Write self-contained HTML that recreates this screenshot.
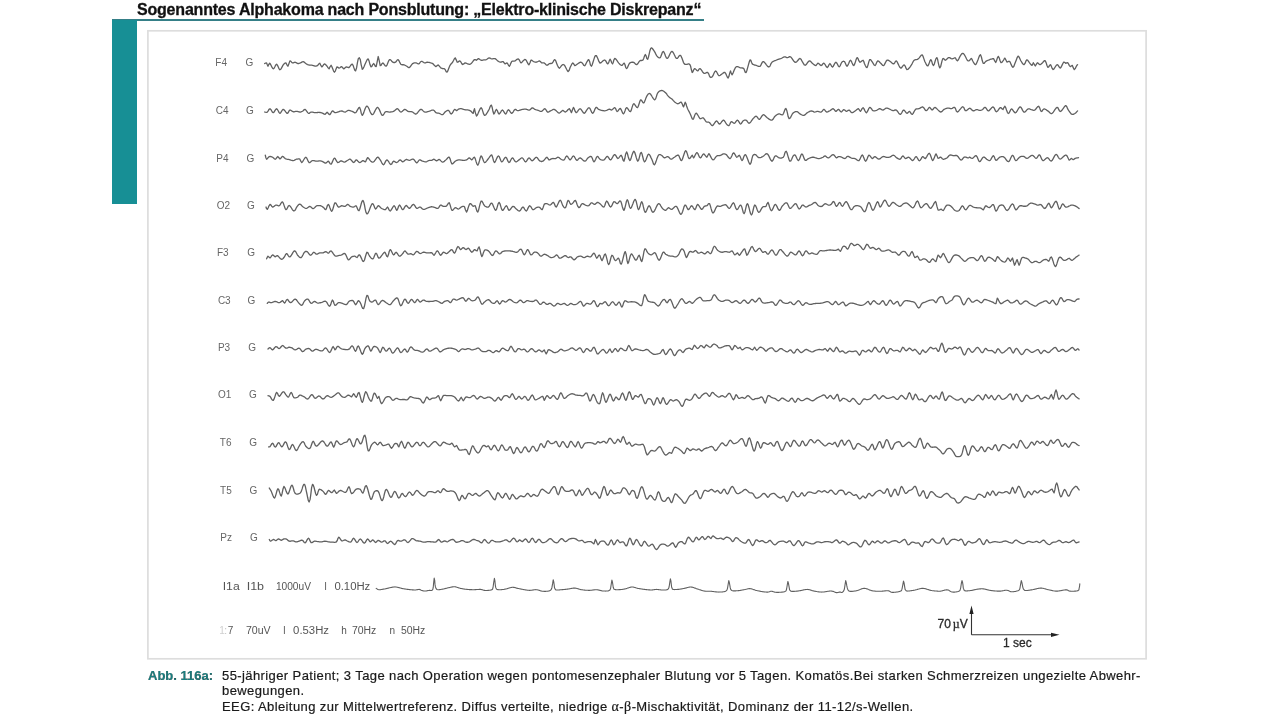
<!DOCTYPE html>
<html><head><meta charset="utf-8"><style>
html,body{margin:0;padding:0;background:#fff;width:1280px;height:720px;overflow:hidden}
body{position:relative;font-family:"Liberation Sans",Arial,sans-serif}
#title{position:absolute;left:137px;top:0.5px;font-weight:bold;font-size:16px;letter-spacing:-0.2px;color:#111;white-space:nowrap;-webkit-text-stroke:0.3px #111}
#tline{position:absolute;left:112px;top:19.2px;width:592px;height:1.6px;background:#357f87}
#tbar{position:absolute;left:112px;top:19.5px;width:25px;height:184.5px;background:#178f95}
svg{position:absolute;left:0;top:0}
.lab{font-size:10px;fill:#666}
.lab2{font-size:10px;fill:#555}
.sc{font-size:12px;fill:#2a2a2a;stroke:#2a2a2a;stroke-width:0.3px}
.tr{fill:none;stroke:#606060;stroke-width:1.3;stroke-linejoin:round;stroke-linecap:round}
#cap{position:absolute;left:148px;top:668px;font-size:13px;line-height:15.4px;color:#1a1a1a;letter-spacing:0.4px;-webkit-text-stroke:0.2px #1a1a1a}
#cap .abb{position:absolute;left:0;top:0;color:#187f80;font-weight:bold;white-space:nowrap;letter-spacing:0px}
#cap .txt{position:absolute;left:74px;top:0;width:1000px;white-space:nowrap}
.gr{font-family:"Liberation Serif",serif;font-size:14px}
</style></head><body>
<div id="title">Sogenanntes Alphakoma nach Ponsblutung: „Elektro-klinische Diskrepanz“</div>
<div id="tline"></div>
<div id="tbar"></div>
<svg width="1280" height="720" viewBox="0 0 1280 720">
<rect x="147.9" y="30.8" width="998.2" height="628" fill="none" stroke="#dddddd" stroke-width="1.7"/>
<text x="215.3" y="65.8" class="lab">F4</text>
<text x="245.5" y="65.8" class="lab">G</text>
<path class="tr" d="M264.7 63.55L265.6 63.02L266.6 62.89L267.3 64.70L268.0 66.21L268.7 64.53L269.7 63.16L270.3 63.90L271.0 65.31L271.8 66.91L272.6 68.25L273.3 68.87L274.1 68.19L275.0 66.55L275.8 64.90L276.6 64.22L277.4 65.14L278.3 67.02L279.1 68.90L279.9 69.80L280.8 69.24L281.6 67.81L282.5 66.15L283.2 64.88L284.2 63.81L285.1 63.05L285.9 62.89L286.9 64.76L287.9 66.21L288.9 63.64L289.9 60.90L290.7 61.12L291.6 62.15L292.5 62.89L293.4 62.79L294.3 62.40L295.2 62.23L296.1 62.60L297.0 63.19L297.9 63.55L298.7 63.51L299.6 63.23L300.5 62.89L301.4 62.37L302.3 61.78L303.2 61.56L304.1 62.01L304.9 62.82L305.8 63.55L306.7 64.08L307.5 64.53L308.5 64.88L309.2 65.01L310.0 65.08L310.9 65.13L311.7 65.18L312.5 65.28L313.4 65.52L314.3 65.83L315.1 66.10L315.8 66.21L316.9 65.94L317.8 65.28L318.8 63.93L319.8 63.16L320.7 65.07L321.8 66.88L322.6 66.20L323.5 64.79L324.4 63.95L325.3 64.31L326.2 65.24L327.1 66.21L328.1 67.90L329.1 68.87L330.0 66.81L331.1 65.28L331.8 66.56L332.7 68.84L333.6 71.07L334.4 72.19L335.3 71.08L336.2 68.61L337.0 66.88L338.0 67.31L339.0 68.20L339.9 67.75L340.8 66.96L341.7 66.61L342.7 67.76L343.7 68.87L344.5 68.42L345.4 67.50L346.3 66.88L347.2 67.05L348.1 67.51L349.0 67.54L349.8 66.76L350.6 65.51L351.5 64.44L352.3 64.22L353.2 65.62L354.0 68.10L354.8 70.29L355.6 70.86L356.6 67.70L357.5 62.44L358.3 58.64L359.3 57.74L360.3 59.57L361.2 64.87L362.3 69.27L363.0 68.75L363.9 66.93L364.8 64.69L365.6 62.89L366.5 60.94L367.4 59.26L368.2 58.91L369.1 61.10L370.0 64.61L370.9 66.88L371.8 66.37L372.7 64.61L373.6 63.55L374.5 64.59L375.4 66.33L376.2 66.61L377.3 61.19L378.2 56.52L379.2 60.57L380.2 65.55L381.0 65.31L381.9 63.77L382.9 62.89L383.6 63.53L384.5 64.80L385.3 65.94L386.2 66.21L387.0 65.03L387.8 62.93L388.7 60.81L389.5 59.57L390.3 59.64L391.2 60.48L392.0 61.53L392.8 62.23L393.8 62.52L394.6 62.52L395.5 62.23L396.4 61.27L397.2 60.01L398.1 59.57L399.0 60.73L399.9 62.69L400.8 64.22L401.6 64.65L402.4 64.76L403.3 64.76L404.1 64.88L405.0 65.28L405.9 65.74L406.8 66.21L407.6 66.85L408.5 67.49L409.4 67.54L410.2 66.84L411.0 65.67L411.9 64.44L412.7 63.55L413.6 63.11L414.4 62.91L415.3 62.86L416.1 62.89L417.0 63.25L417.9 63.81L418.7 63.95L419.6 63.19L420.4 62.01L421.4 61.30L422.2 61.45L423.0 61.97L423.9 62.55L424.7 62.89L425.6 62.79L426.4 62.43L427.4 62.23L428.2 62.30L429.1 62.48L429.9 62.69L430.7 62.89L431.7 63.07L432.7 63.55L433.4 64.26L434.3 65.23L435.2 66.13L436.0 66.61L437.0 65.73L438.0 64.88L438.7 65.42L439.5 66.39L440.4 67.44L441.3 68.20L442.1 68.49L443.0 68.54L443.8 68.58L444.6 68.87L445.5 70.15L446.2 71.72L447.0 72.19L447.7 71.15L448.4 69.28L449.2 67.21L449.9 65.55L450.8 64.23L451.7 63.29L452.6 62.23L453.5 60.52L454.4 58.69L455.2 57.84L456.2 59.84L457.2 62.23L458.1 62.02L459.0 61.19L459.9 60.90L460.8 61.92L461.7 63.49L462.5 64.48L463.4 64.23L464.3 63.40L465.2 62.89L466.0 63.06L466.9 63.50L467.7 63.96L468.5 64.22L469.4 64.27L470.3 64.10L471.2 63.55L472.0 62.68L472.9 61.48L473.7 60.32L474.5 59.57L475.6 59.75L476.5 60.23L477.4 59.38L478.5 58.64L479.3 59.00L480.2 59.72L481.1 60.23L482.0 60.29L482.9 60.14L483.8 59.97L484.7 59.89L485.6 59.81L486.4 59.57L487.3 58.99L488.2 58.26L489.1 57.84L490.0 58.04L490.8 58.55L491.8 58.91L492.6 58.87L493.4 58.70L494.3 58.56L495.1 58.64L496.0 59.24L496.9 60.12L497.7 60.90L498.6 61.48L499.5 61.97L500.4 62.23L501.3 62.04L502.2 61.63L503.0 61.56L504.1 62.78L505.0 63.95L506.0 63.36L507.0 62.89L507.8 63.97L508.6 65.53L509.4 66.21L510.1 65.10L510.9 63.11L511.7 61.56L512.4 61.15L513.3 61.06L514.1 61.06L515.0 60.90L515.8 60.35L516.7 59.61L517.5 59.02L518.3 58.91L519.3 60.01L520.2 61.78L521.0 62.89L522.0 62.23L523.0 60.90L523.8 60.16L524.7 59.50L525.6 59.57L526.4 60.66L527.3 62.43L528.2 64.10L528.9 64.88L530.0 62.81L530.9 60.23L531.8 60.26L532.7 60.95L533.6 61.56L534.5 61.91L535.3 62.18L536.2 62.23L537.1 61.96L538.0 61.48L538.8 61.04L539.6 60.90L540.6 61.81L541.6 62.89L542.4 62.95L543.3 62.79L544.2 62.89L545.1 63.66L546.0 64.70L546.9 65.28L547.8 64.96L548.6 64.18L549.5 63.55L550.4 63.44L551.3 63.48L552.2 63.16L553.1 61.84L554.0 60.18L554.8 59.57L555.8 60.98L556.7 63.45L557.5 65.55L558.5 67.41L559.5 68.20L560.4 67.08L561.5 65.55L562.3 64.91L563.1 64.49L564.1 64.88L564.9 65.91L565.7 67.52L566.6 69.28L567.4 70.76L568.1 71.52L569.2 70.24L570.1 67.54L571.0 65.77L571.9 63.92L572.8 62.89L573.8 64.03L574.8 65.55L575.6 65.34L576.5 64.65L577.4 63.95L578.2 63.46L579.1 62.91L580.0 62.45L580.7 62.23L581.8 62.64L582.7 63.55L583.6 65.16L584.7 65.81L585.4 64.90L586.2 63.31L587.1 61.55L588.0 60.13L588.7 59.57L589.6 61.47L590.4 64.80L591.4 66.21L592.1 64.97L592.9 62.53L593.8 59.66L594.6 57.09L595.4 55.59L596.4 55.63L597.2 57.22L598.0 58.91L598.9 61.42L600.0 63.12L600.6 62.95L601.4 62.37L602.3 61.58L603.1 60.79L604.0 60.20L604.7 60.00L605.6 60.68L606.4 62.05L607.1 63.37L607.8 63.91L608.7 62.63L609.4 60.41L610.2 59.22L610.9 60.46L611.7 62.75L612.5 63.91L613.2 62.46L613.9 59.88L614.8 58.44L615.5 58.76L616.3 59.69L617.2 60.93L618.0 62.17L618.8 63.12L619.6 63.99L620.4 64.74L621.2 65.27L621.9 65.47L622.7 64.75L623.5 63.50L624.2 63.12L625.0 64.77L625.7 67.29L626.6 68.59L627.3 67.89L628.0 66.25L628.8 64.42L629.7 63.12L630.4 62.62L631.2 62.33L632.0 62.21L632.9 62.23L633.6 62.34L634.4 62.86L635.2 63.71L636.0 64.47L636.7 64.69L637.5 64.08L638.3 62.93L639.1 61.68L639.8 60.78L640.6 60.48L641.5 60.49L642.2 60.45L643.0 60.00L643.8 58.15L644.6 55.78L645.3 54.53L646.1 55.92L646.8 58.44L647.7 59.22L648.4 57.27L649.2 53.90L650.0 50.45L650.8 48.28L651.6 47.86L652.3 48.43L653.1 49.51L653.9 50.62L654.7 51.86L655.5 53.41L656.2 54.93L657.0 56.09L657.8 56.94L658.6 57.61L659.4 57.91L660.2 57.66L660.9 56.33L661.7 54.19L662.4 52.22L663.3 51.41L664.0 52.19L664.8 53.94L665.5 56.00L666.3 57.72L667.2 58.44L667.9 57.92L668.7 56.61L669.5 54.92L670.3 53.23L671.1 51.93L671.9 51.41L672.7 51.88L673.5 53.08L674.3 54.68L675.1 56.33L675.8 57.69L676.6 58.44L677.4 58.27L678.2 57.36L678.9 56.21L679.7 55.35L680.5 55.31L681.2 56.42L682.0 58.32L682.8 60.52L683.5 62.55L684.4 63.91L685.1 64.38L686.0 64.46L686.9 64.30L687.7 64.05L688.5 63.87L689.1 63.91L690.0 64.69L690.6 66.25L691.4 69.77L692.2 72.50L692.9 71.72L693.7 69.81L694.5 68.59L695.3 68.85L696.1 69.67L696.9 70.53L697.7 70.94L698.4 70.24L699.1 69.03L700.0 68.59L700.7 69.17L701.5 70.22L702.3 71.46L703.1 72.58L703.9 73.28L704.7 73.39L705.5 73.10L706.4 72.68L707.1 72.39L707.8 72.50L708.7 73.86L709.4 75.83L710.2 77.19L710.9 77.51L711.7 77.22L712.5 76.41L713.2 75.13L714.0 73.33L714.8 71.70L715.6 70.94L716.4 71.54L717.2 73.04L718.0 74.65L718.8 75.62L719.5 75.67L720.3 75.23L721.1 74.60L721.9 74.06L722.7 73.51L723.4 72.84L724.2 72.40L725.0 72.50L725.8 73.67L726.6 75.58L727.4 77.32L728.1 77.97L729.0 76.15L729.8 72.93L730.5 70.94L731.2 72.94L732.0 74.84L732.6 73.89L733.4 72.15L734.2 70.10L735.1 68.23L735.9 67.03L736.7 66.66L737.5 66.66L738.3 66.88L739.1 67.23L739.9 67.58L740.6 67.81L741.5 67.93L742.3 68.01L743.1 68.18L743.8 68.59L744.5 70.27L745.2 72.30L746.1 72.50L746.8 70.79L747.6 67.89L748.5 64.61L749.3 61.71L750.0 60.00L750.8 60.17L751.5 62.17L752.3 63.91L753.0 64.38L753.8 64.74L754.6 65.01L755.4 65.24L756.2 65.47L757.0 65.76L757.9 66.10L758.6 66.37L759.4 66.46L760.2 66.25L760.9 65.22L761.6 63.61L762.4 62.15L763.3 61.56L764.0 61.90L764.7 62.68L765.6 63.73L766.4 64.87L767.3 65.91L768.1 66.69L768.8 67.03L769.7 66.52L770.4 65.18L771.0 63.59L771.9 62.34L772.6 61.81L773.3 61.36L774.1 60.98L774.9 60.64L775.8 60.32L776.6 60.00L777.4 59.69L778.2 59.42L779.0 59.17L779.8 58.93L780.6 58.69L781.2 58.44L782.1 57.99L782.9 57.51L783.6 57.10L784.4 56.88L785.2 56.94L785.9 57.22L786.7 57.52L787.5 57.66L788.2 57.42L789.0 56.97L789.7 56.67L790.6 56.88L791.3 57.53L792.1 58.58L792.9 59.80L793.7 60.98L794.5 61.90L795.3 62.34L796.1 62.15L797.0 61.45L797.8 60.50L798.6 59.52L799.3 58.75L800.0 58.44L801.0 59.16L801.8 60.73L802.6 62.23L803.5 63.57L804.3 64.84L805.3 65.28L806.0 64.77L806.8 63.73L807.7 62.50L808.5 61.44L809.3 60.90L810.2 61.08L811.0 61.83L811.8 62.77L812.6 63.55L813.5 64.20L814.4 64.87L815.2 65.37L815.9 65.55L816.9 64.33L817.9 63.16L818.7 63.53L819.5 64.35L820.4 65.17L821.2 65.55L822.2 64.85L823.0 63.63L823.9 63.16L824.7 63.97L825.6 65.45L826.4 66.87L827.2 67.54L828.2 66.55L829.0 64.63L829.9 63.55L830.7 64.50L831.6 66.29L832.5 67.14L833.3 66.29L834.1 64.62L835.0 62.98L835.9 62.23L836.7 62.93L837.6 64.53L838.4 66.14L839.2 66.88L840.1 65.87L841.0 63.83L841.8 62.23L842.7 61.51L843.6 61.24L844.5 61.56L845.3 63.11L846.2 65.25L847.1 66.21L847.9 65.20L848.8 63.18L849.6 61.18L850.5 60.23L851.3 61.08L852.1 63.02L853.0 64.89L853.8 65.55L854.6 64.19L855.5 61.60L856.3 58.99L857.1 57.58L858.0 58.44L858.8 60.70L859.8 62.23L860.6 62.07L861.5 61.31L862.4 60.51L863.1 60.23L863.8 61.52L864.4 63.55L865.2 65.28L866.1 67.07L867.1 67.54L867.9 65.37L868.8 61.88L869.7 59.57L870.6 59.64L871.5 60.90L872.4 62.23L873.3 63.58L874.1 65.01L875.0 65.55L875.9 64.32L876.8 62.20L877.7 60.90L878.5 61.06L879.3 61.81L880.2 62.77L881.0 63.55L881.9 64.54L882.8 65.45L883.7 65.55L884.4 64.58L885.3 62.93L886.1 61.27L887.0 60.23L887.8 60.07L888.6 60.42L889.5 61.00L890.3 61.56L891.2 62.21L892.0 63.03L892.8 63.71L893.6 63.95L894.6 63.05L895.4 61.55L896.3 60.90L897.2 61.95L898.1 63.86L898.9 65.55L899.9 67.37L900.9 68.20L901.7 67.61L902.5 66.42L903.4 65.29L904.2 64.88L905.2 66.09L906.0 68.18L906.9 69.53L907.8 69.43L908.7 68.60L909.6 67.54L910.5 66.33L911.4 64.91L912.2 63.55L913.1 61.73L914.2 60.23L914.9 59.88L915.7 59.69L916.5 59.53L917.4 59.31L918.2 58.91L919.0 58.11L919.9 56.99L920.7 55.88L921.5 55.08L922.2 54.92L923.1 56.44L924.0 59.13L924.8 61.56L925.6 63.04L926.3 64.49L927.1 65.54L927.9 65.81L928.6 64.70L929.4 62.58L930.1 60.52L930.8 59.57L931.7 61.17L932.5 64.14L933.5 65.55L934.3 64.11L935.1 61.29L936.0 58.61L936.8 57.58L937.6 59.34L938.3 62.84L939.1 66.30L939.8 67.94L940.6 66.74L941.3 63.84L942.1 60.66L942.8 58.64L943.6 58.52L944.5 59.61L945.4 60.23L946.2 59.78L947.0 58.92L947.9 58.06L948.7 57.58L949.6 57.69L950.4 58.14L951.2 58.65L952.1 58.91L952.9 58.71L953.8 58.27L954.6 57.88L955.4 57.84L956.3 59.78L957.4 60.90L958.0 60.24L958.7 59.07L959.4 57.60L960.2 56.07L961.1 54.70L961.9 53.71L962.7 53.33L963.5 53.70L964.3 54.68L965.1 56.04L965.9 57.56L966.6 59.02L967.3 60.21L968.0 60.90L969.0 60.89L969.9 60.03L970.6 59.00L971.3 58.49L972.0 59.21L972.6 60.73L973.2 61.80L974.0 63.14L974.8 64.26L975.5 64.69L976.3 63.81L977.1 61.98L977.9 60.07L978.7 57.85L979.6 55.55L980.5 54.79L981.4 57.02L982.3 60.78L983.2 63.37L984.0 63.47L984.9 62.39L985.8 61.39L986.7 60.89L987.5 60.47L988.4 60.07L989.3 59.77L990.1 59.48L991.0 59.22L991.7 59.01L992.8 58.59L993.7 58.75L994.7 60.96L995.7 62.44L996.5 60.69L997.4 57.84L998.3 56.38L999.2 57.90L1000.1 60.80L1001.0 62.71L1001.9 62.47L1002.8 61.23L1003.6 60.07L1004.3 58.67L1004.9 58.09L1005.9 59.99L1006.9 62.05L1007.7 61.93L1008.6 61.29L1009.6 61.39L1010.4 62.67L1011.2 64.65L1012.1 66.48L1012.9 67.33L1013.8 66.42L1014.6 64.27L1015.5 62.05L1016.4 59.73L1017.3 57.33L1018.1 56.11L1019.0 56.89L1019.9 58.85L1020.8 60.73L1021.6 61.97L1022.4 63.30L1023.3 64.33L1024.1 64.69L1025.0 63.43L1025.9 61.18L1026.7 59.81L1027.6 60.21L1028.5 61.47L1029.4 62.71L1030.3 63.80L1031.2 64.87L1032.0 65.35L1032.7 63.99L1033.3 62.71L1034.3 64.40L1035.3 66.01L1036.3 64.44L1037.3 62.71L1038.1 63.12L1039.0 64.13L1039.9 64.69L1040.8 64.32L1041.7 63.51L1042.6 62.71L1043.4 61.73L1044.3 60.75L1045.2 60.73L1046.1 62.64L1047.0 65.49L1047.8 67.33L1048.7 66.85L1049.6 65.35L1050.5 64.69L1051.3 66.12L1052.2 68.39L1053.1 69.57L1053.8 69.09L1054.6 67.93L1055.5 66.52L1056.3 65.30L1057.1 64.69L1058.0 65.15L1058.8 66.40L1059.6 67.62L1060.4 67.99L1061.2 66.98L1062.1 65.14L1063.0 63.24L1063.7 62.05L1064.8 62.38L1065.7 63.37L1066.6 62.87L1067.7 62.71L1068.5 63.88L1069.4 65.57L1070.3 66.67L1071.3 65.99L1072.3 65.35L1073.2 67.64L1074.3 69.57L1075.2 68.66L1076.1 66.80L1076.9 65.35L1077.4 64.75L1077.6 64.69"/>
<text x="215.8" y="114" class="lab">C4</text>
<text x="246.0" y="114" class="lab">G</text>
<path class="tr" d="M264.7 112.03L265.3 112.15L266.3 112.28L267.3 112.03L268.2 110.90L269.0 109.40L270.0 108.71L270.8 109.38L271.6 110.74L272.4 112.09L273.3 112.70L274.1 112.06L274.9 110.66L275.8 109.29L276.6 108.71L277.4 109.47L278.3 111.04L279.1 112.60L279.9 113.36L280.7 112.78L281.5 111.41L282.4 110.01L283.2 109.38L284.0 109.78L284.9 110.75L285.7 111.91L286.5 112.90L287.2 113.36L288.2 112.61L289.0 111.04L289.9 110.04L290.7 110.17L291.5 110.72L292.4 111.37L293.2 111.77L294.0 111.79L294.8 111.63L295.7 111.44L296.5 111.37L297.3 111.46L298.1 111.65L299.0 111.86L299.8 112.01L300.5 112.03L301.5 111.74L302.4 111.22L303.2 110.70L304.1 109.71L305.2 109.38L305.9 110.12L306.8 111.37L307.7 112.61L308.5 113.36L309.4 113.24L310.2 112.52L311.1 112.03L311.9 112.05L312.6 112.20L313.5 112.40L314.3 112.59L315.1 112.70L315.9 112.69L316.8 112.61L317.6 112.51L318.4 112.44L319.1 112.43L320.0 112.51L320.9 112.66L321.7 112.86L322.4 113.09L323.4 113.62L324.3 114.21L325.1 114.42L326.1 113.29L327.1 112.30L327.9 112.99L328.8 114.18L329.7 114.69L330.6 113.70L331.5 112.03L332.4 110.97L333.3 111.24L334.1 112.11L335.0 112.70L335.8 112.65L336.7 112.39L337.5 112.05L338.4 111.77L339.2 111.51L340.0 111.24L340.9 111.03L341.7 110.97L342.5 111.17L343.3 111.55L344.2 111.91L345.0 112.03L345.8 111.76L346.6 111.24L347.5 110.72L348.3 110.44L349.1 110.46L349.9 110.61L350.7 110.85L351.5 111.12L352.3 111.37L353.2 111.83L354.0 112.42L354.8 112.82L355.6 112.70L356.4 111.85L357.2 110.41L358.1 108.87L358.9 107.70L359.6 107.38L360.5 109.69L361.3 113.48L362.3 115.35L362.9 114.59L363.7 112.87L364.4 110.66L365.2 108.46L366.1 106.77L366.9 106.05L367.6 106.49L368.4 107.68L369.2 109.34L369.9 111.16L370.7 112.86L371.5 114.13L372.2 114.69L373.0 114.35L373.8 113.32L374.5 111.87L375.3 110.28L376.1 108.82L376.8 107.76L377.5 107.38L378.4 107.96L379.2 109.34L380.0 111.13L380.8 112.99L381.5 114.52L382.2 115.35L383.1 115.18L383.9 114.04L384.7 112.66L385.5 111.77L386.3 111.59L387.1 111.64L387.9 111.81L388.7 111.98L389.5 112.03L390.3 111.99L391.1 111.93L391.9 111.82L392.7 111.64L393.5 111.37L394.3 110.87L395.1 110.16L395.9 109.44L396.7 108.89L397.5 108.71L398.3 109.26L399.1 110.37L399.9 111.48L400.8 112.03L401.6 111.81L402.4 111.18L403.2 110.39L404.0 109.70L404.8 109.38L405.6 109.58L406.4 110.18L407.2 110.87L408.1 111.37L408.8 111.52L409.6 111.55L410.5 111.55L411.3 111.59L412.1 111.77L412.9 112.21L413.6 112.87L414.4 113.53L415.2 113.98L416.1 114.02L416.8 113.56L417.6 112.71L418.4 111.67L419.2 110.64L420.0 109.81L420.7 109.38L421.6 109.49L422.4 110.07L423.1 110.86L423.9 111.60L424.7 112.03L425.5 112.12L426.3 112.04L427.0 111.84L427.8 111.60L428.7 111.37L429.4 111.14L430.3 110.83L431.1 110.50L431.9 110.21L432.7 110.04L433.3 110.04L434.3 110.70L435.1 111.81L436.0 112.70L436.8 112.99L437.6 113.11L438.5 113.19L439.3 113.36L440.1 113.74L441.0 114.25L441.8 114.64L442.6 114.69L443.5 113.97L444.4 112.78L445.3 111.77L446.1 111.21L446.9 110.69L447.8 110.39L448.6 110.44L449.5 111.57L450.3 113.26L451.2 114.02L452.1 113.30L453.0 111.84L453.8 110.31L454.6 109.38L455.6 109.85L456.6 110.70L457.5 110.01L458.6 109.11L459.4 108.84L460.3 108.70L461.2 108.71L462.0 108.86L462.8 109.13L463.6 109.41L464.5 109.64L465.3 109.74L466.1 109.79L467.0 109.84L467.8 109.91L468.5 110.04L469.5 110.39L470.4 110.84L471.2 111.37L472.3 112.74L473.2 113.36L473.8 110.70L474.5 108.71L475.3 112.59L476.5 116.02L477.1 115.36L477.9 113.84L478.7 111.88L479.6 109.93L480.4 108.42L481.1 107.78L482.0 108.85L482.8 111.34L483.6 113.95L484.5 115.35L485.2 115.22L486.1 114.42L486.9 113.22L487.7 111.89L488.4 110.70L489.3 109.03L490.0 107.07L490.7 105.52L491.4 105.12L492.2 107.52L493.0 111.52L493.8 114.02L494.6 113.13L495.5 110.74L496.4 109.38L497.3 110.56L498.1 112.77L499.1 114.02L499.8 113.45L500.7 112.07L501.5 110.68L502.4 110.04L503.2 110.67L504.1 112.06L504.9 113.43L505.7 114.02L506.6 112.88L507.4 110.81L508.4 109.64L509.1 110.18L510.0 111.48L510.8 112.78L511.7 113.36L512.5 112.78L513.4 111.52L514.2 110.18L515.0 109.38L515.9 109.51L516.7 110.24L517.7 110.70L518.4 110.64L519.2 110.42L520.0 110.14L520.8 109.86L521.6 109.64L522.4 109.48L523.2 109.32L524.0 109.19L524.8 109.11L525.6 109.11L526.4 109.25L527.3 109.53L528.1 109.83L528.9 110.03L529.6 110.04L530.6 109.38L531.4 108.37L532.3 107.78L533.1 108.05L534.0 108.74L534.9 109.38L535.7 109.68L536.5 109.95L537.4 110.19L538.2 110.44L539.1 110.76L539.9 111.13L540.7 111.39L541.6 111.37L542.4 110.82L543.3 109.89L544.1 109.04L544.9 108.71L545.8 109.55L546.6 111.05L547.5 112.03L548.3 112.03L549.2 111.66L550.0 111.14L550.9 110.70L551.7 110.28L552.5 109.79L553.3 109.43L554.2 109.38L555.0 109.80L555.9 110.55L556.8 111.39L557.5 112.03L558.5 112.89L559.5 113.09L560.2 112.59L561.1 111.73L562.0 110.89L562.8 110.44L563.7 110.84L564.5 111.71L565.5 112.03L566.2 111.56L567.1 110.71L567.9 109.75L568.8 108.99L569.5 108.71L570.6 110.83L571.4 112.70L572.4 109.96L573.4 107.38L574.2 108.71L575.1 111.22L576.1 112.70L576.8 112.36L577.6 111.36L578.4 110.13L579.3 109.10L580.1 108.71L580.9 109.22L581.7 110.33L582.6 111.66L583.4 112.80L584.1 113.36L585.0 112.80L585.9 111.36L586.7 110.04L587.6 108.92L588.4 107.91L589.4 107.78L590.2 108.90L591.0 110.80L591.8 112.59L592.7 113.36L593.5 112.49L594.4 110.60L595.2 108.59L596.0 107.38L596.8 107.48L597.6 108.46L598.7 109.38L599.3 109.60L600.0 109.84L600.7 110.08L601.6 110.30L602.4 110.50L603.2 110.65L604.0 110.75L604.7 110.78L605.6 110.67L606.4 110.39L607.3 110.04L608.0 109.68L608.7 109.38L609.4 109.22L610.3 109.42L611.0 109.88L611.7 110.00L612.5 109.49L613.3 108.63L614.1 107.88L614.8 107.66L615.7 108.76L616.4 110.55L617.2 111.56L617.9 111.07L618.7 109.90L619.5 108.78L620.3 108.44L621.1 109.48L621.9 111.37L622.7 113.16L623.4 113.91L624.2 112.93L625.0 110.88L625.7 108.78L626.6 107.66L627.3 107.97L628.1 109.05L628.9 110.36L629.7 111.37L630.5 111.56L631.3 110.16L632.0 107.66L632.8 105.15L633.6 103.75L634.3 103.97L635.1 105.03L636.0 106.38L636.8 107.44L637.5 107.66L638.3 106.27L639.1 103.80L639.9 101.30L640.6 99.84L641.4 100.09L642.2 101.36L643.0 102.65L643.8 102.97L644.5 101.82L645.3 99.79L646.1 97.60L646.9 95.94L647.6 94.82L648.3 93.94L649.1 93.47L650.0 93.59L650.7 94.29L651.5 95.53L652.3 97.01L653.2 98.43L654.0 99.47L654.7 99.84L655.6 98.91L656.3 96.87L657.0 94.55L657.8 92.81L658.5 91.97L659.3 91.31L660.1 90.84L660.9 90.56L661.7 90.47L662.5 90.61L663.3 90.99L664.1 91.54L664.9 92.17L665.6 92.81L666.5 93.72L667.2 94.77L668.0 95.82L668.8 96.72L669.5 97.40L670.3 97.94L671.1 98.46L671.9 99.06L672.7 99.83L673.4 100.67L674.2 101.50L675.0 102.19L675.8 102.76L676.6 103.26L677.3 103.62L678.1 103.75L678.9 103.43L679.7 102.77L680.5 102.21L681.2 102.19L682.1 103.63L682.9 105.78L683.6 106.88L684.4 104.43L685.2 102.19L685.9 103.46L686.6 105.95L687.5 108.44L688.2 110.04L689.1 111.66L689.9 113.23L690.6 114.69L691.4 116.77L692.2 118.68L693.0 119.38L693.7 118.31L694.4 116.20L695.2 114.12L696.1 113.12L696.8 113.57L697.6 114.77L698.5 116.29L699.3 117.71L700.0 118.59L700.8 118.73L701.6 118.30L702.4 117.82L703.1 117.81L703.9 118.53L704.7 119.67L705.5 120.85L706.2 121.72L707.0 122.08L707.8 122.16L708.6 122.21L709.4 122.50L710.1 123.30L710.9 124.40L711.7 125.34L712.5 125.62L713.2 125.06L714.0 123.94L714.9 122.62L715.7 121.50L716.4 120.94L717.2 121.33L718.0 122.45L718.7 123.59L719.5 124.06L720.3 123.61L721.1 122.63L721.9 121.49L722.7 120.55L723.4 120.16L724.3 120.64L725.1 121.77L725.9 123.07L726.6 124.06L727.4 124.96L728.2 125.60L728.9 125.62L729.7 124.53L730.4 122.82L731.2 121.72L732.0 121.83L732.8 122.45L733.6 123.09L734.4 123.28L735.2 122.66L735.9 121.57L736.7 120.55L737.5 120.16L738.3 120.80L739.1 122.11L739.9 123.42L740.6 124.06L741.4 123.45L742.2 122.07L743.0 120.94L743.7 120.49L744.5 120.16L745.3 120.02L746.1 120.16L746.9 120.85L747.6 121.96L748.4 122.96L749.2 123.28L750.0 122.81L750.8 121.86L751.6 120.67L752.4 119.51L753.1 118.59L754.0 117.71L754.7 116.93L755.5 116.40L756.2 116.25L757.0 116.83L757.8 117.96L758.5 119.01L759.4 119.38L760.1 118.81L760.9 117.69L761.7 116.38L762.5 115.25L763.3 114.69L764.0 114.83L764.8 115.41L765.6 116.24L766.4 117.11L767.2 117.81L767.9 118.32L768.7 118.88L769.6 119.42L770.4 119.87L771.2 120.14L771.9 120.16L772.7 119.58L773.5 118.50L774.2 117.26L775.0 116.25L775.7 115.63L776.5 115.05L777.3 114.54L778.1 114.15L778.9 113.91L779.7 113.97L780.5 114.33L781.3 114.73L782.1 114.93L782.8 114.69L783.6 113.23L784.4 110.98L785.2 109.01L785.9 108.44L786.7 110.19L787.5 113.47L788.2 116.77L789.1 118.59L789.8 118.44L790.6 117.34L791.4 115.78L792.2 114.22L793.0 113.12L793.8 112.50L794.6 112.03L795.4 111.72L796.1 111.56L796.9 111.56L797.7 111.89L798.4 112.55L799.2 113.29L800.0 113.91L800.8 114.32L801.6 114.75L802.4 115.11L803.2 115.34L804.0 115.35L804.8 114.95L805.6 114.22L806.4 113.39L807.3 112.70L808.1 112.25L808.9 111.80L809.7 111.41L810.5 111.12L811.3 110.97L812.2 111.08L813.0 111.43L813.8 111.82L814.6 112.03L815.4 111.96L816.3 111.72L817.1 111.48L817.9 111.37L818.8 111.52L819.6 111.82L820.5 112.07L821.2 112.03L822.2 111.20L823.0 109.99L823.9 109.38L824.8 110.01L825.6 111.24L826.6 112.03L827.3 111.99L828.2 111.66L829.0 111.18L829.9 110.70L830.7 110.14L831.6 109.46L832.4 108.90L833.2 108.71L834.1 109.42L835.0 110.65L835.9 111.37L836.7 110.88L837.6 109.87L838.5 109.38L839.4 110.10L840.3 111.35L841.2 112.03L842.0 111.46L842.9 110.32L843.8 109.64L844.7 110.02L845.6 110.87L846.5 111.37L847.4 111.00L848.2 110.30L849.1 110.04L850.0 110.79L850.9 111.99L851.8 112.70L852.6 112.58L853.4 112.14L854.3 111.54L855.1 110.97L856.0 110.33L856.9 109.57L857.7 108.94L858.4 108.71L859.5 110.12L860.4 111.37L861.2 110.32L862.1 108.58L863.1 107.78L863.9 108.65L864.7 110.35L865.6 111.99L866.4 112.70L867.2 111.88L868.1 110.14L868.9 108.34L869.7 107.38L870.5 107.69L871.4 108.73L872.2 109.92L873.0 110.70L873.9 110.92L874.7 110.89L875.5 110.69L876.4 110.44L877.2 110.04L878.0 109.47L878.8 108.96L879.7 108.71L880.5 108.91L881.3 109.39L882.2 109.87L883.0 110.04L883.8 109.70L884.7 109.06L885.5 108.41L886.3 108.05L887.2 108.09L888.0 108.35L888.8 108.73L889.6 109.11L890.5 109.52L891.3 110.01L892.1 110.45L893.0 110.70L893.8 110.58L894.6 110.20L895.4 109.90L896.3 110.04L897.0 110.73L897.9 111.85L898.7 113.06L899.5 114.03L900.3 114.42L901.1 113.76L902.0 112.30L902.8 110.80L903.6 110.04L904.4 110.45L905.3 111.55L906.1 112.72L906.9 113.36L907.8 112.90L908.7 111.85L909.6 111.37L910.4 112.31L911.3 113.82L912.2 114.42L913.0 113.63L913.8 112.13L914.7 110.52L915.5 109.38L916.4 108.93L917.2 108.84L918.0 108.85L918.9 108.71L919.6 108.35L920.4 107.84L921.3 107.33L922.1 107.00L922.8 106.98L923.7 107.70L924.5 108.94L925.3 110.14L926.2 110.70L927.0 110.23L927.9 109.11L928.7 107.96L929.5 107.38L930.4 108.02L931.3 109.33L932.1 110.04L933.0 109.38L933.9 108.12L934.8 107.38L935.7 107.68L936.5 108.49L937.5 109.38L938.2 110.12L939.1 110.99L939.9 111.73L940.8 112.03L941.6 111.71L942.4 110.95L943.2 110.07L944.1 109.38L944.9 108.99L945.7 108.65L946.5 108.37L947.3 108.16L948.1 108.05L949.0 108.12L949.8 108.38L950.6 108.64L951.4 108.71L952.2 108.38L953.1 107.80L953.9 107.34L954.7 107.38L955.6 108.86L956.3 111.00L957.4 112.03L958.0 111.71L958.8 110.97L959.6 109.96L960.5 108.87L961.3 107.85L962.0 107.08L962.7 106.72L963.8 107.55L964.6 109.42L965.3 110.70L966.3 110.65L967.2 110.00L968.0 109.38L968.9 108.55L970.0 108.23L970.7 108.72L971.5 109.56L972.4 110.40L973.3 110.87L974.1 110.76L974.9 110.32L975.7 109.81L976.6 109.55L977.4 109.67L978.3 109.99L979.1 110.32L979.9 110.47L980.8 110.35L981.6 110.02L982.5 109.55L983.4 108.68L984.2 107.67L985.1 107.31L985.9 107.96L986.7 109.19L987.5 110.37L988.4 110.87L989.2 110.54L989.9 109.78L990.8 108.81L991.6 107.85L992.4 107.14L993.1 106.91L994.0 107.72L994.8 109.37L995.5 111.00L996.4 111.79L997.1 111.43L998.0 110.46L998.8 109.25L999.6 108.16L1000.3 107.57L1001.3 107.97L1002.2 109.05L1003.0 109.55L1003.9 107.57L1004.9 106.25L1005.7 107.60L1006.5 109.96L1007.4 112.28L1008.2 113.51L1009.1 112.99L1009.9 111.40L1010.7 109.72L1011.5 108.89L1012.3 109.29L1013.0 110.33L1013.8 111.56L1014.7 112.55L1015.5 112.85L1016.2 112.30L1017.0 111.19L1017.8 109.80L1018.6 108.42L1019.4 107.36L1020.1 106.91L1021.0 107.38L1021.8 108.63L1022.5 110.16L1023.3 111.50L1024.1 112.19L1024.9 112.01L1025.7 111.30L1026.5 110.34L1027.3 109.43L1028.0 108.89L1028.9 108.78L1029.7 108.97L1030.5 109.29L1031.3 109.55L1032.2 109.82L1033.0 110.17L1033.8 110.37L1034.6 110.21L1035.4 109.56L1036.2 108.51L1037.1 107.39L1037.9 106.52L1038.6 106.25L1039.6 107.62L1040.4 110.01L1041.2 111.53L1042.1 111.06L1042.9 109.72L1043.9 108.89L1044.6 108.98L1045.4 109.32L1046.2 109.81L1047.0 110.36L1047.8 110.87L1048.6 111.50L1049.4 112.30L1050.1 113.06L1050.9 113.53L1051.8 113.51L1052.5 112.99L1053.3 112.08L1054.1 110.92L1054.9 109.70L1055.7 108.58L1056.4 107.72L1057.1 107.31L1058.0 107.87L1058.7 109.40L1059.5 110.94L1060.4 111.53L1061.1 111.13L1061.9 110.30L1062.7 109.21L1063.5 108.02L1064.3 106.91L1065.1 106.04L1065.7 105.59L1066.7 106.54L1067.7 108.89L1068.3 109.91L1069.1 111.14L1070.0 112.39L1070.8 113.46L1071.6 114.17L1072.5 114.47L1073.3 114.33L1074.1 113.95L1074.9 113.51L1075.9 112.68L1076.9 111.63L1077.6 110.87"/>
<text x="216.3" y="161.5" class="lab">P4</text>
<text x="246.5" y="161.5" class="lab">G</text>
<path class="tr" d="M265.3 155.23L265.8 157.39L266.6 159.22L267.4 158.70L268.3 157.45L269.3 156.56L270.1 156.46L271.0 156.60L271.8 156.89L272.6 157.23L273.6 157.96L274.4 158.85L275.3 159.22L276.2 158.49L277.1 157.25L277.9 156.56L278.9 157.76L279.9 158.95L280.8 158.26L281.7 157.01L282.6 156.30L283.4 156.73L284.3 157.72L285.2 158.55L286.0 158.88L286.8 159.09L287.6 159.27L288.6 159.48L289.3 159.68L290.1 159.92L290.9 160.16L291.7 160.36L292.5 160.51L293.2 160.55L294.1 160.35L295.0 159.95L295.7 159.51L296.5 159.22L297.4 159.05L298.3 158.93L299.1 158.95L299.9 159.22L300.8 161.21L301.8 162.54L302.5 161.86L303.3 160.53L304.2 159.00L305.0 157.75L305.8 157.23L306.7 157.98L307.5 159.68L308.3 161.48L309.1 162.54L310.0 162.49L310.8 161.83L311.6 161.03L312.5 160.55L313.2 160.53L314.0 160.67L314.8 160.89L315.6 161.10L316.5 161.21L317.3 161.18L318.1 161.06L318.9 160.92L319.7 160.82L320.4 160.81L321.4 161.05L322.3 161.45L323.1 161.88L324.0 162.42L324.9 163.00L325.8 163.20L326.6 162.60L327.5 161.62L328.4 161.21L329.3 162.19L330.1 163.74L331.1 164.27L331.8 163.14L332.7 161.13L333.5 159.16L334.4 158.16L335.2 158.66L336.0 160.07L336.9 161.63L337.7 162.54L338.5 162.47L339.4 161.87L340.2 161.17L341.0 160.81L341.9 161.00L342.7 161.48L343.5 161.96L344.3 162.14L345.2 161.88L346.0 161.36L346.9 160.76L347.7 160.28L348.6 159.71L349.4 159.22L350.3 159.22L351.1 159.88L352.0 160.98L352.8 162.03L353.6 162.54L354.6 161.90L355.4 160.60L356.3 159.88L357.1 160.28L357.9 161.17L358.8 162.08L359.6 162.54L360.5 162.29L361.3 161.63L362.2 160.92L362.9 160.55L363.9 160.95L364.8 161.72L365.6 161.88L366.5 159.61L367.6 157.62L368.3 158.04L369.2 159.11L370.1 160.34L370.9 161.21L371.8 161.85L372.6 162.16L373.6 161.88L374.3 161.17L375.1 160.05L376.0 158.81L376.8 157.77L377.5 157.23L378.5 157.49L379.3 158.56L380.2 159.88L381.0 161.18L381.8 162.81L382.7 164.21L383.5 164.80L384.3 164.04L385.1 162.36L386.0 160.67L386.8 159.88L387.6 160.33L388.5 161.44L389.3 162.79L390.1 163.96L390.8 164.53L391.8 163.84L392.6 162.27L393.5 161.21L394.3 161.31L395.1 161.83L396.0 162.38L396.8 162.54L397.7 162.05L398.5 161.17L399.3 160.31L400.1 159.88L401.0 160.36L401.9 161.36L402.8 161.88L403.6 161.51L404.4 160.75L405.3 159.96L406.1 159.48L406.9 159.50L407.7 159.80L408.5 160.14L409.4 160.28L410.2 160.11L411.0 159.76L411.8 159.39L412.6 159.16L413.4 159.22L414.3 159.97L415.1 161.20L416.0 162.37L416.7 162.94L417.6 162.26L418.5 160.83L419.4 159.88L420.2 159.92L421.0 160.31L421.9 160.82L422.7 161.21L423.5 161.47L424.4 161.71L425.2 161.86L426.0 161.88L426.9 161.54L427.8 160.98L428.7 160.55L429.5 160.42L430.4 160.40L431.2 160.38L432.0 160.28L433.0 159.63L434.0 159.22L434.8 159.66L435.7 160.40L436.6 160.81L437.5 160.44L438.4 159.74L439.3 159.48L440.1 159.98L440.9 160.87L441.8 161.73L442.6 162.14L443.4 161.93L444.3 161.34L445.1 160.59L445.9 159.88L446.8 159.03L447.6 158.00L448.5 157.25L449.3 157.23L450.2 159.10L451.0 162.00L451.9 163.87L452.7 163.83L453.5 163.04L454.4 162.00L455.2 161.21L456.0 160.75L456.8 160.36L457.6 160.06L458.6 159.88L459.3 159.86L460.1 159.92L460.9 160.02L461.7 160.14L462.5 160.24L463.2 160.28L464.1 160.28L465.0 160.23L465.8 160.11L466.5 159.88L467.5 159.19L468.3 158.32L469.2 157.89L470.1 158.43L471.0 159.42L471.8 159.88L472.7 158.95L473.6 157.50L474.5 157.23L475.3 158.88L476.1 161.63L477.0 164.17L477.8 165.20L478.6 163.71L479.5 160.63L480.3 157.51L481.1 155.90L481.9 156.69L482.8 158.89L483.6 161.25L484.5 162.54L485.2 162.42L486.0 161.69L486.9 160.63L487.7 159.50L488.4 158.55L489.3 157.37L490.2 156.04L491.0 155.07L491.8 154.97L492.6 157.19L493.5 160.66L494.4 162.54L495.1 161.92L495.9 160.30L496.8 158.33L497.6 156.65L498.4 155.90L499.3 156.75L500.1 158.76L500.9 160.83L501.7 161.88L502.5 161.47L503.3 160.30L504.1 158.88L504.9 157.69L505.7 157.23L506.6 158.09L507.4 159.88L508.2 161.68L509.0 162.54L509.9 161.88L510.7 160.30L511.5 158.68L512.3 157.89L513.2 158.42L514.0 159.72L514.8 161.10L515.7 161.88L516.5 161.80L517.3 161.25L518.2 160.52L519.0 159.88L519.8 159.24L520.6 158.51L521.5 157.97L522.3 157.89L523.1 158.65L524.0 160.01L524.8 161.30L525.6 161.88L526.5 161.28L527.3 159.95L528.1 158.59L528.9 157.89L529.8 158.29L530.6 159.33L531.4 160.38L532.3 160.81L533.0 160.40L533.8 159.50L534.7 158.46L535.5 157.59L536.2 157.23L537.1 157.69L538.0 158.77L538.8 159.97L539.6 160.81L540.4 161.24L541.2 161.48L542.0 161.49L542.9 161.21L543.7 160.59L544.5 159.61L545.4 158.55L546.2 157.67L546.9 157.23L547.9 158.39L548.9 159.88L549.6 159.80L550.4 159.38L551.3 158.89L552.2 158.55L553.0 158.49L553.9 158.55L554.7 158.62L555.5 158.55L556.4 158.08L557.3 157.45L558.2 157.23L559.0 157.58L559.8 158.25L560.7 158.97L561.5 159.48L562.4 159.92L563.3 160.14L564.1 159.88L565.0 158.58L565.9 156.80L566.8 155.90L567.6 156.52L568.4 157.89L569.3 159.26L570.1 159.88L570.9 159.25L571.8 157.87L572.6 156.49L573.4 155.90L574.3 156.56L575.1 157.99L575.9 159.47L576.8 160.28L577.6 160.03L578.3 159.15L579.2 158.25L580.1 157.89L580.8 158.19L581.6 158.82L582.4 159.61L583.2 160.38L584.0 160.98L584.7 161.21L585.7 160.80L586.5 159.84L587.2 158.74L588.0 157.89L588.9 157.26L589.7 156.69L590.6 156.38L591.4 156.56L592.3 158.24L593.1 160.66L594.0 161.88L594.8 161.05L595.7 159.24L596.5 157.35L597.3 156.30L598.2 156.72L599.0 158.10L600.0 159.22L600.7 159.56L601.5 159.85L602.4 160.03L603.2 160.06L604.0 159.88L604.9 159.12L605.7 157.91L606.5 156.79L607.3 156.30L608.1 156.90L608.9 158.20L609.7 159.44L610.6 159.88L611.4 159.24L612.2 157.95L613.0 156.45L613.8 155.18L614.6 154.57L615.5 155.08L616.3 156.44L617.1 157.85L617.9 158.55L618.8 158.02L619.6 156.77L620.5 155.58L621.2 155.23L622.2 157.10L623.0 160.01L623.9 161.21L624.8 158.58L625.6 154.25L626.6 151.91L627.3 153.23L628.1 156.23L629.0 159.23L629.9 160.55L630.6 159.53L631.4 157.19L632.2 154.44L633.1 152.16L633.9 151.25L634.7 152.31L635.5 154.75L636.3 157.66L637.1 160.12L637.8 161.21L638.7 159.88L639.5 156.79L640.3 153.68L641.2 152.31L642.0 153.81L642.8 157.02L643.6 160.27L644.5 161.88L645.2 161.24L646.1 159.42L646.9 157.16L647.7 155.17L648.5 154.17L649.4 154.52L650.2 155.87L651.0 157.62L651.8 159.22L652.7 161.60L653.5 164.04L654.4 164.80L655.2 163.70L656.0 161.59L656.8 159.08L657.7 156.76L658.4 155.23L659.3 154.56L660.2 154.62L661.0 155.05L661.8 155.50L662.7 156.28L663.5 157.29L664.4 157.89L665.2 157.73L666.0 157.21L666.9 156.70L667.7 156.56L668.6 157.06L669.4 157.93L670.2 158.79L671.0 159.22L671.9 159.05L672.7 158.51L673.5 157.83L674.4 157.23L675.1 156.71L675.9 156.08L676.8 155.51L677.6 155.17L678.4 155.23L679.2 156.41L680.0 158.39L680.8 160.12L681.7 160.55L682.4 159.25L683.2 156.80L684.1 154.01L684.9 151.68L685.7 150.59L686.5 151.58L687.4 154.16L688.2 156.94L689.0 158.55L689.9 158.38L690.8 157.23L691.6 155.91L692.3 155.23L693.0 156.69L693.6 157.89L694.3 156.87L695.2 155.07L696.1 153.35L696.9 152.58L697.8 153.38L698.6 155.15L699.4 156.97L700.3 157.89L701.1 157.38L701.9 156.02L702.8 154.61L703.6 153.91L704.4 154.38L705.3 155.54L706.2 156.71L706.9 157.23L707.9 155.25L708.9 153.64L709.6 154.42L710.3 155.92L711.2 157.65L712.1 159.13L712.9 159.88L713.7 159.68L714.5 158.85L715.3 157.72L716.1 156.63L716.9 155.90L717.7 155.57L718.6 155.55L719.4 155.60L720.2 155.50L721.0 155.13L721.9 154.64L722.7 154.17L723.5 153.91L724.4 153.84L725.2 154.02L726.2 154.57L726.9 155.31L727.7 156.39L728.5 157.50L729.4 158.33L730.1 158.55L731.0 157.57L731.9 155.67L732.7 153.79L733.5 152.84L734.3 153.38L735.2 154.80L736.0 156.34L736.8 157.23L737.7 156.76L738.6 155.59L739.4 155.23L740.3 156.88L741.2 159.34L742.1 160.55L742.9 159.48L743.6 157.28L744.5 155.23L745.4 154.57L746.1 155.49L746.9 157.31L747.8 159.57L748.6 161.79L749.4 163.51L750.1 164.27L751.1 162.55L751.9 158.84L752.7 155.90L753.6 154.77L754.4 154.43L755.4 154.57L756.2 155.12L757.0 156.08L757.8 157.05L758.7 157.62L759.5 157.70L760.3 157.57L761.1 157.30L761.9 156.94L762.7 156.56L763.6 155.93L764.5 155.13L765.3 154.37L766.0 153.91L767.0 153.66L768.0 154.57L768.7 155.71L769.5 157.37L770.3 159.13L771.2 160.55L772.0 161.21L772.8 160.55L773.6 158.85L774.4 156.99L775.3 155.90L776.1 155.87L776.8 156.30L777.7 156.93L778.5 157.55L779.3 157.89L780.1 158.01L780.9 158.07L781.7 158.00L782.5 157.74L783.3 157.23L784.1 155.73L784.7 153.57L785.4 151.75L786.2 151.25L786.9 152.47L787.6 154.82L788.4 157.56L789.2 159.94L789.9 161.21L790.8 160.85L791.7 159.22L792.5 157.26L793.2 155.90L794.2 154.90L795.2 155.23L796.0 156.42L796.8 158.26L797.7 159.92L798.5 160.55L799.4 159.42L800.2 157.16L801.0 154.93L801.9 153.91L802.7 154.77L803.5 156.79L804.3 158.95L805.2 160.28L806.0 160.41L806.8 159.90L807.6 159.15L808.5 158.55L809.3 158.23L810.1 157.90L810.9 157.60L811.7 157.36L812.5 157.23L813.4 157.25L814.2 157.43L815.0 157.68L815.8 157.89L816.6 158.10L817.4 158.35L818.2 158.53L819.1 158.55L819.9 158.42L820.8 158.17L821.6 157.85L822.4 157.52L823.1 157.23L824.1 156.35L825.1 155.90L825.8 156.29L826.6 157.02L827.5 157.69L828.4 157.89L829.1 157.57L829.9 156.93L830.7 156.15L831.6 155.38L832.4 154.80L833.1 154.57L834.0 155.04L834.9 156.11L835.7 157.23L836.4 157.89L837.4 157.39L838.4 156.56L839.1 156.57L840.0 156.73L840.8 156.97L841.7 157.23L842.5 157.60L843.4 158.07L844.2 158.46L845.0 158.55L845.9 157.92L846.7 156.88L847.7 156.30L848.4 156.43L849.2 156.81L850.1 157.32L850.9 157.81L851.7 158.16L852.5 158.32L853.3 158.35L854.1 158.38L855.0 158.55L855.7 158.97L856.6 159.60L857.4 160.22L858.2 160.61L859.0 160.55L859.8 159.41L860.7 157.49L861.5 155.71L862.3 154.97L863.1 155.98L863.9 158.11L864.8 160.23L865.6 161.21L866.4 160.36L867.3 158.41L868.1 156.36L868.9 155.23L869.8 155.54L870.6 156.65L871.5 157.88L872.2 158.55L873.1 158.11L873.9 157.08L874.9 156.56L875.6 156.88L876.4 157.55L877.2 158.32L878.1 158.95L878.9 159.22L879.7 158.97L880.5 158.38L881.3 157.64L882.1 156.97L882.9 156.56L883.8 156.51L884.6 156.73L885.4 157.03L886.2 157.23L887.0 157.32L887.8 157.39L888.6 157.38L889.5 157.23L890.3 156.88L891.1 156.35L891.9 155.79L892.7 155.37L893.5 155.23L894.4 155.60L895.2 156.35L896.0 157.21L896.8 157.89L897.7 158.42L898.5 158.93L899.4 159.24L900.1 159.22L901.1 158.23L901.9 156.73L902.8 155.90L903.7 156.49L904.5 157.74L905.5 158.55L906.2 158.39L907.0 157.85L907.9 157.33L908.8 157.23L909.5 157.71L910.4 158.57L911.2 159.52L912.0 160.28L912.8 160.55L913.6 159.87L914.5 158.50L915.3 157.15L916.1 156.56L916.9 157.25L917.7 158.70L918.6 160.15L919.4 160.81L920.2 160.20L921.1 158.83L921.9 157.39L922.7 156.56L923.6 157.03L924.4 158.20L925.4 158.55L926.1 157.76L926.9 156.35L927.7 154.81L928.6 153.61L929.4 153.24L930.2 154.51L931.1 156.98L931.9 159.41L932.7 160.55L933.5 159.61L934.4 157.40L935.3 155.11L936.0 153.91L937.0 155.80L938.0 158.37L938.8 158.22L939.7 157.44L940.6 157.05L941.4 157.67L942.3 158.70L943.2 159.29L944.0 159.24L944.8 158.98L945.6 158.60L946.5 158.15L947.2 157.71L948.1 156.78L948.9 155.74L949.8 155.07L950.6 155.00L951.4 155.13L952.2 155.35L953.0 155.59L953.8 155.73L954.6 155.67L955.4 155.50L956.2 155.44L957.1 155.73L957.9 156.44L958.7 157.51L959.5 158.66L960.3 159.62L961.0 160.08L961.9 159.75L962.7 158.78L963.5 157.70L964.3 157.05L965.1 157.01L966.0 157.22L966.9 157.55L967.7 157.84L968.3 157.97L969.0 157.49L969.6 157.05L970.4 157.47L971.2 158.14L972.3 158.37L973.0 157.96L973.8 157.19L974.6 156.36L975.5 155.77L976.2 155.73L977.1 156.86L977.9 158.82L978.7 160.72L979.5 161.67L980.3 161.30L981.1 160.23L981.9 158.88L982.7 157.68L983.5 157.05L984.3 157.14L985.1 157.68L985.9 158.43L986.7 159.17L987.4 159.69L988.4 160.25L989.2 160.59L990.1 160.35L990.9 159.35L991.7 157.79L992.6 156.36L993.4 155.73L994.3 156.88L995.1 159.05L996.0 160.35L996.7 160.14L997.5 159.44L998.3 158.51L999.2 157.62L1000.0 157.05L1000.8 156.76L1001.5 156.59L1002.3 156.56L1003.1 156.70L1003.9 157.05L1004.7 157.68L1005.4 158.65L1006.2 159.75L1007.0 160.77L1007.8 161.48L1008.5 161.67L1009.4 160.92L1010.2 159.36L1011.0 157.56L1011.8 156.03L1012.5 155.33L1013.4 156.04L1014.2 157.80L1014.9 159.64L1015.8 160.61L1016.6 160.42L1017.3 159.68L1018.1 158.69L1019.0 157.72L1019.8 157.05L1020.6 156.69L1021.4 156.45L1022.2 156.32L1023.0 156.31L1023.7 156.39L1024.5 156.82L1025.3 157.53L1026.1 158.16L1027.0 158.37L1027.7 158.14L1028.4 157.69L1029.2 157.10L1030.0 156.47L1030.8 155.90L1031.6 155.49L1032.3 155.33L1033.2 155.66L1034.0 156.43L1034.8 157.34L1035.5 158.09L1036.3 158.37L1037.1 157.72L1037.9 156.41L1038.7 155.19L1039.6 154.81L1040.3 155.80L1041.1 157.67L1041.9 159.55L1042.9 160.61L1043.6 160.56L1044.3 160.06L1045.1 159.32L1045.9 158.54L1046.7 157.93L1047.5 157.71L1048.3 158.13L1049.1 159.06L1049.8 160.10L1050.6 160.88L1051.4 161.01L1052.2 160.35L1052.9 159.13L1053.7 157.63L1054.5 156.14L1055.3 154.97L1056.0 154.41L1056.9 154.75L1057.6 155.86L1058.3 157.26L1059.1 158.47L1060.0 159.03L1060.7 158.88L1061.4 158.43L1062.2 157.78L1063.0 157.02L1063.8 156.27L1064.6 155.63L1065.3 155.19L1065.9 155.07L1067.0 155.85L1067.8 157.44L1068.6 159.09L1069.2 160.08L1070.3 159.46L1071.2 158.37L1072.2 159.00L1073.2 159.69L1074.1 159.15L1075.2 158.37L1076.0 158.14L1077.0 157.96L1077.9 157.81L1078.5 157.71"/>
<text x="216.8" y="208.5" class="lab">O2</text>
<text x="247.0" y="208.5" class="lab">G</text>
<path class="tr" d="M266.0 207.03L266.5 208.54L267.3 209.42L268.1 208.01L269.0 205.76L270.0 204.38L270.8 204.86L271.7 206.20L272.6 207.03L273.4 206.80L274.2 206.16L275.1 205.46L275.9 205.04L276.8 205.12L277.6 205.48L278.4 205.78L279.3 205.70L280.1 204.81L280.9 203.40L281.8 202.21L282.6 201.98L283.4 203.39L284.2 205.87L285.1 208.33L285.9 209.69L286.7 209.24L287.5 207.70L288.3 206.09L289.2 205.44L289.9 205.92L290.7 206.95L291.6 208.25L292.4 209.55L293.2 210.56L293.9 211.02L294.8 210.52L295.7 209.18L296.4 207.60L297.2 206.37L298.1 205.25L298.9 204.39L299.9 204.11L300.6 204.51L301.5 205.35L302.3 206.29L303.2 207.03L304.0 207.55L304.8 208.00L305.7 208.30L306.5 208.36L307.3 208.00L308.2 207.31L309.0 206.64L309.8 206.37L310.6 206.75L311.5 207.54L312.3 208.31L313.1 208.62L313.9 208.25L314.8 207.45L315.6 206.58L316.5 205.97L317.2 205.73L318.0 205.58L318.9 205.53L319.7 205.57L320.4 205.70L321.3 206.04L322.2 206.56L323.0 207.14L323.8 207.70L324.8 209.15L325.8 209.69L326.6 208.01L327.4 205.51L328.4 204.38L329.2 205.60L330.0 208.03L330.9 210.35L331.7 211.28L332.6 209.94L333.4 207.20L334.2 204.37L335.0 202.78L335.9 203.08L336.7 204.46L337.5 206.06L338.4 207.03L339.2 207.04L340.0 206.59L340.9 206.03L341.7 205.70L342.5 205.79L343.4 206.08L344.2 206.34L345.0 206.37L345.9 205.75L346.8 204.84L347.7 204.38L348.5 204.79L349.4 205.65L350.3 206.37L351.1 206.67L352.0 206.89L352.8 207.02L353.6 207.03L354.6 206.59L355.4 205.95L356.3 205.97L357.1 207.69L358.0 210.06L359.0 210.75L359.7 209.26L360.5 206.55L361.3 203.54L362.1 201.17L362.9 200.39L363.7 201.95L364.5 205.23L365.2 209.08L366.0 212.37L366.9 213.94L367.6 213.59L368.4 212.30L369.2 210.40L370.0 208.25L370.8 206.19L371.6 204.56L372.2 203.71L373.2 204.15L374.1 205.94L374.8 207.94L375.6 209.02L376.5 208.33L377.3 206.69L378.2 205.70L379.0 205.98L379.8 206.74L380.6 207.65L381.5 208.36L382.3 208.77L383.2 209.18L384.0 209.51L384.8 209.70L385.5 209.69L386.6 208.19L387.5 207.03L388.3 208.21L389.2 210.13L390.2 211.02L390.9 210.39L391.7 209.08L392.6 207.56L393.4 206.28L394.1 205.70L395.1 206.88L396.0 209.17L396.8 210.35L397.7 208.95L398.5 206.44L399.5 205.04L400.2 205.71L401.1 207.30L401.9 208.92L402.8 209.69L403.6 209.08L404.4 207.67L405.3 206.20L406.1 205.44L406.9 205.83L407.7 206.88L408.5 207.95L409.4 208.36L410.2 207.88L411.0 206.88L411.8 205.73L412.6 204.77L413.4 204.38L414.3 204.94L415.1 206.20L415.9 207.55L416.7 208.36L417.6 208.31L418.4 207.79L419.2 207.23L420.0 207.03L420.9 207.45L421.7 208.21L422.5 208.98L423.4 209.42L424.2 209.41L425.0 209.12L425.9 208.72L426.7 208.36L427.5 208.02L428.4 207.65L429.3 207.29L430.0 207.03L431.0 206.76L432.0 206.77L432.8 206.92L433.6 207.17L434.5 207.45L435.3 207.70L436.2 208.08L437.1 208.44L438.0 208.36L438.9 207.38L439.7 205.95L440.6 205.04L441.5 205.20L442.3 205.88L443.3 206.37L444.1 206.45L444.9 206.45L445.8 206.30L446.6 205.97L447.5 204.71L448.4 203.15L449.3 202.78L450.1 204.89L451.0 208.19L451.9 210.35L452.7 210.31L453.5 209.41L454.4 208.32L455.2 207.70L456.1 207.83L456.9 208.32L457.8 208.83L458.6 209.02L459.5 208.54L460.3 207.69L461.2 207.03L462.0 206.71L462.9 206.44L463.8 206.40L464.5 206.77L465.5 209.93L466.5 212.08L467.3 210.69L468.1 208.06L469.0 205.35L469.8 203.71L470.7 203.68L471.6 204.56L472.4 205.68L473.2 206.37L474.2 205.80L475.2 205.70L476.0 207.95L476.9 210.98L477.8 212.08L478.6 210.18L479.4 206.67L480.3 203.12L481.1 201.05L481.9 201.19L482.8 202.61L483.6 204.41L484.5 205.70L485.2 206.27L486.0 206.73L486.9 207.04L487.7 207.16L488.4 207.03L489.3 206.14L490.1 204.67L490.9 203.37L491.8 203.05L492.5 204.03L493.3 205.89L494.2 207.99L495.0 209.69L495.7 210.35L496.6 209.06L497.4 206.33L498.2 203.61L499.1 202.38L499.9 203.55L500.7 206.16L501.5 208.87L502.4 210.35L503.2 210.08L504.0 208.95L504.8 207.50L505.6 206.24L506.4 205.70L507.3 206.88L508.1 209.10L509.0 210.35L509.7 210.00L510.6 209.06L511.4 207.90L512.2 206.88L513.0 206.37L513.9 206.58L514.7 207.32L515.5 208.25L516.3 209.02L517.2 209.71L518.0 210.43L518.8 210.95L519.6 211.02L520.5 210.25L521.3 208.90L522.1 207.61L523.0 207.03L523.8 207.68L524.6 209.11L525.5 210.49L526.3 211.02L527.1 210.12L527.9 208.36L528.8 206.60L529.6 205.70L530.4 206.19L531.3 207.49L532.1 208.89L532.9 209.69L533.8 209.57L534.6 208.97L535.4 208.22L536.2 207.70L537.1 207.42L538.0 207.22L538.8 207.16L539.6 207.30L540.5 208.17L541.4 209.36L542.2 209.69L543.2 207.22L544.2 204.38L545.0 203.74L545.9 203.61L546.9 203.71L547.7 204.00L548.5 204.50L549.3 204.94L550.2 205.04L551.0 204.48L551.9 203.50L552.7 202.63L553.5 202.38L554.4 203.82L555.2 206.07L556.2 207.03L556.9 206.19L557.7 204.50L558.6 202.54L559.4 200.89L560.2 200.12L561.1 201.19L562.0 203.65L562.8 205.70L563.7 206.98L564.6 207.85L565.5 207.70L566.4 205.53L567.2 202.33L568.1 200.39L569.0 201.10L569.9 203.07L570.8 204.38L571.7 204.15L572.6 203.27L573.4 202.38L574.4 200.81L575.4 200.39L576.2 201.83L577.0 204.17L577.9 206.45L578.8 207.70L579.6 207.37L580.4 206.08L581.2 204.60L582.1 203.71L582.9 203.68L583.7 204.08L584.6 204.63L585.4 205.04L586.2 205.34L587.1 205.64L587.9 205.80L588.7 205.70L589.6 204.83L590.5 203.55L591.4 202.78L592.2 202.95L593.0 203.52L593.9 204.12L594.7 204.38L595.6 203.85L596.5 202.93L597.3 202.38L598.2 202.51L599.0 203.00L600.0 203.71L600.7 204.40L601.6 205.34L602.4 206.28L603.2 206.93L604.0 207.03L604.9 205.29L605.7 202.51L606.6 201.05L607.4 201.67L608.2 203.13L609.0 204.88L609.8 206.37L610.6 207.03L611.5 206.33L612.3 204.62L613.1 202.80L613.9 201.72L614.8 201.81L615.6 202.55L616.4 203.37L617.3 203.71L618.1 203.09L618.9 201.93L619.7 200.99L620.6 201.05L621.4 203.01L622.2 206.20L623.1 209.15L623.9 210.35L624.7 208.64L625.6 205.08L626.4 201.50L627.2 199.73L628.0 200.94L628.8 203.94L629.6 206.99L630.5 208.36L631.3 207.65L632.0 205.94L632.9 203.74L633.7 201.56L634.5 199.92L635.2 199.33L636.1 200.98L636.9 204.44L637.7 207.93L638.5 209.69L639.3 208.55L640.2 205.69L641.0 202.83L641.8 201.72L642.6 203.47L643.4 206.95L644.3 210.47L645.1 212.34L645.9 211.91L646.7 210.29L647.5 208.23L648.3 206.46L649.1 205.70L649.9 206.43L650.7 208.14L651.4 210.15L652.2 211.78L653.1 212.34L653.8 211.80L654.6 210.60L655.4 209.02L656.2 207.28L657.0 205.65L657.7 204.38L658.4 203.71L659.3 203.83L660.2 204.74L660.9 206.05L661.7 207.39L662.4 208.36L663.3 209.15L664.2 209.81L665.0 210.24L665.7 210.35L666.6 209.65L667.5 208.43L668.4 207.70L669.1 207.93L669.9 208.58L670.8 209.22L671.7 209.42L672.4 209.06L673.2 208.35L674.0 207.50L674.8 206.75L675.6 206.29L676.4 206.37L677.1 207.26L677.9 208.85L678.7 210.74L679.5 212.55L680.3 213.88L681.0 214.34L681.9 213.36L682.7 211.19L683.5 208.58L684.2 206.28L685.0 205.04L685.9 205.42L686.7 207.03L687.5 208.81L688.3 209.69L689.1 209.11L690.0 207.74L690.8 206.34L691.6 205.70L692.5 206.36L693.3 207.78L694.2 209.16L695.0 209.69L695.8 208.22L696.7 205.72L697.6 204.38L698.3 204.85L699.2 206.04L700.0 207.49L700.9 208.77L701.6 209.42L702.6 208.92L703.4 207.51L704.2 206.37L705.1 206.02L706.0 205.93L706.9 205.70L707.8 204.72L708.6 203.59L709.6 203.71L710.3 205.61L711.1 208.65L712.0 211.54L712.9 213.01L713.6 212.59L714.5 211.18L715.3 209.31L716.1 207.53L716.9 206.37L717.7 205.93L718.6 206.04L719.4 206.30L720.2 206.37L721.0 206.10L721.9 205.70L722.7 205.31L723.5 205.04L724.4 204.82L725.3 204.74L726.2 205.04L726.9 205.84L727.7 207.05L728.6 208.08L729.5 208.36L730.2 207.61L731.1 206.17L731.9 204.54L732.7 203.24L733.5 202.78L734.3 203.90L735.1 206.18L735.9 208.48L736.8 209.69L737.6 209.28L738.4 208.02L739.2 206.50L740.0 205.30L740.8 205.04L741.7 206.70L742.5 209.69L743.3 212.51L744.1 213.67L744.9 211.99L745.7 208.53L746.5 205.14L747.4 203.71L748.2 204.95L749.0 207.72L749.8 210.99L750.6 213.76L751.4 215.00L752.3 213.60L753.1 210.27L753.9 206.81L754.7 205.04L755.5 205.60L756.3 207.32L757.1 209.50L757.9 211.41L758.7 212.34L759.5 212.01L760.3 210.90L761.1 209.43L761.9 208.00L762.7 207.03L763.6 206.62L764.5 206.62L765.3 206.66L766.0 206.37L767.0 203.81L768.0 202.38L768.7 203.95L769.5 206.72L770.4 209.41L771.3 210.75L772.1 210.22L772.9 208.67L773.7 206.74L774.5 205.10L775.3 204.38L776.1 204.95L776.9 206.39L777.7 208.13L778.5 209.64L779.3 210.35L780.1 209.90L780.9 208.58L781.7 206.99L782.6 205.70L783.4 204.87L784.2 204.00L785.0 203.26L785.8 202.79L786.6 202.78L787.5 203.76L788.3 205.51L789.1 207.30L789.9 208.36L790.8 208.28L791.7 207.36L792.6 206.37L793.3 205.56L794.2 204.58L795.0 203.83L795.9 203.71L796.7 204.70L797.5 206.45L798.4 208.16L799.2 209.02L800.0 208.54L800.9 207.24L801.7 205.83L802.5 205.04L803.4 205.20L804.2 205.89L805.0 206.65L805.8 207.03L806.7 206.87L807.5 206.43L808.4 205.88L809.2 205.44L810.1 205.08L810.9 204.78L811.8 204.38L812.6 203.82L813.4 203.10L814.3 202.53L815.1 202.38L816.0 202.90L816.8 203.88L817.6 204.94L818.5 205.70L819.3 206.13L820.1 206.41L821.0 206.50L821.8 206.37L822.6 205.84L823.4 205.00L824.3 204.17L825.1 203.71L825.9 203.81L826.8 204.25L827.6 204.75L828.4 205.04L829.4 205.05L830.2 204.84L831.1 204.38L832.0 203.28L832.8 201.93L833.7 201.45L834.6 202.84L835.5 205.10L836.4 206.37L837.2 205.81L838.1 204.43L838.9 203.03L839.7 202.38L840.6 203.44L841.4 205.38L842.4 206.37L843.1 205.79L843.8 204.52L844.6 203.08L845.5 201.98L846.4 201.72L847.1 202.45L847.9 203.86L848.7 205.62L849.5 207.40L850.3 208.87L851.0 209.69L851.9 209.59L852.7 208.57L853.5 207.28L854.3 206.37L855.2 205.97L856.0 205.74L856.8 205.67L857.6 205.70L858.5 205.82L859.3 206.04L860.1 206.42L861.0 207.03L861.7 207.97L862.5 209.32L863.3 210.66L864.1 211.59L864.9 211.68L865.7 210.44L866.5 208.14L867.3 205.53L868.1 203.36L868.9 202.38L869.7 203.14L870.5 205.12L871.3 207.53L872.1 209.54L872.9 210.35L873.7 209.71L874.5 208.19L875.3 206.20L876.1 204.18L876.9 202.54L877.6 201.72L878.5 202.91L879.3 205.65L880.2 207.03L880.9 206.44L881.6 205.15L882.5 203.52L883.3 201.91L884.1 200.66L884.9 200.12L885.7 200.70L886.5 202.17L887.3 203.98L888.1 205.56L888.9 206.37L889.6 206.12L890.4 205.19L891.2 203.99L892.0 202.92L892.8 202.38L893.6 202.51L894.5 203.03L895.3 203.75L896.1 204.49L896.8 205.04L897.7 205.56L898.5 206.04L899.3 206.35L900.1 206.37L901.0 205.94L901.8 205.16L902.6 204.33L903.5 203.71L904.3 203.33L905.1 203.05L906.0 202.93L906.8 203.05L907.6 203.49L908.4 204.21L909.3 205.01L910.1 205.70L910.9 206.45L911.7 207.28L912.5 207.82L913.4 207.70L914.2 206.71L915.0 205.02L915.8 203.17L916.6 201.67L917.4 201.05L918.3 202.00L919.1 204.13L919.9 206.38L920.7 207.70L921.6 207.65L922.4 206.87L923.3 205.83L924.0 205.04L924.9 204.28L925.7 203.66L926.7 203.71L927.4 204.43L928.2 205.65L929.0 206.98L929.9 208.01L930.7 208.36L931.5 207.75L932.4 206.45L933.3 204.85L934.0 203.37L934.7 202.38L935.5 201.54L936.0 202.38L936.9 206.15L938.0 209.83L938.7 210.18L939.6 209.88L940.5 209.38L941.3 209.17L942.2 210.10L943.2 210.49L944.0 209.55L944.8 208.04L945.6 206.49L946.5 205.47L947.3 205.14L948.0 205.04L948.8 205.15L949.6 205.43L950.5 205.87L951.2 206.45L952.0 207.27L952.8 208.20L953.6 209.13L954.4 209.93L955.1 210.49L956.0 210.86L956.8 211.04L957.6 211.04L958.3 210.86L959.1 210.49L959.9 209.46L960.8 207.93L961.6 206.53L962.4 205.87L963.2 206.45L964.0 207.83L964.8 209.22L965.7 209.83L966.4 209.39L967.2 208.39L968.0 207.18L968.8 206.09L969.6 205.47L970.4 205.44L971.2 205.77L972.0 206.29L972.8 206.81L973.6 207.19L974.4 207.39L975.2 207.55L976.0 207.66L976.8 207.76L977.5 207.85L978.4 207.91L979.3 207.91L980.1 207.95L980.8 208.11L981.8 208.79L982.7 209.62L983.5 209.83L984.4 207.85L985.5 205.87L986.1 205.92L986.9 206.37L987.7 206.97L988.6 207.45L989.4 207.58L990.2 207.13L991.1 206.25L991.9 205.30L992.7 204.62L993.4 204.55L994.3 206.47L995.1 209.47L996.0 211.15L996.8 210.55L997.6 208.94L998.4 207.12L999.3 205.87L1000.1 205.39L1000.8 205.10L1001.7 205.01L1002.5 205.13L1003.3 205.47L1004.0 206.31L1004.8 207.65L1005.6 209.06L1006.4 210.14L1007.2 210.49L1007.9 210.04L1008.7 209.08L1009.5 207.81L1010.3 206.45L1011.1 205.20L1011.8 204.28L1012.5 203.89L1013.5 204.72L1014.2 206.69L1015.0 208.74L1015.8 209.83L1016.6 209.60L1017.3 208.75L1018.1 207.61L1019.0 206.54L1019.8 205.87L1020.6 205.68L1021.4 205.75L1022.2 205.95L1023.0 206.17L1023.7 206.26L1024.6 206.27L1025.4 206.26L1026.2 206.14L1027.0 205.87L1027.8 205.29L1028.6 204.48L1029.4 203.71L1030.3 203.23L1031.1 203.14L1031.9 203.22L1032.7 203.42L1033.5 203.66L1034.3 203.89L1035.1 204.14L1035.9 204.46L1036.7 204.79L1037.5 205.06L1038.2 205.21L1039.2 204.96L1039.9 204.50L1040.9 204.55L1041.6 205.19L1042.4 206.24L1043.2 207.37L1044.0 208.23L1044.8 208.51L1045.6 207.88L1046.5 206.59L1047.3 205.07L1048.1 203.80L1048.8 203.23L1049.7 204.45L1050.5 206.77L1051.4 207.85L1052.1 207.23L1052.9 205.94L1053.7 204.34L1054.5 202.79L1055.3 201.64L1056.0 201.25L1057.0 202.52L1057.8 205.13L1058.6 207.78L1059.3 209.17L1060.2 208.57L1061.0 206.82L1061.8 204.91L1062.6 203.89L1063.4 204.23L1064.2 205.33L1065.0 206.53L1065.9 207.19L1066.6 207.16L1067.3 206.93L1068.1 206.57L1068.9 206.15L1069.8 205.74L1070.5 205.40L1071.2 205.21L1072.1 205.14L1072.9 205.19L1073.7 205.33L1074.4 205.57L1075.2 205.87L1076.0 206.31L1077.0 206.91L1077.8 207.55L1078.6 208.12L1079.1 208.51"/>
<text x="216.9" y="255.7" class="lab">F3</text>
<text x="247.3" y="255.7" class="lab">G</text>
<path class="tr" d="M266.6 258.87L267.2 257.43L268.0 256.21L268.9 257.10L270.0 257.94L270.8 257.09L271.7 255.70L272.6 254.88L273.5 255.30L274.4 256.27L275.3 256.88L276.2 256.10L277.3 255.55L278.0 256.05L278.8 256.93L279.7 257.93L280.5 258.79L281.3 259.27L282.2 259.18L283.1 258.48L283.9 257.54L284.8 256.11L285.6 254.43L286.6 253.55L287.3 254.09L288.1 255.34L289.0 256.53L289.9 256.88L290.6 256.29L291.4 255.18L292.2 253.80L293.0 252.45L293.8 251.39L294.5 250.90L295.5 251.38L296.3 252.72L297.1 254.32L297.9 255.55L298.7 256.40L299.5 257.17L300.3 257.62L301.2 257.54L302.0 256.62L302.9 255.05L303.7 253.40L304.5 252.23L305.4 251.50L306.2 251.29L307.2 251.56L307.9 252.34L308.8 253.57L309.6 254.73L310.5 255.28L311.3 254.88L312.2 253.86L313.0 252.79L313.8 252.23L314.7 252.64L315.5 253.61L316.5 254.22L317.2 254.09L318.1 253.68L318.9 253.21L319.8 252.89L320.6 252.83L321.5 252.89L322.3 252.95L323.1 252.89L324.0 252.44L324.9 251.84L325.8 251.56L326.6 252.02L327.5 252.80L328.4 253.16L329.2 252.42L330.1 251.26L331.1 250.90L331.8 251.51L332.6 252.60L333.4 253.88L334.3 255.05L335.0 255.81L335.9 256.12L336.7 256.03L337.6 255.76L338.4 255.55L339.2 255.42L340.0 255.28L340.9 255.10L341.7 254.88L342.5 254.42L343.3 253.79L344.2 253.37L345.0 253.55L345.8 254.80L346.7 256.78L347.5 258.70L348.3 259.80L349.2 259.66L350.0 258.77L350.8 257.66L351.6 256.88L352.5 256.50L353.4 256.28L354.2 256.18L355.0 256.21L356.0 257.00L357.0 257.54L357.7 256.60L358.6 255.23L359.6 254.88L360.3 255.87L361.1 257.63L362.0 259.57L362.8 261.07L363.6 261.52L364.5 260.01L365.3 257.04L366.2 253.99L366.9 252.23L367.8 252.62L368.7 254.49L369.6 256.21L370.4 257.16L371.2 258.15L372.1 258.82L372.9 258.87L373.7 257.78L374.5 255.86L375.2 254.02L376.0 253.16L376.7 253.86L377.4 255.53L378.1 257.28L378.9 258.20L379.7 257.95L380.6 257.02L381.4 255.86L382.2 254.88L383.1 253.68L384.0 252.55L384.9 252.23L385.7 253.68L386.6 255.94L387.5 256.88L388.4 254.86L389.2 251.51L390.2 249.57L391.0 250.20L391.8 251.94L392.7 253.82L393.5 254.88L394.4 254.34L395.2 252.92L396.1 252.23L396.9 252.91L397.8 254.22L398.6 255.53L399.5 256.21L400.3 256.01L401.2 255.30L402.0 254.37L402.8 253.55L403.8 251.85L404.8 250.90L405.5 251.40L406.4 252.43L407.3 253.53L408.1 254.22L409.0 254.22L409.9 253.78L410.8 253.55L411.6 254.03L412.5 254.73L413.4 254.88L414.2 254.19L415.0 253.03L415.9 251.90L416.7 251.30L417.6 251.53L418.4 252.28L419.2 253.11L420.0 253.55L420.9 253.43L421.7 252.99L422.5 252.50L423.4 252.23L424.1 252.24L424.9 252.38L425.7 252.58L426.5 252.77L427.4 252.89L428.1 252.90L429.0 252.85L429.8 252.78L430.6 252.74L431.4 252.76L432.0 252.89L433.1 254.36L434.0 255.28L434.7 254.46L435.6 252.97L436.4 251.54L437.3 250.90L438.2 251.55L439.0 253.01L439.8 254.50L440.6 255.28L441.5 254.65L442.4 253.20L443.3 252.23L444.1 252.33L444.9 252.82L445.8 253.35L446.6 253.55L447.5 253.14L448.4 252.35L449.3 251.56L450.1 250.69L451.0 249.82L451.9 249.57L452.8 250.73L453.6 252.51L454.6 253.16L455.4 251.99L456.2 249.87L457.1 247.73L457.9 246.52L458.8 247.00L459.7 248.57L460.5 249.57L461.4 249.13L462.3 248.13L463.2 247.58L464.1 248.07L465.0 249.00L465.9 249.57L466.7 249.18L467.6 248.41L468.5 248.24L469.3 249.02L470.2 250.32L471.0 251.57L471.8 252.23L472.8 251.69L473.6 250.41L474.5 249.57L475.4 249.91L476.3 250.70L477.1 250.90L478.1 248.38L479.1 246.91L480.0 249.73L480.9 254.06L481.8 256.61L482.6 255.41L483.5 252.43L484.5 250.23L485.2 249.85L486.0 249.80L486.8 250.01L487.6 250.40L488.4 250.90L489.2 251.72L490.1 252.92L490.9 254.17L491.7 255.15L492.4 255.55L493.3 254.86L494.1 253.32L494.9 251.74L495.7 250.90L496.5 251.10L497.4 251.83L498.2 252.75L499.0 253.57L499.7 253.95L500.7 253.50L501.5 252.43L502.4 251.56L503.2 251.26L504.0 251.08L504.8 250.98L505.7 250.90L506.5 250.85L507.2 250.82L508.1 250.82L508.9 250.85L509.7 250.90L510.5 250.99L511.3 251.12L512.1 251.26L512.9 251.42L513.7 251.56L514.5 251.82L515.3 252.13L516.1 252.32L517.0 252.23L517.8 251.71L518.6 250.85L519.4 249.94L520.2 249.28L521.0 249.17L521.9 250.24L522.7 252.17L523.5 254.02L524.3 254.88L525.1 254.08L526.0 252.25L526.8 250.41L527.6 249.57L528.4 250.34L529.3 252.06L530.1 253.87L530.9 254.88L531.8 254.70L532.6 253.85L533.4 252.84L534.3 252.23L535.1 252.10L535.9 252.19L536.7 252.46L537.6 252.89L538.4 253.66L539.2 254.72L540.1 255.69L540.9 256.21L541.7 256.01L542.6 255.34L543.4 254.61L544.2 254.22L545.0 254.30L545.9 254.63L546.7 255.09L547.5 255.55L548.4 256.06L549.2 256.67L550.0 257.21L550.9 257.54L551.7 257.59L552.6 257.46L553.4 257.20L554.2 256.88L555.1 256.11L556.0 255.20L556.8 254.88L557.7 255.77L558.6 257.24L559.5 258.20L560.3 258.20L561.2 257.83L562.0 257.32L562.8 256.88L563.7 256.31L564.6 255.74L565.5 255.55L566.4 256.06L567.2 256.95L568.1 257.54L569.0 257.38L569.8 256.93L570.8 256.88L571.6 257.49L572.4 258.48L573.3 259.39L574.1 259.80L574.9 259.42L575.8 258.56L576.6 257.58L577.4 256.88L578.3 256.50L579.1 256.28L579.9 256.18L580.7 256.21L581.6 256.47L582.4 256.92L583.2 257.35L584.1 257.54L584.9 257.35L585.7 256.92L586.6 256.47L587.4 256.21L588.2 256.34L589.0 256.69L589.9 256.97L590.7 256.88L591.5 256.05L592.4 254.74L593.2 253.57L594.0 253.16L595.0 254.48L595.9 256.79L596.7 258.20L597.8 257.02L598.7 255.28L599.3 255.07L600.0 255.81L600.9 258.65L602.0 260.59L602.7 259.33L603.6 256.91L604.4 254.67L605.3 253.95L606.1 255.86L607.0 259.43L607.8 262.92L608.6 264.58L609.5 263.31L610.3 260.26L611.1 257.05L611.9 255.28L612.8 255.76L613.6 257.51L614.4 259.46L615.3 260.59L616.1 260.34L617.0 259.36L617.8 258.39L618.6 258.20L619.5 260.26L620.3 263.25L621.2 264.18L622.0 262.45L622.8 259.29L623.7 255.73L624.5 252.81L625.2 251.56L626.2 254.52L627.0 260.21L627.9 263.52L628.6 262.27L629.4 259.09L630.3 255.74L631.2 253.95L631.9 254.21L632.7 255.28L633.5 256.78L634.4 258.36L635.1 259.62L635.9 260.20L636.8 259.49L637.6 257.74L638.4 255.99L639.2 255.28L640.1 257.23L640.9 260.43L641.8 261.52L642.5 259.31L643.3 255.36L644.0 251.34L644.8 248.91L645.5 248.78L646.3 249.99L647.0 251.65L647.8 252.89L648.6 253.62L649.4 254.26L650.2 254.71L651.1 254.88L651.9 254.59L652.7 253.93L653.5 253.21L654.3 252.76L655.1 252.89L655.9 254.00L656.7 255.88L657.5 257.93L658.3 259.56L659.1 260.20L659.9 259.42L660.8 257.63L661.6 255.43L662.4 253.43L663.1 252.23L664.0 252.17L664.8 253.22L665.7 254.22L666.5 254.67L667.4 255.12L668.2 255.51L669.1 255.81L669.9 255.99L670.7 256.07L671.5 256.12L672.4 256.21L673.2 256.42L674.1 256.69L674.9 256.89L675.7 256.88L676.6 256.56L677.4 255.94L678.4 254.88L679.2 253.47L680.0 251.60L680.9 249.89L681.7 248.91L682.6 249.03L683.5 250.11L684.3 251.56L685.3 255.09L686.3 257.54L687.1 256.73L687.9 254.88L688.8 252.87L689.6 251.56L690.5 251.32L691.3 251.63L692.2 252.07L693.0 252.23L693.9 251.67L694.8 250.84L695.6 250.50L696.5 251.19L697.3 252.37L698.3 253.16L699.1 253.11L699.9 252.75L700.7 252.36L701.6 252.23L702.4 252.57L703.3 253.18L704.1 253.75L704.9 253.95L705.8 253.30L706.7 252.19L707.6 251.56L708.4 251.97L709.2 252.87L710.0 253.61L710.9 253.55L711.7 252.12L712.6 249.78L713.4 247.50L714.2 246.25L715.0 246.50L715.8 247.66L716.7 249.11L717.5 250.23L718.3 250.80L719.1 251.30L719.9 251.72L720.7 252.03L721.5 252.23L722.3 252.24L723.1 252.09L723.9 251.86L724.7 251.65L725.5 251.56L726.3 251.64L727.2 251.83L728.0 252.04L728.8 252.20L729.5 252.23L730.5 251.73L731.3 251.02L732.1 250.90L733.0 252.05L733.9 253.80L734.8 254.88L735.7 254.50L736.6 253.45L737.5 252.89L738.4 254.19L739.4 255.28L740.3 254.45L741.2 252.95L742.1 251.56L743.0 250.26L743.9 249.08L744.8 248.91L745.8 252.20L746.8 255.28L747.6 254.62L748.5 252.76L749.4 250.90L750.3 249.09L751.1 247.28L752.1 246.52L752.8 247.31L753.6 248.97L754.5 250.67L755.4 251.56L756.1 251.32L757.0 250.49L757.8 249.45L758.6 248.57L759.4 248.24L760.3 248.83L761.1 250.07L761.9 251.39L762.7 252.23L763.6 252.23L764.5 251.71L765.3 251.56L766.2 252.46L767.0 253.72L768.0 254.22L768.7 253.66L769.5 252.56L770.3 251.31L771.2 250.32L772.0 249.97L772.8 250.60L773.6 251.93L774.4 253.49L775.2 254.77L776.0 255.28L776.8 254.71L777.6 253.39L778.4 251.78L779.2 250.35L779.9 249.57L780.8 249.61L781.6 250.29L782.4 251.27L783.3 252.23L784.0 253.07L784.8 254.11L785.7 255.13L786.5 255.90L787.2 256.21L788.1 255.65L789.0 254.38L789.8 253.04L790.6 252.23L791.5 252.28L792.4 252.92L793.2 253.55L794.1 254.19L794.9 254.83L795.9 254.88L796.7 254.05L797.5 252.67L798.4 251.39L799.2 250.90L800.0 251.73L800.9 253.41L801.7 255.07L802.5 255.81L803.4 255.09L804.2 253.47L805.0 251.80L805.8 250.90L806.7 251.20L807.5 252.19L808.4 253.29L809.2 253.95L810.1 253.83L811.0 253.24L811.8 252.89L812.7 253.12L813.6 253.58L814.5 253.95L815.4 254.23L816.2 254.43L817.1 254.22L818.0 253.25L818.9 251.89L819.8 250.90L820.6 250.67L821.4 250.72L822.3 250.85L823.1 250.90L823.9 250.83L824.8 250.73L825.6 250.62L826.4 250.50L827.3 250.36L828.1 250.19L828.9 250.05L829.8 249.97L830.6 249.99L831.4 250.07L832.2 250.17L833.1 250.23L833.9 250.28L834.8 250.32L835.7 250.32L836.4 250.23L837.5 249.57L838.4 249.17L839.3 250.47L840.4 251.30L841.2 250.02L842.1 247.98L843.0 246.52L843.9 246.20L844.9 246.45L845.7 246.91L846.6 248.43L847.7 249.17L848.4 248.09L849.3 246.25L850.1 244.41L851.0 243.33L851.8 243.41L852.7 244.17L853.5 245.08L854.3 245.59L855.2 245.43L856.0 244.94L856.9 244.44L857.6 244.26L858.6 244.63L859.4 245.36L860.3 246.25L861.1 247.19L861.9 248.37L862.8 249.32L863.6 249.57L864.4 248.63L865.3 246.87L866.1 245.13L866.9 244.26L867.8 244.72L868.6 245.98L869.5 247.37L870.3 248.24L871.2 248.18L872.0 247.57L872.9 247.31L873.7 247.74L874.6 248.47L875.4 249.18L876.2 249.57L877.2 249.25L878.0 248.52L878.9 248.24L879.8 248.93L880.6 250.06L881.5 250.90L882.3 251.11L883.1 251.12L884.0 251.03L884.9 250.90L885.6 250.72L886.4 250.44L887.3 250.16L888.1 249.97L888.9 249.97L889.7 250.36L890.6 251.04L891.4 251.75L892.2 252.23L893.0 252.31L893.8 252.18L894.7 252.06L895.5 252.23L896.3 252.92L897.2 253.94L898.0 254.88L898.8 255.28L899.7 254.63L900.6 253.29L901.5 252.23L902.2 251.77L903.0 251.41L903.9 251.30L904.8 251.56L905.6 252.30L906.4 253.49L907.2 254.77L908.0 255.79L908.8 256.21L909.7 255.45L910.5 253.80L911.3 252.20L912.1 251.56L913.0 253.04L913.9 255.69L914.8 257.54L915.6 257.44L916.5 256.53L917.4 256.21L918.3 257.34L919.1 259.06L920.1 260.20L920.9 260.19L921.7 259.74L922.6 259.18L923.4 258.87L924.3 258.86L925.1 259.07L926.0 259.53L926.8 260.26L927.7 261.26L928.5 262.13L929.4 262.45L930.2 261.87L931.0 260.68L931.8 259.48L932.7 258.87L933.5 259.31L934.4 260.37L935.3 261.35L936.0 261.52L937.0 258.30L938.0 255.08L938.8 255.55L939.7 257.02L940.6 257.72L941.5 256.46L942.4 254.41L943.2 253.37L944.1 254.24L944.9 256.11L945.9 257.99L946.6 259.41L947.4 261.02L948.2 262.27L949.2 262.60L949.9 262.03L950.6 260.87L951.4 259.40L952.2 257.85L953.0 256.51L953.8 255.61L954.6 255.17L955.4 254.98L956.2 254.98L957.0 255.13L957.7 255.35L958.4 255.61L959.3 256.17L960.1 256.96L960.9 257.84L961.7 258.65L962.5 259.47L963.3 260.34L964.1 261.03L965.0 261.28L965.7 261.00L966.5 260.36L967.3 259.56L968.1 258.79L969.0 258.25L969.7 257.98L970.5 257.76L971.3 257.62L972.1 257.55L972.8 257.58L973.6 257.72L974.4 258.21L975.2 259.02L976.0 259.87L976.8 260.50L977.5 260.62L978.3 259.96L979.2 258.68L980.0 257.23L980.8 256.06L981.5 255.61L982.4 256.50L983.2 258.38L984.0 260.29L984.8 261.28L985.6 260.85L986.4 259.58L987.2 258.17L988.1 257.33L988.9 257.23L989.7 257.41L990.5 257.77L991.3 258.21L992.1 258.65L993.0 259.38L993.8 260.34L994.6 261.10L995.4 261.28L996.3 258.89L997.3 256.67L998.0 256.95L998.8 257.76L999.6 258.82L1000.5 259.86L1001.3 260.62L1002.1 261.14L1002.9 261.60L1003.8 261.92L1004.5 262.06L1005.2 261.94L1006.2 260.75L1007.1 258.96L1007.9 257.99L1008.8 258.79L1009.7 260.41L1010.5 261.28L1011.6 259.39L1012.5 257.99L1013.5 261.76L1014.5 265.24L1015.3 263.89L1016.3 261.10L1017.1 259.57L1018.1 262.51L1019.1 265.24L1019.9 263.51L1020.8 260.35L1021.7 257.99L1022.5 257.44L1023.4 257.45L1024.2 257.72L1025.0 257.99L1025.9 258.18L1026.7 258.44L1027.5 258.81L1028.3 259.31L1029.1 260.10L1029.9 261.12L1030.8 262.06L1031.6 262.60L1032.4 262.59L1033.2 262.28L1034.0 261.84L1034.8 261.45L1035.6 261.28L1036.4 261.44L1037.2 261.81L1038.0 262.23L1038.8 262.55L1039.6 262.60L1040.4 262.29L1041.2 261.73L1042.0 261.05L1042.8 260.41L1043.5 259.97L1044.4 259.66L1045.3 259.50L1046.1 259.47L1046.8 259.57L1047.8 260.67L1048.8 261.28L1049.6 259.76L1050.4 257.57L1051.4 256.93L1052.1 258.26L1052.9 260.68L1053.7 263.40L1054.6 265.62L1055.4 266.56L1056.2 265.73L1056.9 263.64L1057.7 261.04L1058.5 258.69L1059.3 257.33L1060.1 257.17L1060.9 257.58L1061.7 258.33L1062.5 259.20L1063.3 259.95L1064.0 260.36L1064.9 260.38L1065.8 260.09L1066.6 259.67L1067.3 259.31L1068.3 258.58L1069.2 258.25L1070.0 258.91L1070.9 259.92L1071.9 260.36L1072.6 260.07L1073.4 259.48L1074.2 258.73L1075.1 257.97L1075.8 257.33L1076.8 256.66L1077.7 256.02L1078.6 255.47L1079.1 255.08"/>
<text x="217.9" y="303.5" class="lab">C3</text>
<text x="247.5" y="303.5" class="lab">G</text>
<path class="tr" d="M267.3 303.36L267.8 302.65L268.6 302.03L269.4 302.18L270.3 302.55L271.3 302.70L272.0 302.51L272.8 302.18L273.6 301.80L274.5 301.49L275.3 301.37L276.1 301.52L276.9 301.87L277.7 302.28L278.5 302.60L279.3 302.70L280.2 302.33L281.1 301.63L281.9 300.97L282.6 300.70L283.6 302.01L284.6 303.09L285.4 302.05L286.3 300.32L287.2 299.38L288.0 299.87L288.8 301.03L289.6 302.19L290.6 302.70L291.3 302.41L292.1 301.75L292.9 300.89L293.7 300.03L294.5 299.37L295.2 299.11L296.1 299.52L296.9 300.51L297.7 301.70L298.5 302.70L299.4 303.59L300.2 304.52L301.1 305.20L301.8 305.35L302.8 304.32L303.6 302.50L304.5 300.97L305.3 300.18L306.1 299.50L307.0 299.09L307.8 299.11L308.7 299.89L309.5 301.24L310.3 302.59L311.1 303.36L312.0 303.21L312.8 302.52L313.6 301.75L314.5 301.37L315.3 301.60L316.1 302.16L316.9 302.75L317.8 303.09L318.5 303.10L319.3 302.96L320.1 302.75L321.0 302.51L321.8 302.30L322.6 302.03L323.4 301.65L324.2 301.32L325.0 301.18L325.8 301.37L326.6 302.15L327.4 303.45L328.2 304.84L329.0 305.92L329.7 306.28L330.7 304.60L331.6 301.68L332.4 300.04L333.3 301.25L334.1 303.74L335.0 305.35L335.8 305.18L336.7 304.33L337.5 303.33L338.4 302.70L339.2 302.55L339.9 302.63L340.8 302.84L341.7 303.09L342.4 303.35L343.2 303.72L344.1 304.12L344.9 304.48L345.7 304.69L346.3 304.69L347.3 303.85L348.1 302.46L349.0 301.37L349.7 300.99L350.6 300.69L351.4 300.51L352.2 300.50L353.0 300.70L354.0 301.98L354.8 303.78L355.6 304.69L356.5 303.73L357.5 301.88L358.3 300.70L359.2 301.08L360.3 302.70L361.0 304.36L361.9 306.64L362.7 308.44L363.6 308.67L364.4 306.27L365.3 302.07L366.1 297.85L366.9 295.39L367.9 295.93L368.7 298.54L369.6 300.70L370.4 301.56L371.3 301.98L372.2 302.03L373.0 301.61L373.9 300.83L374.8 300.15L375.6 300.04L376.4 301.43L377.3 303.55L378.2 304.69L378.9 304.30L379.7 303.32L380.5 302.10L381.4 301.01L382.2 300.44L383.0 300.48L383.8 300.88L384.6 301.50L385.4 302.16L386.2 302.70L387.0 303.21L387.8 303.80L388.6 304.33L389.4 304.68L390.2 304.69L391.0 304.08L391.8 302.99L392.6 301.75L393.5 300.70L394.2 299.92L395.1 299.05L395.9 298.30L396.7 297.89L397.5 298.05L398.3 299.58L399.1 302.15L399.9 304.59L400.8 305.75L401.6 305.17L402.4 303.60L403.2 301.67L404.0 299.97L404.8 299.11L405.7 299.60L406.5 301.07L407.3 302.62L408.1 303.36L408.9 302.77L409.8 301.43L410.6 300.05L411.4 299.38L412.3 299.85L413.1 300.99L414.0 302.16L414.7 302.70L415.7 301.86L416.5 300.29L417.4 299.38L418.3 299.99L419.1 301.27L420.0 302.03L420.8 301.78L421.7 301.12L422.5 300.41L423.4 300.04L424.2 300.17L424.9 300.58L425.7 301.05L426.7 301.37L427.4 301.44L428.1 301.48L428.9 301.49L429.7 301.48L430.5 301.45L431.3 301.41L432.0 301.37L432.9 301.25L433.7 301.05L434.5 300.86L435.2 300.72L436.0 300.70L436.9 300.90L437.7 301.24L438.5 301.65L439.3 302.03L440.2 302.60L441.1 303.16L442.0 303.36L442.8 302.89L443.7 302.06L444.6 301.37L445.4 301.05L446.3 300.79L447.1 300.65L447.9 300.70L448.9 301.38L449.7 302.35L450.6 302.70L451.4 301.75L452.3 300.18L453.2 299.11L454.0 299.08L454.9 299.43L455.7 299.86L456.6 300.04L457.4 299.86L458.2 299.49L459.1 299.07L459.9 298.71L460.7 298.34L461.6 297.94L462.4 297.69L463.2 297.78L464.1 298.89L465.0 300.50L465.9 301.37L466.7 300.64L467.6 299.17L468.5 298.31L469.3 298.60L470.1 299.36L471.0 300.19L471.8 300.70L472.7 300.81L473.5 300.71L474.4 300.44L475.2 300.04L475.9 299.21L476.6 298.03L477.3 297.09L478.1 296.98L478.8 297.89L479.6 299.51L480.3 301.37L481.1 303.03L481.8 304.02L482.7 304.04L483.5 303.06L484.5 302.03L485.2 301.49L486.0 300.84L486.8 300.22L487.7 299.78L488.4 299.64L489.3 300.08L490.2 300.98L491.0 301.97L491.8 302.70L492.7 303.22L493.6 303.47L494.4 303.36L495.3 302.50L496.2 301.27L497.1 300.70L498.0 301.61L498.8 303.19L499.7 304.02L500.6 303.24L501.4 301.71L502.4 300.70L503.2 300.80L504.0 301.33L504.8 301.87L505.7 302.03L506.5 301.67L507.2 301.00L508.1 300.25L508.9 299.63L509.7 299.38L510.5 299.60L511.3 300.15L512.1 300.86L512.9 301.54L513.7 302.03L514.5 302.42L515.4 302.70L516.2 302.81L517.0 302.70L517.8 302.14L518.7 301.24L519.5 300.41L520.3 300.04L521.1 300.44L522.0 301.33L522.8 302.23L523.6 302.70L524.5 302.46L525.3 301.82L526.1 301.12L527.0 300.70L527.8 300.70L528.6 300.91L529.4 301.19L530.3 301.37L531.1 301.45L532.0 301.49L532.8 301.48L533.6 301.37L534.5 300.81L535.3 300.11L536.2 300.04L537.0 300.66L537.8 301.71L538.6 302.88L539.5 303.89L540.2 304.42L541.1 304.19L541.9 303.35L542.7 302.45L543.6 302.03L544.4 302.37L545.2 303.14L546.0 303.95L546.9 304.42L547.7 304.31L548.5 303.87L549.3 303.44L550.2 303.36L551.0 303.74L551.8 304.41L552.6 305.16L553.4 305.76L554.2 306.02L555.1 305.63L555.9 304.77L556.7 303.87L557.5 303.36L558.3 303.47L559.2 303.94L560.0 304.45L560.8 304.69L561.7 304.46L562.5 303.98L563.3 303.52L564.1 303.36L565.0 303.72L565.8 304.40L566.6 305.06L567.5 305.35L568.3 305.06L569.2 304.40L570.0 303.72L570.8 303.36L571.7 303.63L572.5 304.27L573.4 304.69L574.2 304.71L575.0 304.60L575.9 304.38L576.8 304.02L577.5 303.50L578.4 302.75L579.2 302.00L580.0 301.46L580.7 301.37L581.7 302.65L582.5 304.74L583.4 306.02L584.2 305.79L585.0 304.94L585.8 303.96L586.7 303.36L587.5 303.34L588.3 303.58L589.1 303.89L589.9 304.09L590.7 304.02L591.6 303.26L592.4 302.03L593.2 300.97L594.0 300.70L594.9 301.76L595.7 303.69L596.6 305.62L597.3 306.68L598.3 306.11L599.2 304.52L600.0 303.36L601.0 303.62L602.0 304.02L602.7 303.52L603.6 302.69L604.4 301.96L605.3 301.77L606.1 302.51L606.9 303.87L607.7 305.17L608.6 305.75L609.4 305.34L610.2 304.37L611.0 303.20L611.8 302.21L612.6 301.77L613.5 302.29L614.3 303.52L615.1 304.76L615.9 305.35L616.8 304.81L617.6 303.60L618.5 302.43L619.2 302.03L620.2 303.51L621.0 305.91L621.9 307.08L622.8 305.60L623.6 302.89L624.6 300.97L625.3 300.76L626.2 301.13L627.0 301.69L627.9 302.03L628.7 302.05L629.5 301.95L630.3 301.83L631.2 301.77L632.0 301.77L632.8 301.78L633.7 301.82L634.5 301.90L635.2 302.03L636.1 302.37L636.9 302.83L637.8 303.36L638.6 303.92L639.4 304.71L640.3 305.43L641.1 305.75L641.8 305.35L642.8 302.13L643.6 297.51L644.5 294.73L645.3 295.16L646.1 296.97L647.0 299.15L647.8 300.70L648.6 301.38L649.5 301.70L650.3 301.85L651.1 302.03L651.9 302.18L652.7 302.24L653.6 302.36L654.4 302.70L655.2 303.32L656.0 304.21L656.9 305.13L657.7 305.82L658.4 306.02L659.3 305.35L660.2 304.02L661.0 302.53L661.8 301.37L662.7 300.31L663.5 299.55L664.4 299.38L665.3 300.33L666.1 301.88L667.1 302.70L667.8 302.05L668.6 300.70L669.5 299.52L670.4 299.38L671.1 300.53L672.0 302.55L672.8 304.86L673.6 306.87L674.4 308.01L675.2 308.02L676.0 307.11L676.8 305.75L677.7 304.42L678.4 303.25L679.2 301.79L680.0 300.35L680.9 299.22L681.7 298.71L682.5 299.08L683.3 300.14L684.1 301.48L684.9 302.69L685.7 303.36L686.5 303.32L687.3 302.85L688.1 302.20L688.9 301.62L689.6 301.37L690.6 301.96L691.4 302.99L692.3 303.36L693.0 302.91L693.8 302.10L694.6 301.11L695.5 300.14L696.3 299.38L697.1 298.76L697.9 298.18L698.8 297.70L699.6 297.41L700.3 297.38L701.2 298.22L702.0 299.65L702.9 300.70L703.6 300.93L704.4 300.97L705.2 300.91L706.1 300.80L706.9 300.70L707.7 300.69L708.5 300.71L709.3 300.67L710.1 300.48L710.9 300.04L711.8 298.80L712.6 297.03L713.3 295.44L714.2 294.73L715.0 295.11L715.8 296.11L716.6 297.41L717.4 298.70L718.2 299.64L719.0 300.24L719.8 300.71L720.6 301.05L721.4 301.27L722.2 301.37L723.0 301.27L723.8 300.96L724.6 300.57L725.4 300.23L726.2 300.04L727.1 300.03L727.9 300.16L728.7 300.40L729.5 300.70L730.4 301.42L731.2 302.28L732.1 302.70L732.9 302.48L733.6 301.96L734.5 301.36L735.3 300.87L736.1 300.70L736.9 301.03L737.7 301.72L738.5 302.50L739.3 303.14L740.1 303.36L740.9 302.97L741.7 302.14L742.5 301.18L743.3 300.37L744.1 300.04L744.9 300.39L745.7 301.24L746.5 302.24L747.3 303.06L748.1 303.36L748.9 302.92L749.7 301.97L750.5 300.84L751.3 299.86L752.1 299.38L752.9 299.73L753.7 300.70L754.5 301.68L755.4 302.03L756.1 301.52L757.0 300.50L757.8 299.34L758.6 298.40L759.4 298.05L760.2 298.71L760.9 300.12L761.7 301.66L762.7 302.70L763.3 302.95L764.1 303.05L764.9 303.06L765.7 302.99L766.5 302.88L767.3 302.77L768.0 302.70L768.8 302.58L769.6 302.38L770.4 302.16L771.2 301.98L772.0 301.92L772.6 302.03L773.5 302.78L774.3 303.98L775.1 305.04L776.0 305.35L776.7 304.71L777.5 303.47L778.4 302.00L779.2 300.73L779.9 300.04L780.8 300.19L781.6 300.99L782.4 301.98L783.3 302.70L784.0 302.99L784.8 303.20L785.7 303.33L786.5 303.39L787.2 303.36L788.1 303.07L789.0 302.57L789.8 302.13L790.6 302.03L791.4 302.57L792.1 303.53L793.0 304.40L793.9 304.69L794.6 304.31L795.4 303.53L796.2 302.57L797.0 301.64L797.8 300.94L798.5 300.70L799.4 301.20L800.2 302.29L801.0 303.60L801.8 304.75L802.5 305.35L803.4 305.10L804.2 304.21L805.0 303.22L805.8 302.70L806.6 302.80L807.4 303.19L808.2 303.70L809.0 304.17L809.8 304.42L810.6 304.42L811.4 304.26L812.2 304.03L813.0 303.79L813.8 303.62L814.6 303.54L815.4 303.48L816.2 303.44L817.0 303.40L817.8 303.36L818.6 303.31L819.5 303.28L820.3 303.24L821.1 303.18L821.8 303.09L822.7 302.86L823.5 302.56L824.4 302.30L825.1 302.12L825.9 301.90L826.8 301.72L827.6 301.65L828.4 301.77L829.2 302.23L830.0 302.99L830.9 303.80L831.7 304.45L832.4 304.69L833.3 304.14L834.1 303.00L835.0 301.88L835.7 301.37L836.6 302.20L837.4 303.78L838.4 304.69L839.1 304.52L839.9 304.01L840.7 303.33L841.6 302.67L842.3 302.17L843.0 302.03L844.0 303.02L844.8 304.73L845.7 305.75L846.4 305.62L847.2 305.12L848.0 304.44L848.9 303.78L849.7 303.36L850.5 303.19L851.3 303.12L852.1 303.15L852.9 303.24L853.7 303.36L854.5 303.55L855.2 303.83L856.0 304.14L856.8 304.44L857.6 304.69L858.4 304.89L859.3 305.10L860.1 305.26L860.9 305.36L861.6 305.35L862.5 305.19L863.3 304.90L864.1 304.50L864.9 304.02L865.8 303.31L866.7 302.40L867.5 301.64L868.3 301.37L869.3 303.11L870.3 304.69L871.0 304.05L871.8 302.74L872.7 301.40L873.6 300.70L874.4 300.95L875.3 301.74L876.1 302.68L876.9 303.36L877.8 303.88L878.6 304.17L879.6 304.02L880.3 303.29L881.2 302.11L882.0 301.07L882.9 300.70L883.7 301.54L884.5 303.15L885.3 304.70L886.2 305.35L887.0 304.78L887.8 303.50L888.6 301.97L889.4 300.67L890.2 300.04L891.0 300.54L891.8 301.87L892.6 303.28L893.5 304.02L894.3 303.80L895.1 303.09L896.0 302.22L896.8 301.54L897.5 301.37L898.4 302.72L899.2 304.88L900.1 306.02L900.9 305.62L901.7 304.63L902.6 303.39L903.4 302.19L904.1 301.37L905.1 300.80L905.8 300.68L906.8 300.70L907.5 300.74L908.3 300.84L909.1 300.99L909.9 301.17L910.8 301.37L911.6 301.53L912.4 301.66L913.2 301.85L914.0 302.16L914.8 302.70L915.6 303.66L916.4 305.01L917.2 306.41L918.0 307.52L918.7 308.01L919.6 307.47L920.4 306.10L921.2 304.52L922.1 303.36L922.9 302.80L923.7 302.50L924.5 302.30L925.4 302.03L926.1 301.71L926.9 301.36L927.7 301.00L928.6 300.68L929.4 300.44L930.2 300.23L931.0 300.05L931.8 299.92L932.6 299.90L933.3 300.04L934.3 300.96L935.2 302.22L936.0 302.70L936.8 301.62L937.6 299.75L938.6 298.23L939.3 297.64L940.1 297.09L941.0 296.72L941.8 296.62L942.6 296.91L943.4 298.21L944.2 300.27L945.0 302.29L945.9 303.51L946.6 303.62L947.5 303.22L948.3 302.55L949.1 301.82L949.8 301.26L950.8 300.71L951.7 300.22L952.5 299.55L953.3 297.75L954.5 296.25L955.0 296.07L955.8 295.94L956.6 295.87L957.4 295.91L958.2 296.08L959.0 296.40L959.7 296.91L960.6 298.26L961.4 300.25L962.1 302.36L962.9 304.06L963.7 304.83L964.4 304.44L965.2 303.31L966.0 301.78L966.8 300.18L967.6 298.89L968.3 298.23L969.1 298.44L969.9 299.34L970.7 300.52L971.4 301.61L972.3 302.19L973.0 302.15L973.8 301.80L974.5 301.28L975.3 300.75L976.1 300.34L976.9 300.21L977.7 300.45L978.5 300.97L979.3 301.61L980.1 302.24L980.8 302.70L981.5 302.85L982.5 302.04L983.3 300.57L984.1 299.55L984.9 299.44L985.8 299.63L986.7 299.95L987.4 300.21L988.4 300.50L989.4 300.87L990.1 301.15L991.0 301.49L991.9 301.84L992.7 302.19L993.6 302.67L994.5 303.26L995.3 303.64L996.0 303.51L996.7 300.62L997.3 298.23L998.0 298.98L998.8 300.66L999.7 302.45L1000.6 303.51L1001.4 303.56L1002.2 303.21L1003.0 302.62L1003.8 302.00L1004.6 301.53L1005.5 301.06L1006.3 300.58L1007.1 300.24L1007.9 300.21L1008.8 300.92L1009.6 302.07L1010.5 302.85L1011.3 302.95L1012.1 302.81L1013.0 302.52L1013.8 302.19L1014.7 301.65L1015.5 300.91L1016.3 300.32L1017.1 300.21L1017.9 300.95L1018.7 302.27L1019.5 303.55L1020.4 304.17L1021.1 304.02L1021.8 303.58L1022.6 302.95L1023.4 302.25L1024.2 301.59L1025.0 301.09L1025.7 300.87L1026.6 301.04L1027.4 301.56L1028.2 302.26L1029.0 302.97L1029.7 303.51L1030.6 304.04L1031.4 304.44L1032.3 304.83L1033.1 305.23L1033.9 305.69L1034.8 306.05L1035.6 306.15L1036.5 305.73L1037.3 304.95L1038.2 304.17L1038.9 303.76L1039.7 303.34L1040.5 302.93L1041.4 302.54L1042.2 302.19L1043.0 301.82L1043.8 301.42L1044.6 301.08L1045.4 300.87L1046.2 300.87L1047.0 301.39L1047.8 302.31L1048.6 303.17L1049.5 303.51L1050.3 302.91L1051.1 301.73L1051.9 300.62L1052.8 300.21L1053.5 300.82L1054.3 302.06L1055.1 303.45L1055.9 304.54L1056.7 304.83L1057.5 303.96L1058.3 302.24L1059.1 300.23L1059.9 298.49L1060.7 297.57L1061.5 297.91L1062.4 299.22L1063.2 300.69L1064.0 301.53L1064.8 301.38L1065.6 300.73L1066.4 299.98L1067.3 299.55L1068.0 299.55L1068.8 299.70L1069.7 299.95L1070.5 300.23L1071.2 300.47L1072.1 300.80L1073.0 301.18L1073.8 301.47L1074.5 301.53L1075.6 300.65L1076.5 299.55L1077.4 299.21L1078.4 299.01L1079.1 298.89"/>
<text x="217.9" y="350.6" class="lab">P3</text>
<text x="248.3" y="350.6" class="lab">G</text>
<path class="tr" d="M268.0 348.95L268.8 348.15L270.0 347.62L270.8 348.32L271.7 349.41L272.6 349.88L273.4 349.32L274.2 348.24L275.1 347.15L275.9 346.56L276.8 346.81L277.6 347.54L278.4 348.29L279.3 348.55L280.1 348.01L280.9 346.99L281.8 345.98L282.6 345.50L283.4 345.85L284.2 346.70L285.1 347.61L285.9 348.16L286.8 348.14L287.6 347.82L288.4 347.43L289.2 347.23L290.1 347.28L291.0 347.51L291.9 347.89L292.7 348.38L293.5 349.04L294.3 349.62L295.2 349.88L296.0 349.69L296.8 349.21L297.6 348.65L298.4 348.23L299.2 348.16L300.1 348.79L300.9 349.92L301.7 351.04L302.5 351.61L303.3 351.38L304.2 350.67L305.0 349.83L305.8 349.22L306.7 348.85L307.5 348.57L308.3 348.45L309.1 348.55L310.0 349.09L310.8 349.97L311.6 350.80L312.5 351.21L313.3 350.97L314.1 350.31L315.0 349.61L315.8 349.22L316.6 349.28L317.4 349.59L318.3 349.98L319.1 350.28L319.9 350.53L320.8 350.80L321.6 350.93L322.4 350.81L323.2 350.15L324.0 349.09L324.9 348.17L325.8 347.89L326.5 348.51L327.3 349.71L328.2 351.08L329.0 352.17L329.7 352.54L330.6 351.57L331.5 349.63L332.3 347.65L333.1 346.56L334.1 348.07L335.0 349.88L335.9 348.98L336.7 347.32L337.7 346.30L338.5 346.48L339.3 347.14L340.1 347.95L341.0 348.55L341.8 348.84L342.6 349.08L343.4 349.26L344.2 349.40L345.0 349.48L345.8 349.56L346.6 349.61L347.4 349.60L348.2 349.49L349.0 349.22L349.9 348.40L350.7 347.21L351.5 346.19L352.3 345.90L353.2 346.87L354.0 348.68L354.8 350.43L355.6 351.21L356.5 349.72L357.3 347.05L358.3 345.90L359.0 346.92L359.9 348.94L360.7 351.28L361.5 353.27L362.3 354.27L363.2 353.29L364.0 350.75L364.9 348.55L365.7 347.49L366.6 346.54L367.5 345.93L368.2 345.90L369.2 347.45L370.0 349.88L370.9 351.21L371.7 350.18L372.6 348.04L373.6 346.56L374.3 346.39L375.1 346.50L376.0 346.83L376.8 347.32L377.5 347.89L378.5 349.56L379.4 351.60L380.2 352.54L381.1 351.16L381.9 348.68L382.9 347.23L383.6 347.73L384.5 349.08L385.3 350.49L386.2 351.21L387.0 350.75L387.8 349.62L388.7 348.52L389.5 348.16L390.3 349.09L391.1 350.82L391.9 352.48L392.8 353.20L393.5 352.80L394.3 351.83L395.1 350.57L396.0 349.31L396.8 348.32L397.5 347.89L398.4 348.55L399.2 350.11L399.9 351.72L400.8 352.54L401.6 352.24L402.4 351.37L403.2 350.30L404.1 349.37L404.8 348.95L405.7 349.83L406.5 351.46L407.4 352.14L408.2 351.21L409.0 349.49L409.9 347.77L410.8 346.83L411.6 347.06L412.4 347.98L413.2 349.09L414.1 349.88L414.8 350.15L415.6 350.28L416.4 350.33L417.2 350.39L418.1 350.55L418.8 350.81L419.6 351.19L420.4 351.58L421.2 351.93L422.0 352.14L422.7 352.14L423.6 351.72L424.4 350.95L425.2 350.07L426.0 349.32L426.7 348.95L427.7 349.42L428.5 350.49L429.3 351.21L430.2 351.18L431.0 350.80L432.0 350.28L432.7 349.93L433.4 349.45L434.3 348.93L435.1 348.48L435.9 348.19L436.6 348.16L437.6 348.81L438.4 350.01L439.2 351.21L440.0 351.88L440.8 351.76L441.6 351.19L442.5 350.47L443.3 349.88L444.1 349.48L444.9 349.12L445.8 348.81L446.6 348.55L447.4 348.37L448.3 348.25L449.1 348.18L449.9 348.16L450.8 348.18L451.6 348.25L452.4 348.37L453.2 348.55L454.1 348.81L455.0 349.14L455.8 349.50L456.6 349.88L457.6 351.00L458.6 351.61L459.3 351.18L460.1 350.36L461.0 349.50L461.9 348.95L462.7 348.90L463.5 349.11L464.4 349.38L465.2 349.48L466.0 349.30L466.9 348.97L467.7 348.66L468.5 348.55L469.3 348.77L470.2 349.20L471.0 349.64L471.8 349.88L472.7 349.87L473.5 349.70L474.3 349.46L475.2 349.22L476.0 348.88L476.8 348.46L477.6 348.14L478.5 348.16L479.3 348.69L480.1 349.59L480.9 350.54L481.8 351.21L482.6 351.49L483.4 351.64L484.2 351.70L485.0 351.68L485.8 351.61L486.6 351.31L487.4 350.83L488.2 350.40L489.1 350.28L489.9 350.57L490.7 351.13L491.5 351.77L492.3 352.30L493.1 352.54L494.0 352.26L494.8 351.60L495.6 350.91L496.4 350.55L497.3 350.93L498.2 351.68L499.1 351.88L499.8 351.17L500.7 349.99L501.5 348.82L502.4 348.16L503.2 348.23L504.1 348.75L504.9 349.40L505.7 349.88L506.6 350.36L507.5 350.73L508.4 350.55L509.2 349.13L510.0 347.17L511.0 346.30L511.7 346.93L512.5 348.25L513.4 349.81L514.2 351.17L515.0 351.88L515.9 351.56L516.7 350.48L517.5 349.27L518.3 348.55L519.2 348.61L520.0 349.05L520.9 349.58L521.6 349.88L522.6 349.69L523.4 349.27L524.3 349.22L525.1 349.79L525.9 350.71L526.7 351.55L527.6 351.88L528.4 351.49L529.2 350.66L530.0 349.69L530.8 348.89L531.6 348.55L532.4 348.88L533.2 349.66L534.0 350.61L534.8 351.44L535.6 351.88L536.5 351.66L537.3 350.96L538.1 350.23L538.9 349.88L539.8 350.19L540.6 350.88L541.5 351.56L542.2 351.88L543.3 350.75L544.2 349.88L545.2 352.00L546.2 353.87L547.2 352.08L548.2 349.88L549.0 349.71L549.9 350.05L550.9 350.55L551.6 351.01L552.5 351.63L553.3 352.20L554.2 352.54L555.0 352.61L555.8 352.50L556.7 352.24L557.5 351.88L558.3 351.25L559.2 350.41L560.0 349.63L560.8 349.22L561.6 349.38L562.4 349.91L563.3 350.49L564.1 350.81L564.9 350.81L565.7 350.67L566.5 350.45L567.3 350.18L568.1 349.88L568.9 349.48L569.7 348.95L570.5 348.42L571.3 348.03L572.1 347.89L572.9 348.16L573.7 348.76L574.5 349.46L575.3 350.04L576.1 350.28L576.9 350.00L577.7 349.33L578.5 348.57L579.3 347.99L580.1 347.89L581.0 348.76L581.8 350.31L582.6 351.82L583.4 352.54L584.2 351.99L585.0 350.67L585.8 349.29L586.7 348.55L587.5 348.77L588.3 349.46L589.1 350.31L589.9 351.00L590.7 351.21L591.6 350.43L592.4 348.97L593.2 347.63L594.0 347.23L594.9 348.34L595.7 350.42L596.6 352.57L597.3 353.87L598.3 353.86L599.1 352.89L600.0 351.88L600.8 351.16L601.6 350.32L602.5 349.66L603.3 349.48L604.1 350.17L605.0 351.46L605.8 352.69L606.6 353.20L607.5 352.52L608.4 351.09L609.2 349.65L610.0 348.95L610.9 350.73L611.9 352.54L612.7 351.91L613.6 350.58L614.5 349.23L615.3 348.55L616.2 349.29L617.1 350.81L617.9 351.61L618.8 350.72L619.6 349.12L620.6 348.16L621.3 348.31L622.2 348.84L623.0 349.53L623.9 350.17L624.6 350.55L625.7 350.64L626.6 349.88L627.3 348.35L628.0 346.40L628.8 345.50L629.5 346.25L630.3 347.85L631.1 349.53L631.9 350.55L632.7 350.56L633.5 350.01L634.3 349.33L635.2 348.95L635.9 348.98L636.7 349.16L637.5 349.41L638.4 349.67L639.2 349.88L640.0 350.06L640.8 350.25L641.6 350.42L642.4 350.53L643.2 350.55L644.0 350.39L644.8 350.07L645.6 349.72L646.4 349.49L647.1 349.48L648.0 349.90L648.8 350.61L649.6 351.43L650.5 352.14L651.3 352.77L652.1 353.39L652.9 353.92L653.8 354.27L654.6 354.36L655.4 354.31L656.2 354.19L657.0 354.02L657.8 353.87L658.7 353.69L659.6 353.45L660.4 352.94L661.3 351.66L662.2 350.10L663.1 349.48L663.9 350.93L664.7 353.32L665.7 354.53L666.4 354.08L667.2 353.01L668.0 351.64L668.8 350.30L669.6 349.30L670.4 348.95L671.2 349.68L672.1 351.26L672.9 353.14L673.6 354.78L674.4 355.59L675.3 355.20L676.1 353.90L676.9 352.35L677.7 351.21L678.6 350.39L679.5 349.92L680.3 349.88L681.2 350.69L682.1 351.95L683.0 352.54L683.8 351.79L684.7 350.38L685.7 349.22L686.4 348.82L687.2 348.52L688.1 348.30L688.9 348.18L689.6 348.16L690.6 348.63L691.5 349.37L692.3 349.48L693.3 347.23L694.3 345.23L695.0 345.68L695.9 346.82L696.7 348.00L697.6 348.55L698.4 348.11L699.3 347.09L700.1 346.03L700.9 345.50L701.8 345.84L702.7 346.69L703.5 347.54L704.2 347.89L705.2 346.44L706.2 344.97L706.9 345.17L707.7 345.75L708.6 346.46L709.4 347.03L710.2 347.23L711.1 346.73L711.9 345.76L712.7 344.75L713.5 344.17L714.4 344.17L715.3 344.50L716.1 344.99L716.9 345.50L717.9 346.82L718.9 347.89L719.6 347.95L720.4 347.79L721.3 347.51L722.2 347.23L723.0 346.91L723.8 346.52L724.6 346.15L725.5 345.90L726.3 345.75L727.1 345.61L728.0 345.55L728.8 345.62L729.5 345.90L730.5 347.24L731.3 349.03L732.1 349.88L733.0 348.77L733.9 346.72L734.8 345.50L735.6 345.84L736.5 346.84L737.4 347.92L738.1 348.55L739.2 347.92L740.1 347.23L741.0 348.61L742.1 349.88L742.8 349.70L743.6 349.20L744.4 348.56L745.3 347.98L746.1 347.62L747.0 347.53L747.8 347.64L748.6 347.87L749.4 348.16L750.3 348.61L751.1 349.22L752.0 349.73L752.7 349.88L753.8 348.47L754.7 347.23L755.6 348.78L756.7 350.28L757.4 349.84L758.3 348.86L759.2 347.83L760.0 347.23L760.9 347.22L761.7 347.53L762.6 348.03L763.4 348.55L764.3 349.51L765.2 350.62L766.0 351.21L766.9 350.46L768.0 349.22L768.7 348.83L769.4 348.40L770.3 348.03L771.1 347.82L772.0 347.89L772.8 348.42L773.5 349.34L774.3 350.37L775.1 351.22L776.0 351.61L776.7 351.44L777.5 350.92L778.3 350.21L779.1 349.47L779.9 348.87L780.6 348.55L781.5 348.65L782.4 349.13L783.1 349.75L783.9 350.28L784.8 350.77L785.6 351.31L786.4 351.73L787.2 351.88L788.1 351.50L788.9 350.77L789.7 350.09L790.6 349.88L791.4 350.51L792.2 351.67L793.1 352.76L793.9 353.20L794.7 352.55L795.5 351.21L796.3 349.87L797.2 349.22L798.0 349.52L798.7 350.33L799.5 351.32L800.3 352.17L801.2 352.54L801.9 352.35L802.7 351.83L803.6 351.14L804.4 350.41L805.1 349.81L805.8 349.48L806.8 349.51L807.6 349.89L808.4 350.40L809.2 350.81L810.0 351.16L810.8 351.53L811.7 351.80L812.5 351.88L813.3 351.64L814.1 351.19L815.0 350.69L815.8 350.28L816.6 350.00L817.4 349.76L818.2 349.58L819.1 349.48L819.9 349.52L820.8 349.64L821.6 349.79L822.4 349.89L823.1 349.88L824.2 349.08L825.1 348.55L826.0 349.36L826.9 350.60L827.8 351.21L828.7 349.63L829.8 348.16L830.4 348.56L831.3 349.45L832.1 350.48L833.0 351.32L833.7 351.61L834.7 350.39L835.5 348.31L836.4 347.23L837.2 347.89L838.1 349.34L838.9 350.90L839.7 351.88L840.6 351.82L841.5 351.12L842.4 350.81L843.2 351.27L844.0 352.07L844.8 352.83L845.7 353.20L846.5 352.96L847.3 352.33L848.2 351.64L849.0 351.21L849.8 351.16L850.6 351.31L851.5 351.51L852.3 351.61L853.1 351.51L853.9 351.30L854.7 351.09L855.5 351.02L856.3 351.21L857.2 352.11L858.1 353.49L858.9 354.72L859.6 355.20L860.5 353.98L861.4 351.77L862.3 350.28L863.1 350.31L863.9 350.90L864.8 351.58L865.6 351.88L866.5 351.54L867.3 350.85L868.1 350.18L868.9 349.88L869.8 350.50L870.7 351.56L871.6 351.88L872.4 350.98L873.2 349.43L874.1 347.94L874.9 347.23L875.8 347.69L876.6 348.89L877.5 350.25L878.2 351.21L879.2 352.08L880.2 351.88L881.0 350.83L881.8 349.20L882.7 347.75L883.5 347.23L884.4 348.28L885.2 350.36L886.0 352.44L886.9 353.47L887.7 352.86L888.5 351.26L889.3 349.54L890.2 348.55L891.0 348.68L891.8 349.41L892.6 350.28L893.5 350.81L894.3 350.85L895.1 350.70L896.0 350.47L896.8 350.30L897.5 350.28L898.5 350.89L899.3 351.73L900.1 351.88L901.0 350.48L901.9 348.40L902.8 347.23L903.6 347.69L904.4 348.90L905.3 350.16L906.1 350.81L906.9 350.46L907.8 349.54L908.6 348.59L909.4 348.16L910.3 348.55L911.2 349.42L912.0 350.32L912.8 350.81L913.8 349.97L914.8 349.22L915.5 349.74L916.4 350.67L917.3 351.71L918.1 352.54L919.1 353.88L920.1 354.27L920.9 353.00L921.8 351.05L922.7 349.88L923.6 350.47L924.4 351.84L925.4 352.54L926.2 352.10L927.1 351.17L927.9 350.10L928.7 349.22L929.7 347.91L930.7 347.23L931.5 347.62L932.4 348.43L933.3 348.95L934.2 348.72L935.1 348.22L936.0 348.16L936.9 349.37L937.7 351.03L938.6 351.40L939.4 349.73L940.2 346.87L941.1 344.21L941.9 343.09L942.7 344.47L943.6 347.44L944.4 350.53L945.2 352.33L946.0 352.16L946.9 350.88L947.7 349.34L948.5 348.37L949.3 348.27L950.2 348.57L951.0 348.94L951.8 349.03L952.7 348.63L953.5 347.97L954.3 347.35L955.1 347.05L956.0 347.47L956.9 348.31L957.8 348.76L958.6 348.09L959.4 347.03L960.4 347.05L961.1 348.25L961.9 350.22L962.7 352.38L963.5 354.16L964.3 354.97L965.1 354.41L965.9 352.86L966.7 350.94L967.5 349.24L968.3 348.37L969.1 348.63L969.8 349.62L970.6 350.87L971.4 351.93L972.3 352.33L973.0 352.00L973.7 351.28L974.5 350.32L975.3 349.29L976.0 348.36L976.8 347.69L977.5 347.44L978.4 347.85L979.2 348.81L980.0 350.05L980.7 351.30L981.5 352.28L982.2 352.72L983.1 352.16L983.9 350.73L984.7 349.22L985.5 348.37L986.3 348.71L987.1 349.79L988.1 350.61L988.8 350.72L989.6 350.66L990.5 350.55L991.3 350.50L992.1 350.61L992.9 351.19L993.8 352.06L994.6 352.80L995.4 352.99L996.2 351.75L997.0 349.79L998.0 348.76L998.7 349.17L999.5 350.16L1000.3 351.37L1001.1 352.43L1002.0 352.99L1002.7 352.94L1003.5 352.54L1004.3 351.92L1005.1 351.23L1005.9 350.61L1006.7 349.93L1007.5 349.10L1008.3 348.31L1009.1 347.77L1009.9 347.71L1010.7 348.68L1011.6 350.45L1012.4 352.17L1013.2 352.99L1013.9 352.27L1014.7 350.62L1015.5 348.99L1016.5 348.37L1017.1 348.79L1017.8 349.69L1018.6 350.87L1019.4 352.15L1020.2 353.32L1021.0 354.19L1021.7 354.57L1022.5 354.26L1023.3 353.35L1024.1 352.13L1024.8 350.86L1025.6 349.82L1026.4 349.29L1027.1 349.33L1027.9 349.68L1028.7 350.24L1029.5 350.89L1030.3 351.53L1031.0 352.05L1031.6 352.33L1032.6 352.30L1033.4 351.94L1034.2 351.44L1034.9 351.01L1035.8 350.55L1036.6 350.02L1037.5 349.65L1038.2 349.69L1039.1 350.88L1040.0 352.67L1040.9 353.65L1041.6 353.20L1042.4 352.10L1043.3 350.94L1044.2 350.35L1044.9 350.54L1045.7 351.13L1046.6 351.86L1047.4 352.48L1048.1 352.72L1049.0 352.42L1049.8 351.72L1050.6 350.86L1051.4 350.08L1052.2 349.45L1053.0 348.71L1053.8 348.02L1054.6 347.55L1055.4 347.44L1056.2 348.11L1057.0 349.39L1057.8 350.69L1058.7 351.40L1059.4 351.30L1060.3 350.78L1061.1 350.10L1061.9 349.52L1062.6 349.29L1063.5 349.67L1064.3 350.47L1065.1 351.27L1065.9 351.67L1066.8 351.48L1067.6 350.97L1068.4 350.30L1069.2 349.69L1070.1 349.02L1070.9 348.26L1071.8 347.65L1072.5 347.44L1073.5 348.20L1074.3 349.52L1075.2 350.35L1076.1 350.04L1077.0 349.24L1077.8 348.76L1078.6 349.32L1079.1 350.08"/>
<text x="218.1" y="398" class="lab">O1</text>
<text x="249.0" y="398" class="lab">G</text>
<path class="tr" d="M268.0 395.70L268.8 395.79L270.0 396.37L270.7 397.41L271.5 398.90L272.4 400.12L273.3 400.35L274.1 398.92L275.0 396.37L275.8 393.81L276.6 392.38L277.5 393.15L278.3 395.24L279.3 396.37L280.0 395.85L280.8 394.72L281.6 393.37L282.5 392.23L283.2 391.72L284.2 392.17L285.0 393.34L285.8 394.69L286.6 395.70L287.6 396.91L288.6 397.03L289.4 395.56L290.3 393.42L291.2 392.38L292.1 393.64L292.9 396.00L293.9 397.70L294.6 397.97L295.5 397.92L296.3 397.68L297.2 397.34L297.9 397.03L298.8 395.87L299.9 395.04L300.5 395.14L301.3 395.41L302.1 395.79L303.0 396.22L303.8 396.65L304.5 397.03L305.4 397.68L306.2 398.43L307.0 398.97L307.8 399.02L308.6 398.43L309.4 397.34L310.2 396.12L311.0 395.10L311.8 394.64L312.7 395.14L313.5 396.38L314.3 397.67L315.1 398.36L315.9 398.19L316.7 397.58L317.5 396.83L318.3 396.20L319.1 395.97L319.9 396.33L320.7 397.10L321.5 398.00L322.3 398.73L323.1 399.02L323.9 398.69L324.7 397.92L325.5 396.98L326.3 396.15L327.1 395.70L327.9 395.77L328.7 396.17L329.5 396.70L330.3 397.15L331.1 397.30L331.9 397.09L332.7 396.67L333.5 396.13L334.3 395.55L335.0 395.04L335.9 394.34L336.7 393.54L337.6 392.93L338.4 392.78L339.2 393.33L340.0 394.38L340.9 395.52L341.7 396.37L342.5 396.86L343.3 397.20L344.2 397.35L345.0 397.30L345.8 396.86L346.7 396.12L347.5 395.40L348.3 395.04L349.2 395.30L350.1 395.95L350.9 396.58L351.6 396.77L352.7 395.12L353.6 393.71L354.5 394.73L355.4 396.49L356.3 397.30L357.2 395.74L358.0 393.23L359.0 392.38L359.7 394.31L360.6 397.72L361.4 400.95L362.3 402.34L363.1 400.73L363.9 397.24L364.8 393.64L365.6 391.72L366.4 392.26L367.3 394.21L368.1 396.57L368.9 398.36L369.8 399.93L370.7 401.06L371.6 401.02L372.4 398.65L373.3 395.11L374.2 393.05L375.1 393.61L376.0 395.33L376.8 397.23L377.5 398.36L378.3 397.24L378.9 396.37L379.6 398.61L380.5 401.88L381.5 403.67L382.2 403.25L383.0 402.00L383.9 400.36L384.7 398.78L385.5 397.70L386.3 397.11L387.1 396.74L388.0 396.57L388.7 396.58L389.5 396.77L390.4 397.48L391.2 398.62L392.0 399.74L392.8 400.35L393.6 400.17L394.4 399.50L395.3 398.75L396.1 398.36L396.9 398.44L397.7 398.73L398.5 399.11L399.4 399.47L400.1 399.69L401.0 399.72L401.8 399.62L402.6 399.49L403.4 399.42L404.2 399.49L405.1 399.64L405.9 399.79L406.7 399.83L407.4 399.69L408.4 398.81L409.2 397.57L410.1 396.77L410.9 396.73L411.7 397.01L412.6 397.39L413.4 397.70L414.2 397.88L415.1 398.04L415.9 398.20L416.7 398.36L417.6 398.45L418.4 398.48L419.2 398.62L420.0 399.02L420.9 400.02L421.7 401.43L422.5 402.63L423.4 403.01L424.2 402.01L425.1 400.10L425.9 398.15L426.7 397.03L427.6 397.42L428.5 398.78L429.3 399.69L430.2 399.52L431.0 398.90L432.0 398.36L432.7 398.21L433.6 398.11L434.4 398.02L435.2 397.90L436.0 397.70L437.0 396.87L437.8 395.89L438.6 395.70L439.6 398.42L440.6 400.75L441.4 399.63L442.3 397.39L443.3 395.70L444.0 395.38L444.8 395.34L445.6 395.46L446.4 395.62L447.3 395.70L448.1 395.68L448.9 395.64L449.7 395.61L450.5 395.62L451.2 395.70L452.1 395.88L452.9 396.12L453.7 396.48L454.6 397.03L455.3 397.78L456.2 398.80L457.0 399.85L457.8 400.67L458.6 401.02L459.6 400.08L460.4 398.29L461.2 397.30L462.2 399.02L463.2 400.75L464.0 399.88L464.9 398.21L465.9 397.03L466.6 396.93L467.4 397.12L468.2 397.43L469.0 397.68L469.8 397.70L470.7 397.34L471.5 396.72L472.3 396.06L473.1 395.56L473.8 395.44L474.7 396.07L475.5 397.26L476.3 398.43L477.1 399.02L478.0 398.69L478.8 397.79L479.6 396.85L480.5 396.37L481.2 396.52L482.0 396.99L482.8 397.58L483.6 398.10L484.5 398.36L485.3 398.26L486.1 397.94L486.9 397.53L487.7 397.18L488.4 397.03L489.3 397.15L490.1 397.45L490.9 397.87L491.8 398.36L492.6 399.08L493.4 400.00L494.2 400.77L495.1 401.02L495.9 400.38L496.8 399.13L497.6 397.90L498.4 397.30L499.3 398.07L500.2 399.60L501.1 400.35L501.9 399.42L502.8 397.71L503.7 396.37L504.5 395.91L505.4 395.66L506.2 395.60L507.0 395.70L508.0 396.39L508.8 397.38L509.7 397.70L510.5 396.45L511.4 394.54L512.3 393.71L513.1 394.66L514.0 396.51L514.8 398.38L515.7 399.42L516.5 399.14L517.4 398.09L518.2 396.93L519.0 396.37L519.9 397.03L520.7 398.32L521.6 399.02L522.4 398.58L523.3 397.61L524.1 396.69L525.0 396.37L525.8 397.11L526.6 398.53L527.4 399.85L528.3 400.35L529.1 399.72L529.9 398.42L530.7 396.89L531.5 395.61L532.3 395.04L533.2 396.07L534.0 398.21L534.9 399.69L535.6 399.81L536.4 399.62L537.2 399.23L538.1 398.76L538.9 398.36L539.7 397.91L540.6 397.32L541.5 396.77L542.3 396.39L542.9 396.37L543.6 398.53L544.2 400.35L545.0 399.17L545.9 397.03L546.9 395.70L547.7 395.98L548.5 396.92L549.3 397.92L550.2 398.36L551.0 397.86L551.8 396.82L552.6 395.81L553.5 395.44L554.3 395.96L555.1 397.04L555.9 398.26L556.7 399.19L557.5 399.42L558.4 398.22L559.2 396.00L560.0 393.83L560.8 392.78L561.6 393.52L562.4 395.34L563.3 397.28L564.1 398.36L564.9 398.30L565.7 397.75L566.5 396.93L567.3 396.08L568.1 395.44L568.9 394.97L569.7 394.51L570.5 394.12L571.3 393.84L572.1 393.71L572.9 393.80L573.7 394.07L574.5 394.43L575.3 394.78L576.1 395.04L576.9 395.18L577.7 395.27L578.5 395.33L579.3 395.38L580.1 395.44L581.0 395.58L581.8 395.76L582.6 395.85L583.4 395.70L584.2 395.00L585.1 393.89L585.9 393.03L586.7 393.05L587.5 394.63L588.4 397.28L589.2 399.80L590.0 401.02L590.9 400.04L591.7 397.70L592.5 395.35L593.4 394.38L594.1 395.15L595.0 396.86L595.8 398.98L596.6 400.98L597.3 402.34L598.3 403.51L599.2 403.86L600.0 403.01L600.9 399.67L601.7 395.13L602.6 392.78L603.4 394.20L604.2 397.44L605.1 400.74L606.0 402.34L606.7 401.59L607.5 399.60L608.4 397.17L609.2 395.07L610.0 394.11L610.8 395.03L611.7 397.30L612.5 399.70L613.3 401.02L614.2 400.25L615.0 398.27L615.9 397.03L616.7 397.45L617.5 398.53L618.4 399.52L619.2 399.69L620.1 398.35L620.9 396.08L621.7 393.94L622.6 393.05L623.4 394.27L624.2 396.82L625.1 399.32L625.9 400.35L626.7 398.93L627.6 396.01L628.4 393.10L629.2 391.72L630.1 392.76L630.9 395.26L631.7 397.92L632.5 399.42L633.4 398.84L634.3 396.99L635.2 395.70L636.0 395.77L636.8 396.30L637.7 396.86L638.5 397.03L639.4 396.00L640.2 394.52L641.2 394.38L641.9 395.69L642.7 397.90L643.6 400.38L644.4 402.51L645.1 403.67L646.1 402.96L646.9 400.70L647.8 399.02L648.6 398.71L649.5 398.73L650.3 399.07L651.1 399.69L652.0 401.58L652.9 403.99L653.8 405.00L654.6 403.75L655.4 401.31L656.3 398.88L657.1 397.70L657.9 398.54L658.8 400.60L659.6 402.71L660.4 403.67L661.3 402.10L662.2 399.20L663.1 397.70L663.8 398.73L664.7 400.93L665.5 403.17L666.4 404.34L667.2 404.03L668.0 403.00L668.9 401.66L669.7 400.42L670.4 399.69L671.3 399.79L672.2 400.55L673.0 401.02L673.8 400.79L674.7 400.31L675.6 399.85L676.4 399.69L677.3 400.01L678.1 400.70L679.0 401.68L679.8 402.93L680.6 404.56L681.5 405.92L682.3 406.33L683.2 405.23L684.0 403.11L684.8 400.87L685.7 399.42L686.4 399.15L687.3 399.37L688.1 399.81L688.9 400.23L689.6 400.35L690.6 399.99L691.5 399.30L692.3 398.36L693.1 396.80L694.0 394.98L695.0 394.11L695.7 394.54L696.5 395.56L697.3 396.80L698.2 397.86L698.9 398.36L699.8 398.03L700.6 397.09L701.4 395.95L702.3 395.04L703.0 394.47L703.8 393.89L704.7 393.40L705.5 393.08L706.2 393.05L707.1 393.67L708.0 394.83L708.8 395.93L709.6 396.37L710.5 395.33L711.3 393.49L712.2 392.38L713.0 392.60L713.8 393.34L714.7 394.27L715.5 395.04L716.4 395.66L717.2 396.28L718.0 396.78L718.9 397.03L719.7 396.87L720.5 396.41L721.3 395.93L722.2 395.70L723.0 395.97L723.8 396.52L724.6 396.99L725.5 397.03L726.3 396.45L727.0 395.42L727.9 394.32L728.7 393.49L729.5 393.31L730.3 394.12L731.1 395.68L732.0 397.48L732.8 398.98L733.5 399.69L734.5 398.53L735.3 396.10L736.1 394.64L737.0 395.41L737.8 397.15L738.8 398.36L739.6 398.38L740.4 397.99L741.3 397.53L742.1 397.30L743.0 397.63L743.8 398.20L744.8 398.36L745.5 397.80L746.3 396.85L747.1 395.99L748.1 395.70L748.8 396.04L749.6 396.73L750.4 397.60L751.3 398.49L752.1 399.24L752.7 399.69L753.7 399.68L754.5 399.11L755.4 398.62L756.2 398.53L757.0 398.51L757.9 398.48L758.7 398.36L759.5 397.93L760.4 397.31L761.2 396.87L762.0 397.03L762.9 398.32L763.7 400.39L764.6 402.28L765.3 403.01L766.2 401.21L767.0 397.94L768.0 395.70L768.7 395.52L769.5 395.88L770.4 396.53L771.2 397.22L772.0 397.70L772.9 397.97L773.7 398.15L774.5 398.33L775.3 398.62L776.1 399.18L777.0 399.91L777.8 400.53L778.6 400.75L779.4 400.32L780.3 399.46L781.1 398.57L781.9 398.09L782.8 398.19L783.6 398.62L784.4 399.19L785.3 399.69L786.1 400.20L786.9 400.78L787.7 401.22L788.6 401.28L789.4 400.65L790.2 399.52L791.1 398.48L791.9 398.09L792.7 398.83L793.6 400.27L794.4 401.69L795.2 402.34L796.2 401.40L797.0 399.55L797.9 398.36L798.8 398.65L799.6 399.61L800.5 400.35L801.4 400.57L802.2 400.57L803.2 400.35L803.9 400.01L804.6 399.49L805.4 398.94L806.3 398.51L807.2 398.36L807.9 398.51L808.6 398.86L809.4 399.33L810.2 399.83L811.0 400.29L811.8 400.62L812.5 400.75L813.4 400.57L814.2 400.12L814.9 399.52L815.7 398.89L816.5 398.36L817.3 397.92L818.1 397.50L818.9 397.10L819.7 396.72L820.5 396.37L821.3 395.98L822.1 395.56L822.9 395.20L823.7 395.00L824.4 395.04L825.4 396.03L826.2 397.54L827.1 398.36L827.9 397.92L828.7 396.88L829.6 395.86L830.4 395.44L831.2 396.07L832.0 397.34L832.9 398.55L833.7 399.02L834.5 398.44L835.3 397.22L836.1 395.82L836.8 394.71L837.5 394.38L838.3 396.10L838.9 399.07L839.7 401.02L840.5 400.92L841.3 400.04L842.2 398.98L843.0 398.36L843.9 398.34L844.7 398.58L845.5 398.99L846.4 399.42L847.2 400.03L848.0 400.82L848.8 401.48L849.7 401.68L850.5 401.09L851.3 399.95L852.2 398.85L853.0 398.36L853.8 398.74L854.7 399.65L855.5 400.74L856.3 401.68L857.1 402.58L857.9 403.55L858.8 404.25L859.6 404.34L860.4 403.69L861.2 402.50L862.0 401.10L862.9 399.83L863.6 399.02L864.5 398.82L865.3 399.11L866.1 399.52L866.9 399.69L867.7 399.59L868.5 399.41L869.3 399.16L870.1 398.81L870.9 398.36L871.7 397.64L872.5 396.66L873.3 395.66L874.1 394.90L874.9 394.64L875.7 395.12L876.5 396.18L877.3 397.44L878.1 398.51L878.9 399.02L879.7 398.76L880.5 397.96L881.3 396.97L882.1 396.11L882.9 395.70L883.7 395.90L884.5 396.49L885.3 397.25L886.1 397.94L886.9 398.36L887.7 398.44L888.5 398.35L889.3 398.14L890.1 397.90L890.8 397.70L891.8 397.27L892.6 396.82L893.5 396.77L894.2 397.17L895.0 397.89L895.8 398.67L896.7 399.26L897.5 399.42L898.3 398.93L899.0 397.94L899.8 396.80L900.6 395.86L901.5 395.44L902.2 395.71L903.0 396.44L903.8 397.37L904.6 398.28L905.4 398.91L906.1 399.02L907.0 397.85L907.9 395.69L908.6 393.65L909.4 392.78L910.3 393.88L911.1 396.19L912.0 398.53L912.8 399.69L913.7 398.34L914.5 395.60L915.4 394.11L916.2 394.87L917.0 396.59L917.9 398.47L918.7 399.69L919.6 399.88L920.4 399.54L921.2 399.10L922.1 399.02L922.9 399.66L923.6 400.70L924.5 401.56L925.4 401.68L926.1 401.05L926.9 399.91L927.7 398.53L928.5 397.15L929.3 396.04L930.0 395.44L931.0 395.71L931.8 396.81L932.6 398.02L933.3 398.62L934.3 397.96L935.1 396.64L936.0 395.97L936.8 396.60L937.6 397.86L938.5 398.97L939.3 399.17L940.0 397.72L940.7 395.20L941.5 392.86L942.2 391.91L942.9 393.25L943.6 396.03L944.4 398.90L945.2 400.49L945.9 400.29L946.7 399.24L947.5 397.83L948.3 396.54L949.2 395.87L949.9 395.90L950.7 396.24L951.5 396.79L952.3 397.43L953.1 398.04L953.8 398.51L954.6 398.96L955.4 399.42L956.2 399.83L957.0 400.11L957.8 400.22L958.6 400.00L959.4 399.49L960.2 398.92L961.0 398.52L961.7 398.51L962.6 399.37L963.4 400.85L964.2 402.24L965.0 402.86L965.8 402.45L966.5 401.44L967.4 400.21L968.2 399.11L969.0 398.51L969.7 398.61L970.5 399.19L971.2 399.91L972.0 400.45L972.9 400.49L973.6 400.03L974.4 399.22L975.1 398.21L975.9 397.16L976.7 396.21L977.5 395.51L978.2 395.21L979.0 395.52L979.9 396.38L980.7 397.52L981.5 398.65L982.2 399.51L982.8 399.83L983.8 398.46L984.6 395.99L985.5 394.55L986.3 395.05L987.1 396.39L988.0 397.79L988.8 398.51L989.7 397.74L990.5 396.20L991.4 395.47L992.2 396.25L993.0 397.75L993.8 399.20L994.7 399.83L995.5 399.34L996.3 398.21L997.1 396.87L997.9 395.73L998.7 395.21L999.5 395.72L1000.3 396.98L1001.1 398.35L1002.0 399.17L1002.7 399.28L1003.5 399.15L1004.2 398.82L1005.1 398.36L1005.9 397.85L1006.7 397.23L1007.5 396.36L1008.3 395.41L1009.1 394.57L1009.9 394.01L1010.5 393.89L1011.5 395.57L1012.3 398.36L1013.2 399.83L1013.9 398.86L1014.7 396.75L1015.5 394.70L1016.5 393.89L1017.1 394.39L1017.8 395.49L1018.6 396.95L1019.4 398.53L1020.2 399.98L1021.0 401.06L1021.7 401.54L1022.6 401.18L1023.4 400.11L1024.1 398.65L1024.9 397.12L1025.6 395.87L1026.4 395.21L1027.2 395.31L1028.0 396.02L1028.8 397.01L1029.5 397.95L1030.3 398.51L1031.1 398.66L1031.9 398.61L1032.7 398.42L1033.5 398.15L1034.3 397.85L1035.1 397.38L1035.9 396.73L1036.7 396.07L1037.5 395.59L1038.2 395.47L1039.2 396.46L1039.9 398.13L1040.9 399.17L1041.6 399.07L1042.4 398.61L1043.2 397.99L1044.0 397.44L1044.8 397.19L1045.6 397.39L1046.5 397.90L1047.3 398.48L1048.1 398.89L1048.8 398.90L1049.8 397.57L1050.6 395.56L1051.4 394.55L1052.4 397.16L1053.4 399.17L1054.2 396.43L1055.1 392.15L1056.0 389.93L1056.9 392.13L1057.7 396.38L1058.7 399.17L1059.4 399.09L1060.2 398.15L1061.0 396.86L1061.8 395.70L1062.6 395.21L1063.4 395.65L1064.1 396.68L1064.9 397.89L1065.7 398.86L1066.6 399.17L1067.3 398.87L1068.0 398.25L1068.8 397.41L1069.6 396.46L1070.4 395.50L1071.2 394.64L1071.9 393.98L1072.5 393.62L1073.6 393.77L1074.4 394.58L1075.1 395.64L1075.8 396.53L1076.7 397.21L1077.7 397.90L1078.5 398.49L1079.1 398.90"/>
<text x="219.8" y="445.8" class="lab">T6</text>
<text x="249.3" y="445.8" class="lab">G</text>
<path class="tr" d="M268.6 446.88L269.1 446.96L270.0 446.61L270.8 445.42L271.7 443.87L272.6 443.16L273.5 444.25L274.3 446.17L275.3 447.14L276.1 446.40L276.9 444.87L277.8 443.34L278.6 442.62L279.4 443.29L280.2 444.78L281.1 446.26L281.9 446.88L282.6 446.26L283.4 444.91L284.1 443.38L284.9 442.17L285.6 441.83L286.4 442.76L287.1 444.60L287.8 446.76L288.5 448.60L289.2 449.53L290.1 448.90L290.9 447.11L291.7 445.26L292.5 444.48L293.3 445.18L294.0 446.69L294.8 448.47L295.5 449.95L296.3 450.59L297.0 450.17L297.7 449.05L298.4 447.56L299.2 446.06L299.9 444.88L300.7 443.70L301.6 442.58L302.4 441.78L303.2 441.56L304.1 442.61L304.9 444.54L305.8 446.21L306.6 446.97L307.4 447.74L308.2 448.36L309.0 448.66L309.8 448.47L310.7 447.06L311.5 444.72L312.3 442.46L313.1 441.30L313.9 441.92L314.6 443.64L315.4 445.42L316.5 446.21L317.1 445.96L317.8 445.35L318.6 444.50L319.4 443.53L320.2 442.56L321.0 441.72L321.7 441.12L322.4 440.90L323.3 441.28L324.1 442.24L324.9 443.50L325.6 444.76L326.4 445.76L327.1 446.21L327.9 445.80L328.8 444.69L329.6 443.35L330.4 442.24L331.1 441.83L332.0 443.31L332.9 445.87L333.7 447.14L334.6 445.55L335.4 442.68L336.4 440.90L337.1 441.07L337.9 441.89L338.7 442.97L339.5 443.96L340.4 444.48L341.2 444.44L342.0 444.08L342.8 443.55L343.6 443.02L344.3 442.62L345.3 442.36L346.2 442.21L347.0 441.83L347.8 440.61L348.7 439.15L349.7 438.91L350.4 440.06L351.2 442.09L352.0 444.33L352.9 446.14L353.6 446.88L354.5 445.64L355.3 442.92L356.1 440.13L357.0 438.64L357.7 439.06L358.5 440.47L359.3 442.19L360.1 443.57L360.9 443.95L361.8 442.71L362.6 440.29L363.4 437.61L364.2 435.60L364.9 435.19L365.8 437.89L366.6 442.85L367.4 447.89L368.2 450.86L369.1 450.81L369.9 449.02L370.7 446.65L371.6 444.88L372.4 443.86L373.3 443.02L374.1 442.44L374.9 442.23L375.8 442.92L376.7 444.19L377.5 444.88L378.4 444.17L379.3 442.87L380.2 442.23L381.1 443.04L381.9 444.51L382.9 445.55L383.7 445.66L384.5 445.46L385.4 445.14L386.2 444.88L387.1 444.49L388.0 444.10L388.8 444.22L389.7 445.52L390.6 447.34L391.5 448.20L392.3 447.52L393.2 446.09L394.0 444.55L394.8 443.55L395.8 443.31L396.7 443.65L397.5 444.22L398.1 445.94L398.8 446.88L399.6 445.16L400.5 442.54L401.5 441.30L402.2 442.45L403.1 444.77L403.9 447.09L404.8 448.20L405.6 447.37L406.4 445.36L407.2 443.28L408.1 442.23L408.8 442.62L409.6 443.77L410.4 445.18L411.2 446.37L412.1 446.88L412.8 446.54L413.6 445.71L414.4 444.62L415.3 443.51L416.0 442.63L416.7 442.23L417.7 442.71L418.5 443.95L419.2 445.23L420.0 445.81L420.8 445.23L421.6 443.95L422.4 442.71L423.4 442.23L424.1 442.62L424.8 443.46L425.6 444.53L426.5 445.61L427.3 446.47L428.0 446.88L428.9 446.70L429.7 446.06L430.5 445.17L431.3 444.26L432.0 443.55L432.8 442.82L433.6 442.09L434.4 441.59L435.3 441.56L436.0 442.00L436.8 442.81L437.6 443.79L438.5 444.75L439.2 445.49L440.0 445.81L440.9 445.35L441.7 444.20L442.5 442.96L443.3 442.23L444.1 442.22L444.9 442.61L445.8 443.14L446.6 443.55L447.5 443.87L448.3 444.19L449.2 444.42L449.9 444.48L451.0 443.65L451.9 443.16L452.8 444.21L453.7 445.82L454.6 446.88L455.6 446.18L456.6 445.55L457.3 446.71L458.2 448.49L459.2 449.80L459.9 450.07L460.7 450.10L461.6 450.00L462.4 449.86L463.2 449.80L464.1 449.68L464.9 449.50L465.8 449.46L466.5 449.80L467.4 451.54L468.3 453.81L469.2 454.58L470.0 453.04L470.8 450.25L471.7 447.42L472.5 445.81L473.4 446.23L474.2 448.07L475.2 449.80L475.9 450.87L476.7 452.03L477.5 452.84L478.5 452.85L479.2 452.13L480.0 450.86L480.8 449.31L481.6 447.73L482.4 446.38L483.1 445.55L484.1 445.33L485.0 445.82L485.7 446.51L486.4 446.88L487.5 446.18L488.4 445.81L489.2 447.08L490.1 448.91L491.1 449.80L491.9 449.03L492.7 447.44L493.5 445.90L494.4 445.28L495.2 445.94L496.0 447.34L496.8 448.98L497.6 450.32L498.4 450.86L499.3 449.92L500.1 447.91L500.9 445.88L501.7 444.88L502.6 445.46L503.4 446.97L504.3 448.66L505.0 449.80L506.0 450.28L506.8 450.21L507.7 449.80L508.6 448.60L509.4 447.04L510.4 446.61L511.1 447.93L512.0 450.24L512.8 452.46L513.7 453.52L514.5 452.66L515.3 450.63L516.1 448.54L517.0 447.54L517.7 448.06L518.5 449.39L519.4 451.00L520.2 452.33L521.0 452.85L521.8 452.20L522.6 450.74L523.4 449.01L524.2 447.55L525.0 446.88L525.8 447.35L526.6 448.62L527.4 450.15L528.1 451.42L528.9 451.92L529.7 451.30L530.5 449.90L531.3 448.25L532.1 446.85L532.9 446.21L533.7 446.71L534.5 448.01L535.3 449.55L536.1 450.77L536.9 451.12L537.7 450.23L538.5 448.44L539.4 446.35L540.1 444.53L540.9 443.55L541.8 443.99L542.6 445.49L543.4 447.02L544.2 447.54L545.0 446.41L545.9 444.30L546.7 442.15L547.5 440.90L548.4 440.99L549.2 441.85L550.0 442.91L550.9 443.55L551.7 443.64L552.6 443.49L553.4 443.20L554.2 442.89L555.2 441.70L556.2 441.30L556.9 442.44L557.7 444.32L558.6 446.08L559.5 446.88L560.3 446.05L561.1 444.19L561.9 442.35L562.8 441.56L563.5 442.05L564.3 443.17L565.1 444.61L566.0 446.03L566.7 447.12L567.5 447.54L568.4 446.56L569.1 444.44L569.9 442.31L570.8 441.30L571.5 441.67L572.3 442.68L573.1 444.03L574.0 445.38L574.8 446.44L575.4 446.88L576.4 445.47L577.2 442.85L578.1 441.56L578.9 442.65L579.7 444.84L580.6 447.06L581.4 448.20L582.2 447.75L583.0 446.35L583.8 444.72L584.7 443.55L585.4 443.17L586.2 442.92L587.1 442.77L587.9 442.69L588.7 442.65L589.4 442.62L590.3 442.64L591.2 442.77L591.9 442.95L592.7 443.16L593.6 443.61L594.5 444.12L595.4 444.22L596.3 443.46L597.2 442.29L598.0 441.56L598.9 442.16L600.0 442.89L600.7 442.70L601.5 442.30L602.4 441.83L603.2 441.44L604.0 441.30L604.9 441.91L605.7 442.91L606.6 443.16L607.4 442.16L608.2 440.48L609.0 438.91L610.0 438.24L610.7 438.65L611.5 439.61L612.3 440.87L613.1 442.12L613.9 443.11L614.6 443.55L615.5 442.97L616.4 441.50L617.2 439.97L617.9 439.17L618.9 439.96L619.7 441.58L620.6 442.23L621.4 440.48L622.3 437.75L623.2 436.52L624.0 437.73L624.9 440.13L625.8 442.66L626.6 444.22L627.5 444.05L628.4 442.81L629.2 442.23L630.1 443.33L630.9 445.10L631.9 446.21L632.6 446.07L633.4 445.42L634.3 444.67L635.2 444.22L635.9 444.20L636.7 444.34L637.5 444.57L638.4 444.78L639.2 444.88L640.0 444.79L640.9 444.55L641.7 444.32L642.5 444.25L643.2 444.48L644.3 446.50L645.1 449.27L646.0 452.62L647.1 454.84L647.8 454.55L648.6 453.63L649.4 452.44L650.3 451.31L651.1 450.59L651.9 450.43L652.7 450.59L653.5 450.86L654.3 451.02L655.1 450.86L655.9 450.30L656.7 449.42L657.5 448.42L658.3 447.48L659.1 446.82L659.8 446.61L660.7 447.31L661.5 448.80L662.3 450.52L663.1 451.92L664.0 453.36L664.8 454.56L665.7 455.11L666.5 454.90L667.3 454.30L668.2 453.55L669.0 452.86L669.7 452.45L670.8 453.04L671.7 453.25L672.5 451.59L673.4 449.21L674.4 447.54L675.2 447.22L676.0 447.36L676.8 447.77L677.7 448.20L678.5 448.67L679.3 449.26L680.2 449.92L681.0 450.59L681.9 451.48L682.7 452.54L683.5 453.35L684.3 453.52L685.2 452.07L686.1 449.71L687.0 448.20L687.8 448.36L688.6 449.17L689.5 450.11L690.3 450.59L691.2 450.21L692.1 449.37L693.0 448.87L693.8 449.05L694.6 449.51L695.5 449.98L696.3 450.20L697.2 449.82L698.1 449.14L698.9 448.87L699.8 449.52L700.7 450.57L701.6 451.12L702.4 450.67L703.3 449.72L704.2 448.87L705.0 448.54L705.7 448.25L706.6 448.00L707.4 447.76L708.2 447.54L709.0 447.25L709.9 446.90L710.7 446.61L711.5 446.47L712.2 446.61L713.1 447.45L713.9 448.79L714.7 450.04L715.5 450.59L716.4 450.15L717.2 449.08L718.0 447.77L718.9 446.61L719.7 445.51L720.5 444.32L721.3 443.35L722.2 442.89L722.9 443.19L723.7 443.99L724.5 444.94L725.4 445.67L726.2 445.81L727.0 445.10L727.8 443.77L728.6 442.23L729.4 440.92L730.1 440.23L731.0 440.55L731.8 441.63L732.6 442.84L733.5 443.55L734.2 443.62L735.0 443.47L735.8 443.14L736.6 442.71L737.5 442.23L738.2 441.63L739.0 440.79L739.8 439.88L740.6 439.09L741.4 438.62L742.1 438.64L743.0 439.70L743.8 441.63L744.6 443.79L745.3 445.54L746.1 446.21L746.9 444.73L747.7 441.67L748.5 438.79L749.4 437.84L750.1 439.07L750.9 441.51L751.7 444.56L752.6 447.59L753.3 449.98L754.1 451.12L755.0 449.96L755.8 446.76L756.6 443.35L757.4 441.56L758.2 442.37L759.1 444.63L759.9 447.02L760.7 448.20L761.6 446.97L762.3 444.39L763.4 442.62L764.0 442.55L764.8 442.83L765.7 443.32L766.5 443.86L767.3 444.30L768.0 444.48L769.0 443.94L769.8 442.98L770.6 442.62L771.4 443.34L772.3 444.61L773.1 445.78L774.0 446.21L774.8 445.25L775.5 443.40L776.4 441.73L777.3 441.30L778.0 442.23L778.7 444.00L779.5 446.16L780.3 448.28L781.1 449.90L781.9 450.59L782.7 450.07L783.5 448.64L784.3 446.72L785.1 444.73L785.8 443.09L786.6 442.23L787.4 442.46L788.3 443.58L789.1 445.02L789.8 446.22L790.6 446.61L791.4 445.48L792.1 443.32L792.9 441.21L793.9 440.23L794.6 440.54L795.3 441.37L796.1 442.52L797.0 443.79L797.8 444.97L798.5 445.84L799.2 446.21L800.2 445.44L801.0 443.62L801.7 441.77L802.5 440.90L803.3 441.67L804.1 443.41L804.9 445.13L805.8 445.81L806.5 445.31L807.3 444.20L808.1 442.79L808.9 441.36L809.7 440.19L810.5 439.57L811.3 439.72L812.2 440.51L813.0 441.55L813.7 442.47L814.5 442.89L815.3 442.46L816.1 441.44L816.9 440.42L817.8 439.97L818.6 440.22L819.4 440.83L820.2 441.63L821.0 442.45L821.8 443.16L822.6 443.98L823.4 444.85L824.2 445.53L825.1 445.81L825.9 445.56L826.7 444.94L827.5 444.19L828.3 443.52L829.1 443.16L830.0 443.29L830.8 443.80L831.6 444.31L832.4 444.48L833.3 443.74L834.2 442.60L835.1 442.23L835.9 443.64L836.8 445.83L837.7 446.88L838.6 445.60L839.5 443.18L840.4 441.30L841.4 440.25L842.4 440.50L843.2 443.16L844.4 445.28L845.0 444.85L845.7 443.81L846.5 442.49L847.4 441.24L848.2 440.37L849.0 440.23L849.8 441.10L850.6 442.75L851.4 444.79L852.2 446.83L852.9 448.45L853.7 449.27L854.5 448.94L855.3 447.66L856.1 445.97L856.9 444.42L857.6 443.55L858.4 443.51L859.3 443.93L860.1 444.59L860.9 445.29L861.6 445.81L862.5 446.17L863.3 446.43L864.1 446.71L864.9 447.14L865.8 447.99L866.6 449.12L867.4 450.03L868.3 450.20L869.0 449.39L869.9 447.90L870.7 446.21L871.5 444.82L872.2 444.22L873.2 445.73L873.9 448.53L874.9 449.80L875.6 449.05L876.4 447.53L877.2 445.63L878.0 443.74L878.8 442.25L879.6 441.56L880.5 442.47L881.3 444.76L882.0 447.04L882.9 447.94L883.6 446.92L884.4 444.79L885.2 442.32L886.0 440.32L886.9 439.57L887.6 440.32L888.4 442.03L889.2 444.25L890.0 446.51L890.8 448.33L891.5 449.27L892.4 448.83L893.2 447.12L893.9 445.06L894.8 443.55L895.5 442.96L896.3 442.44L897.2 442.04L898.0 441.77L898.8 441.69L899.5 441.83L900.3 442.78L901.1 444.38L901.8 445.91L902.8 446.61L903.4 446.45L904.2 445.97L904.9 445.29L905.7 444.49L906.6 443.69L907.4 442.98L908.1 442.46L908.8 442.23L909.7 442.47L910.5 443.21L911.3 444.18L912.0 445.13L912.8 445.81L913.6 446.48L914.4 447.11L915.2 447.35L916.1 446.88L916.8 445.47L917.6 443.21L918.4 440.80L919.3 438.92L920.1 438.24L920.9 439.33L921.7 441.72L922.5 444.59L923.3 447.12L924.0 448.47L924.9 448.02L925.7 446.22L926.6 444.21L927.4 443.16L928.2 443.53L929.0 444.67L929.9 445.98L930.7 446.88L931.5 447.19L932.4 447.24L933.3 447.17L934.0 447.14L935.0 446.96L936.0 447.14L936.7 447.57L937.5 448.18L938.3 448.89L939.2 449.64L939.9 450.36L940.8 451.43L941.6 452.65L942.4 453.62L943.2 453.92L944.0 453.42L944.8 452.36L945.6 451.08L946.4 449.87L947.2 449.04L948.1 448.53L948.9 448.29L949.7 448.33L950.5 448.65L951.3 449.34L952.2 450.38L953.1 451.54L953.8 452.60L954.8 454.61L955.8 456.17L956.5 456.54L957.4 456.71L958.3 456.70L959.1 456.56L960.0 456.34L960.8 455.85L961.7 454.58L962.4 452.40L963.1 449.37L963.8 446.71L964.6 445.61L965.3 446.65L966.0 449.03L966.8 451.86L967.5 454.23L968.3 455.24L969.1 454.37L969.8 452.21L970.6 449.56L971.4 447.23L972.3 446.01L973.0 446.09L973.7 446.75L974.5 447.77L975.3 448.95L976.1 450.07L976.8 450.92L977.5 451.28L978.4 450.84L979.3 449.69L980.0 448.30L980.8 447.13L981.5 446.67L982.4 447.46L983.2 449.16L984.0 450.86L984.8 451.68L985.6 451.10L986.4 449.68L987.2 448.17L988.1 447.33L988.9 447.47L989.7 448.09L990.5 448.87L991.3 449.47L992.1 449.57L992.9 448.59L993.7 446.88L994.5 445.30L995.4 444.69L996.2 445.75L997.0 447.87L997.8 449.95L998.7 450.89L999.4 450.31L1000.2 448.91L1000.9 447.17L1001.8 445.60L1002.6 444.69L1003.4 444.55L1004.2 444.76L1005.0 445.19L1005.8 445.73L1006.6 446.27L1007.2 446.67L1008.2 447.45L1009.0 448.19L1009.9 448.25L1010.6 447.35L1011.4 445.84L1012.3 444.42L1013.2 443.76L1013.9 444.24L1014.7 445.40L1015.6 446.73L1016.4 447.76L1017.1 447.99L1017.9 446.54L1018.7 443.93L1019.4 441.43L1020.4 440.33L1021.0 440.67L1021.7 441.55L1022.5 442.78L1023.3 444.20L1024.1 445.63L1024.9 446.90L1025.6 447.83L1026.4 448.25L1027.2 448.02L1028.0 447.24L1028.8 446.10L1029.6 444.80L1030.3 443.56L1031.0 442.57L1031.6 442.05L1032.7 442.64L1033.5 444.25L1034.3 445.08L1035.1 444.05L1036.0 442.24L1036.9 441.12L1037.7 441.35L1038.6 442.12L1039.4 442.96L1040.2 443.37L1041.1 442.79L1041.9 441.75L1042.9 441.39L1043.5 441.85L1044.3 442.70L1045.1 443.72L1046.0 444.70L1046.8 445.40L1047.5 445.61L1048.4 444.71L1049.2 442.90L1050.0 441.06L1050.8 440.07L1051.6 440.78L1052.4 442.48L1053.4 443.37L1054.1 443.00L1054.8 442.18L1055.6 441.16L1056.5 440.19L1057.3 439.52L1058.0 439.41L1058.9 440.27L1059.7 441.90L1060.5 443.80L1061.2 445.47L1062.0 446.40L1062.9 446.19L1063.7 445.08L1064.5 443.87L1065.3 443.37L1066.1 444.07L1066.9 445.45L1067.8 446.78L1068.6 447.33L1069.4 446.66L1070.2 445.25L1071.1 443.72L1071.9 442.71L1072.7 442.40L1073.6 442.44L1074.4 442.69L1075.2 442.97L1076.3 443.79L1077.2 444.69L1078.3 445.26L1079.1 445.61"/>
<text x="220.1" y="493.8" class="lab">T5</text>
<text x="249.5" y="493.8" class="lab">G</text>
<path class="tr" d="M269.3 488.05L270.1 489.29L271.3 491.37L272.0 493.17L272.9 495.48L273.8 497.39L274.6 498.01L275.4 496.42L276.3 493.32L277.1 490.24L277.9 488.71L278.8 489.77L279.6 492.38L280.5 494.99L281.3 496.02L282.1 493.44L283.0 489.00L283.9 486.45L284.6 487.13L285.4 489.04L286.2 491.36L287.1 493.29L287.9 494.02L288.7 493.02L289.5 490.83L290.3 488.24L291.1 486.07L291.9 485.12L292.7 486.19L293.5 488.73L294.2 491.52L295.2 493.36L295.9 493.80L296.6 494.04L297.4 494.10L298.2 493.99L299.0 493.71L299.8 493.27L300.5 492.70L301.4 491.10L302.2 488.65L302.9 486.17L303.7 484.46L304.5 484.33L305.3 486.17L306.0 489.60L306.9 493.74L307.7 497.76L308.4 500.79L309.1 501.99L310.1 499.39L310.9 493.58L311.6 487.56L312.5 484.33L313.2 484.97L314.1 487.49L314.9 490.79L315.7 493.78L316.5 495.35L317.4 494.32L318.2 491.41L319.1 489.38L319.8 489.25L320.7 489.55L321.5 490.11L322.4 490.77L323.1 491.37L324.1 492.57L324.9 493.89L325.8 494.42L326.6 493.38L327.5 491.56L328.4 490.44L329.2 490.68L330.1 491.48L330.9 492.33L331.7 492.70L332.7 491.95L333.6 490.66L334.4 490.04L335.3 491.72L336.4 493.36L337.0 493.10L337.8 492.41L338.6 491.56L339.4 490.82L340.4 490.44L341.1 490.52L341.8 490.84L342.6 491.29L343.5 491.77L344.3 492.17L345.0 492.38L345.7 492.30L346.7 491.13L347.5 489.19L348.3 487.41L349.0 486.72L349.9 488.52L350.6 491.71L351.6 493.62L352.3 493.48L353.1 492.79L353.9 491.78L354.7 490.68L355.5 489.72L356.3 489.11L357.2 488.80L358.0 488.71L358.8 488.79L359.6 489.02L360.3 489.38L361.2 490.77L362.1 492.55L362.9 493.09L363.7 491.52L364.5 488.75L365.3 486.29L366.3 485.66L367.0 486.96L367.8 489.43L368.6 492.49L369.4 495.55L370.2 498.03L370.9 499.34L371.8 498.83L372.6 496.58L373.4 493.88L374.2 492.03L375.0 491.31L375.8 490.81L376.6 490.60L377.4 490.76L378.2 491.37L379.0 492.92L379.8 495.36L380.6 497.95L381.4 499.96L382.2 500.66L383.0 499.42L383.8 496.71L384.5 493.49L385.3 490.73L386.2 489.38L386.9 489.75L387.7 491.12L388.5 493.03L389.3 495.01L390.1 496.60L390.8 497.34L391.7 496.84L392.5 495.35L393.3 493.52L394.0 491.98L394.8 491.37L395.6 492.07L396.4 493.66L397.3 495.56L398.0 497.20L398.8 498.01L399.7 497.45L400.5 495.89L401.3 494.23L402.1 493.36L402.9 493.82L403.7 495.02L404.6 496.22L405.4 496.68L406.2 496.13L407.0 495.01L407.8 493.70L408.7 492.58L409.4 492.03L410.3 492.49L411.1 493.71L411.9 494.91L412.7 495.35L413.5 494.76L414.3 493.57L415.1 492.19L415.9 491.01L416.7 490.44L417.5 490.64L418.3 491.34L419.1 492.30L419.9 493.27L420.7 494.02L421.5 494.62L422.3 495.22L423.1 495.73L423.9 496.03L424.7 496.02L425.6 495.35L426.4 494.16L427.2 492.91L428.0 492.03L428.8 491.72L429.6 491.60L430.4 491.61L431.2 491.68L432.0 491.77L432.9 491.98L433.7 492.34L434.5 492.64L435.3 492.70L436.2 492.10L437.1 491.18L438.0 490.70L438.9 491.29L439.7 492.33L440.6 492.70L441.5 491.56L442.3 489.77L443.3 488.71L444.0 488.87L444.8 489.44L445.6 490.21L446.4 490.93L447.3 491.37L448.1 491.45L448.9 491.33L449.7 491.12L450.5 490.96L451.2 490.97L452.0 491.08L452.8 491.21L453.6 491.45L454.4 491.92L455.2 492.70L456.1 494.10L456.9 496.07L457.7 498.13L458.5 499.82L459.2 500.66L460.2 499.55L461.0 496.96L461.9 495.35L462.7 495.84L463.5 497.16L464.3 498.48L465.2 498.94L466.0 498.01L466.8 496.25L467.6 494.44L468.5 493.36L469.3 493.34L470.1 493.80L470.9 494.48L471.7 495.09L472.5 495.35L473.4 495.02L474.2 494.31L475.0 493.62L475.8 493.36L476.6 493.82L477.4 494.73L478.3 495.62L479.1 496.02L479.9 495.82L480.7 495.34L481.5 494.68L482.3 493.98L483.1 493.36L483.9 492.82L484.6 492.17L485.4 491.52L486.2 490.98L487.0 490.67L487.8 490.70L488.6 491.33L489.4 492.44L490.2 493.81L491.0 495.17L491.8 496.28L492.7 497.54L493.5 498.80L494.3 499.66L495.1 499.73L495.9 497.71L496.7 494.52L497.7 492.70L498.4 492.98L499.2 493.92L500.0 495.20L500.9 496.52L501.7 497.56L502.4 498.01L503.3 497.30L504.1 495.64L504.9 494.01L505.7 493.36L506.5 494.05L507.3 495.51L508.2 497.22L509.0 498.67L509.7 499.34L510.6 498.16L511.4 495.76L512.3 494.42L513.1 494.84L513.8 495.91L514.7 497.21L515.5 498.36L516.3 498.94L517.1 498.77L517.9 498.13L518.7 497.28L519.5 496.49L520.3 496.02L521.1 495.98L521.9 496.21L522.8 496.53L523.5 496.74L524.3 496.68L525.2 495.97L526.0 494.85L526.8 493.82L527.6 493.36L528.5 493.85L529.3 494.95L530.2 496.09L530.9 496.68L531.8 496.20L532.6 495.10L533.6 494.42L534.3 494.63L535.1 495.18L535.9 495.79L536.8 496.16L537.6 496.02L538.4 495.08L539.2 493.54L540.0 491.80L540.8 490.28L541.6 489.38L542.4 489.22L543.2 489.55L544.0 490.16L544.8 490.83L545.5 491.37L546.4 492.01L547.3 492.74L548.1 493.28L548.9 493.36L549.8 492.42L550.6 490.83L551.5 489.38L552.3 488.37L553.1 487.30L554.0 486.60L554.8 486.72L555.7 488.34L556.5 491.04L557.3 493.57L558.2 494.69L559.0 493.54L559.8 490.95L560.7 488.24L561.5 486.72L562.3 486.95L563.1 488.17L563.9 489.66L564.8 490.70L565.6 491.08L566.4 491.30L567.2 491.40L568.0 491.41L568.8 491.37L569.6 491.12L570.4 490.64L571.2 490.16L572.0 489.89L572.8 490.04L573.7 491.24L574.5 493.17L575.3 494.96L576.1 495.75L576.9 494.87L577.8 492.92L578.6 490.96L579.4 490.04L580.3 491.32L581.2 493.83L582.1 495.35L582.9 494.81L583.8 493.28L584.7 491.77L585.5 490.66L586.3 489.42L587.2 488.48L588.0 488.31L588.9 489.43L589.7 491.45L590.5 493.50L591.4 494.69L592.2 494.53L593.1 493.59L593.9 492.53L594.7 492.03L595.6 492.50L596.5 493.56L597.3 494.69L598.2 496.30L599.0 497.98L600.0 498.01L600.7 496.32L601.5 493.48L602.4 490.32L603.2 487.69L604.0 486.45L604.9 487.57L605.7 490.51L606.5 493.65L607.3 495.35L608.1 494.81L609.0 493.03L609.8 491.07L610.6 490.04L611.4 490.42L612.2 491.56L613.1 492.84L613.9 493.62L614.7 493.71L615.5 493.53L616.4 493.22L617.2 492.89L617.9 492.70L618.9 492.81L619.7 493.02L620.6 492.70L621.4 491.16L622.3 489.07L623.2 487.78L624.0 487.79L624.9 488.31L625.8 489.14L626.6 490.04L627.5 491.73L628.4 493.69L629.2 494.69L630.1 493.81L631.0 491.98L631.9 490.70L632.8 490.48L633.6 490.81L634.5 491.77L635.3 494.24L636.1 497.34L637.2 498.41L637.8 497.24L638.6 494.98L639.4 492.21L640.2 489.52L641.0 487.50L641.8 486.72L642.6 487.55L643.4 489.61L644.2 492.32L645.0 495.15L645.7 497.54L646.5 498.94L647.3 499.10L648.1 498.25L648.9 496.95L649.6 495.79L650.5 495.35L651.2 495.80L652.0 496.77L652.8 497.97L653.6 499.10L654.4 499.88L655.1 500.00L656.0 498.46L656.9 495.66L657.6 492.97L658.4 491.77L659.3 492.83L660.1 495.30L660.9 498.06L661.8 500.00L662.6 500.88L663.4 501.28L664.2 501.30L665.1 501.06L665.9 500.26L666.7 498.94L667.6 497.75L668.4 497.34L669.2 498.36L670.1 500.31L670.9 502.10L671.7 502.66L672.5 501.20L673.3 498.46L674.2 495.67L675.0 494.02L675.8 493.93L676.6 494.52L677.5 495.49L678.3 496.53L679.0 497.34L680.0 498.25L680.8 499.09L681.7 500.00L682.4 501.03L683.2 502.28L684.1 503.22L685.0 503.32L685.7 502.66L686.5 501.48L687.3 500.00L688.1 498.45L688.9 497.05L689.6 496.02L690.6 495.18L691.4 494.77L692.2 494.49L693.0 494.02L693.8 493.02L694.6 491.74L695.4 490.77L696.3 490.70L697.0 491.83L697.8 493.84L698.6 496.09L699.5 497.92L700.3 498.67L701.1 497.96L701.9 496.22L702.7 494.03L703.5 492.00L704.2 490.70L705.1 490.33L705.9 490.47L706.7 490.88L707.5 491.27L708.2 491.37L709.1 490.95L709.9 490.25L710.7 489.61L711.6 489.38L712.4 489.81L713.3 490.68L714.1 491.56L714.9 492.03L715.8 491.65L716.6 490.79L717.5 490.44L718.3 491.02L719.1 492.06L720.0 493.03L720.9 493.36L721.7 492.59L722.5 491.11L723.3 489.70L724.2 489.11L725.0 489.99L725.7 491.77L726.6 493.46L727.5 494.02L728.2 493.32L728.9 491.89L729.7 490.11L730.5 488.37L731.4 487.02L732.1 486.45L732.9 486.86L733.7 487.99L734.5 489.52L735.2 491.13L736.0 492.52L736.8 493.36L737.6 493.63L738.4 493.58L739.2 493.29L739.9 492.88L740.7 492.42L741.4 492.03L742.3 491.49L743.1 490.78L743.9 490.07L744.6 489.55L745.4 489.38L746.2 489.70L747.0 490.40L747.9 491.27L748.7 492.11L749.4 492.70L750.3 492.95L751.1 492.94L751.9 492.98L752.7 493.36L753.5 494.38L754.3 495.81L755.2 497.17L756.0 498.01L756.8 498.16L757.6 498.00L758.4 497.64L759.2 497.17L760.0 496.68L760.8 496.03L761.6 495.14L762.4 494.26L763.2 493.59L764.0 493.36L764.8 493.80L765.7 494.75L766.6 495.88L767.3 496.86L768.0 497.34L769.0 496.35L770.0 494.69L770.7 494.27L771.5 493.86L772.3 493.52L773.2 493.33L774.0 493.36L774.8 493.82L775.7 494.63L776.5 495.54L777.3 496.28L778.1 496.88L778.9 497.44L779.8 497.85L780.6 498.01L781.4 497.66L782.3 496.94L783.1 496.32L783.9 496.28L784.7 497.41L785.5 499.29L786.3 500.93L787.2 501.33L787.9 500.61L788.7 499.25L789.5 497.51L790.3 495.65L791.1 493.90L791.9 492.52L792.6 491.77L793.5 491.84L794.3 492.77L795.1 494.12L795.9 495.44L796.5 496.28L797.5 496.75L798.4 496.71L799.2 496.28L800.1 495.10L801.0 493.51L801.9 492.70L802.7 493.56L803.5 495.19L804.5 496.02L805.2 495.60L805.9 494.69L806.7 493.59L807.5 492.61L808.5 492.03L809.1 491.97L809.9 492.05L810.6 492.23L811.5 492.48L812.3 492.75L813.1 493.02L813.8 493.23L814.5 493.36L815.1 493.36L816.2 492.88L817.0 492.03L817.7 491.18L818.5 490.70L819.3 490.82L820.2 491.28L821.0 491.79L821.8 492.03L822.7 491.66L823.5 491.00L824.4 490.70L825.2 491.08L826.1 491.78L826.9 492.45L827.8 492.70L828.6 492.19L829.3 491.22L830.2 490.32L831.1 490.04L831.8 490.46L832.6 491.28L833.4 492.30L834.2 493.30L835.0 494.08L835.7 494.42L836.6 493.97L837.4 492.84L838.2 491.56L839.0 490.70L839.8 490.40L840.7 490.24L841.5 490.24L842.3 490.39L843.0 490.70L844.0 491.98L844.8 493.70L845.7 494.69L846.4 494.35L847.2 493.40L848.1 492.43L849.0 492.03L849.7 492.28L850.5 492.84L851.4 493.57L852.2 494.32L853.0 494.96L853.7 495.35L854.7 495.24L855.5 494.69L856.3 494.69L857.1 495.57L857.9 496.95L858.8 498.26L859.6 498.94L860.5 498.60L861.3 497.62L862.2 496.57L863.0 496.02L863.9 496.56L864.7 497.65L865.6 498.01L866.4 497.14L867.2 495.64L868.1 494.16L868.9 493.36L869.7 493.67L870.5 494.65L871.4 495.65L872.2 496.02L873.0 495.61L873.8 494.79L874.6 493.77L875.4 492.78L876.2 492.03L877.0 491.49L877.8 491.00L878.6 490.64L879.4 490.43L880.2 490.44L881.0 490.85L881.8 491.64L882.7 492.52L883.4 493.19L884.2 493.36L885.1 492.43L885.9 490.72L886.7 489.16L887.5 488.71L888.3 490.18L889.1 492.88L890.0 495.48L890.8 496.68L891.6 495.94L892.4 494.11L893.3 491.89L894.1 489.99L894.8 489.11L895.7 490.05L896.5 492.31L897.3 494.53L898.1 495.35L899.0 493.82L899.8 490.86L900.6 487.92L901.5 486.45L902.2 486.98L903.0 488.54L903.9 490.53L904.7 492.34L905.5 493.36L906.3 493.34L907.2 492.55L908.0 491.50L908.8 490.70L909.6 490.32L910.4 490.06L911.3 489.79L912.1 489.38L912.9 488.46L913.7 487.23L914.5 486.34L915.4 486.45L916.2 487.80L917.0 490.09L917.8 492.66L918.6 494.86L919.4 496.02L920.2 495.70L921.0 494.34L921.8 492.60L922.6 491.17L923.4 490.70L924.2 492.05L925.0 494.64L925.8 497.18L926.7 498.41L927.5 497.86L928.3 496.39L929.1 494.52L929.9 492.80L930.7 491.77L931.6 491.57L932.5 492.00L933.3 492.71L934.0 493.36L934.9 494.55L936.0 495.75L936.6 496.13L937.4 496.53L938.2 496.92L939.1 497.24L939.9 497.44L940.6 497.47L941.5 497.08L942.3 496.34L943.1 495.50L943.9 494.83L944.7 494.28L945.5 493.75L946.3 493.43L947.2 493.51L948.0 494.00L948.8 494.84L949.6 495.82L950.4 496.76L951.2 497.47L952.0 497.92L952.9 498.12L953.7 498.33L954.5 498.78L955.4 500.08L956.2 501.67L957.1 502.74L957.8 503.01L958.6 502.99L959.5 502.68L960.4 502.08L961.1 501.39L961.8 500.42L962.6 499.32L963.4 498.25L964.2 497.36L965.0 496.81L965.8 496.65L966.5 496.77L967.3 497.07L968.0 497.46L968.8 497.84L969.6 498.12L970.4 498.34L971.1 498.62L971.9 498.90L972.7 499.15L973.5 499.31L974.2 499.34L974.9 499.18L975.9 498.27L976.6 496.81L977.4 495.35L978.2 494.43L979.0 494.26L979.8 494.39L980.6 494.72L981.4 495.12L982.2 495.49L983.1 496.35L984.0 497.31L984.8 497.47L985.7 495.94L986.6 493.60L987.4 492.19L988.3 492.86L989.2 494.45L990.1 495.22L990.9 493.99L991.8 491.93L992.7 490.87L993.5 491.58L994.4 493.11L995.2 494.68L996.0 495.49L996.9 494.83L997.7 493.29L998.7 492.19L999.4 492.10L1000.1 492.26L1001.0 492.54L1001.8 492.78L1002.6 492.85L1003.4 492.66L1004.2 492.30L1005.0 491.91L1005.8 491.61L1006.6 491.53L1007.5 491.98L1008.3 492.82L1009.1 493.51L1009.9 493.51L1010.8 491.60L1011.7 488.79L1012.5 487.31L1013.4 488.82L1014.2 491.67L1015.1 493.11L1015.9 492.03L1016.8 489.80L1017.7 487.50L1018.4 486.25L1019.3 486.65L1020.2 488.24L1021.1 490.21L1021.8 492.10L1022.7 494.46L1023.5 496.50L1024.4 497.47L1025.1 496.97L1025.9 495.60L1026.8 493.87L1027.6 492.34L1028.3 491.53L1029.2 491.87L1030.1 493.05L1030.9 494.30L1031.6 494.83L1032.5 493.82L1033.4 492.02L1034.3 490.87L1035.1 491.05L1035.9 491.78L1036.7 492.54L1037.6 492.85L1038.4 492.40L1039.2 491.53L1040.0 490.65L1040.9 490.21L1041.6 490.35L1042.4 490.79L1043.3 491.36L1044.1 491.89L1044.8 492.19L1045.7 492.25L1046.5 492.13L1047.3 491.88L1048.1 491.53L1048.9 491.07L1049.8 490.41L1050.6 489.75L1051.4 489.27L1052.1 489.15L1053.2 491.47L1054.1 492.85L1054.9 489.68L1055.7 484.99L1056.7 482.95L1057.4 484.54L1058.2 487.80L1059.0 491.64L1059.9 495.01L1060.7 496.81L1061.5 496.48L1062.2 494.76L1063.0 492.47L1063.8 490.45L1064.6 489.55L1065.4 490.18L1066.2 491.79L1067.0 493.74L1067.8 495.41L1068.6 496.15L1069.4 495.50L1070.2 493.84L1071.0 491.85L1071.9 490.21L1072.7 489.20L1073.5 488.20L1074.4 487.31L1075.2 486.63L1075.8 486.25L1077.0 486.88L1077.8 488.23L1078.6 489.21L1079.1 489.94"/>
<text x="220.3" y="541" class="lab">Pz</text>
<text x="250.0" y="541" class="lab">G</text>
<path class="tr" d="M269.3 539.48L269.8 540.46L270.6 541.21L271.4 540.79L272.4 539.98L273.3 539.48L274.2 539.73L275.1 540.29L275.9 540.55L276.8 540.10L277.7 539.37L278.6 538.95L279.5 539.28L280.4 539.93L281.3 540.28L282.1 539.98L283.0 539.38L283.9 538.95L284.8 538.86L285.7 538.94L286.6 539.22L287.4 539.84L288.3 540.66L289.2 541.21L290.0 541.25L290.8 541.07L291.7 540.87L292.5 540.81L293.3 540.97L294.1 541.23L295.0 541.53L295.8 541.78L296.5 541.88L297.4 541.75L298.3 541.44L299.1 541.09L299.9 540.81L300.8 540.48L301.6 540.20L302.5 540.28L303.4 541.21L304.2 542.48L305.2 542.94L306.0 542.05L306.8 540.44L307.7 538.88L308.5 538.16L309.4 539.15L310.2 541.16L311.1 542.54L311.9 542.57L312.8 542.12L313.6 541.56L314.5 541.21L315.3 541.19L316.1 541.31L317.0 541.48L317.8 541.61L318.6 541.71L319.4 541.81L320.2 541.88L321.1 541.88L321.9 541.78L322.7 541.61L323.5 541.43L324.3 541.27L325.1 541.21L325.9 541.29L326.7 541.48L327.5 541.71L328.4 541.88L329.2 541.96L330.0 542.04L330.8 542.09L331.6 542.13L332.4 542.14L333.2 542.19L334.1 542.28L334.9 542.32L335.7 542.22L336.4 541.88L337.3 540.35L338.0 538.33L338.8 537.23L339.4 537.65L340.2 538.79L340.9 540.04L341.7 540.81L342.5 540.84L343.4 540.49L344.2 540.06L345.0 539.88L345.9 540.18L346.8 540.73L347.7 541.21L348.5 541.53L349.3 541.86L350.2 542.03L351.0 541.88L351.9 540.66L352.7 538.96L353.6 538.16L354.4 538.87L355.3 540.34L356.1 541.81L357.0 542.54L357.8 542.02L358.6 540.75L359.4 539.49L360.3 538.95L361.0 539.44L361.9 540.50L362.7 541.74L363.5 542.77L364.3 543.20L365.2 542.57L366.0 541.16L366.8 539.71L367.6 538.95L368.5 539.58L369.4 541.00L370.2 541.88L371.1 541.40L372.0 540.38L372.9 539.88L373.8 540.61L374.7 541.85L375.6 542.54L376.4 542.00L377.3 540.91L378.2 540.28L379.0 540.53L379.8 541.15L380.7 541.80L381.5 542.14L382.4 541.94L383.2 541.43L384.1 540.94L384.9 540.81L385.8 541.58L386.6 542.80L387.5 543.47L388.3 543.12L389.1 542.30L389.9 541.50L390.8 541.21L391.6 541.63L392.4 542.49L393.3 543.46L394.1 544.25L394.8 544.53L395.8 543.57L396.6 541.80L397.5 540.55L398.2 540.43L399.0 540.71L399.9 541.08L400.8 541.21L401.6 541.01L402.4 540.63L403.2 540.22L404.0 539.93L404.8 539.88L405.6 540.42L406.4 541.38L407.2 542.25L408.1 542.54L408.8 542.07L409.6 541.14L410.5 540.04L411.3 539.08L412.1 538.55L412.9 538.59L413.7 538.99L414.5 539.56L415.3 540.14L416.1 540.55L416.9 540.76L417.7 540.90L418.5 540.99L419.2 541.08L420.0 541.21L420.8 541.40L421.6 541.63L422.4 541.86L423.2 542.04L424.0 542.14L424.8 542.12L425.6 542.00L426.4 541.83L427.2 541.69L428.0 541.61L428.8 541.62L429.6 541.67L430.4 541.75L431.2 541.83L432.0 541.88L432.8 541.93L433.7 542.01L434.5 542.06L435.3 542.03L436.0 541.88L437.0 541.07L437.8 540.00L438.6 539.48L439.5 540.14L440.4 541.36L441.3 542.14L442.1 542.03L442.9 541.58L443.8 541.07L444.6 540.81L445.5 541.09L446.4 541.63L447.3 541.88L448.1 541.51L449.0 540.85L449.9 540.28L450.7 539.95L451.6 539.62L452.4 539.42L453.2 539.48L454.2 540.23L455.0 541.36L455.9 542.14L456.7 542.24L457.5 542.11L458.4 541.85L459.2 541.61L460.0 541.32L460.9 540.95L461.7 540.64L462.5 540.55L463.4 540.80L464.2 541.29L465.0 541.81L465.9 542.14L466.7 542.25L467.5 542.26L468.3 542.13L469.2 541.88L469.9 541.48L470.8 540.92L471.6 540.31L472.4 539.79L473.2 539.48L474.1 539.46L474.9 539.68L475.7 540.00L476.5 540.28L477.4 540.55L478.3 540.84L479.1 541.21L480.0 541.92L480.9 542.72L481.8 542.94L482.6 541.90L483.5 540.30L484.5 539.48L485.2 539.88L486.0 540.77L486.8 541.85L487.7 542.77L488.4 543.20L489.3 542.84L490.1 541.89L490.9 540.87L491.8 540.28L492.6 540.34L493.4 540.75L494.2 541.25L495.1 541.61L495.8 541.75L496.6 541.86L497.4 541.92L498.3 541.92L499.1 541.88L499.9 541.75L500.7 541.54L501.5 541.29L502.3 541.04L503.0 540.81L503.9 540.50L504.7 540.16L505.6 539.91L506.4 539.88L507.2 540.31L508.0 541.05L508.8 541.71L509.7 541.88L510.5 541.38L511.3 540.44L512.1 539.38L512.9 538.52L513.7 538.16L514.6 538.70L515.4 539.91L516.2 541.17L517.0 541.88L517.9 541.50L518.8 540.48L519.6 539.88L520.5 540.35L521.4 541.22L522.3 541.61L523.1 541.11L523.9 540.17L524.8 539.28L525.6 538.95L526.5 539.60L527.3 540.85L528.1 542.06L528.9 542.54L529.8 541.80L530.6 540.30L531.4 538.82L532.3 538.16L533.1 538.82L533.9 540.28L534.8 541.78L535.6 542.54L536.4 542.09L537.2 540.95L538.1 539.76L538.9 539.22L539.7 539.68L540.5 540.73L541.3 541.85L542.2 542.54L543.0 542.66L543.8 542.58L544.6 542.34L545.4 542.00L546.2 541.61L547.0 541.03L547.8 540.23L548.6 539.42L549.4 538.79L550.2 538.55L551.0 538.85L551.8 539.55L552.6 540.43L553.4 541.28L554.2 541.88L555.0 542.34L555.8 542.66L556.6 542.76L557.5 542.54L558.3 541.93L559.0 540.94L559.9 539.86L560.7 538.98L561.5 538.55L562.3 538.81L563.1 539.54L563.9 540.46L564.7 541.25L565.5 541.61L566.2 541.41L567.0 540.85L567.8 540.13L568.6 539.43L569.5 538.95L570.2 538.75L570.9 538.60L571.7 538.48L572.5 538.42L573.3 538.41L574.1 538.45L574.8 538.55L575.7 538.88L576.5 539.40L577.3 539.98L578.0 540.50L578.8 540.81L579.6 540.81L580.5 540.55L581.3 540.28L582.1 540.28L583.0 540.95L583.8 541.92L584.7 542.54L585.5 542.50L586.3 542.20L587.2 541.83L588.0 541.61L588.9 541.55L589.7 541.56L590.6 541.66L591.4 541.88L592.4 542.65L593.3 543.61L594.0 543.87L594.7 541.47L595.4 539.48L596.2 540.84L597.1 543.28L598.0 544.80L598.9 543.71L600.0 541.88L600.7 541.52L601.4 541.22L602.3 541.03L603.1 541.01L604.0 541.21L604.8 541.86L605.6 542.92L606.4 544.05L607.2 544.92L608.0 545.20L608.9 544.28L609.7 542.48L610.5 540.71L611.3 539.88L612.2 541.13L613.0 543.51L613.9 544.80L614.7 544.08L615.6 542.48L616.5 540.81L617.3 539.88L618.2 540.33L619.0 541.62L619.9 542.54L620.7 542.50L621.5 542.12L622.4 541.79L623.2 541.88L624.1 542.82L624.9 544.31L625.7 545.58L626.6 545.86L627.4 544.42L628.2 541.84L629.0 539.35L629.9 538.16L630.7 539.09L631.5 541.33L632.4 543.64L633.2 544.80L634.0 544.03L634.8 542.14L635.6 540.25L636.5 539.48L637.2 540.03L638.0 541.24L638.8 542.78L639.7 544.32L640.5 545.55L641.2 546.12L642.1 545.48L642.9 543.78L643.6 542.02L644.5 541.21L645.2 541.67L646.0 542.79L646.8 544.18L647.7 545.42L648.5 546.12L649.3 546.07L650.1 545.52L650.9 544.82L651.7 544.29L652.5 544.27L653.2 545.03L654.0 546.36L654.8 547.84L655.6 549.05L656.4 549.58L657.2 549.20L658.0 548.19L658.8 546.89L659.6 545.64L660.4 544.80L661.2 544.38L662.0 544.16L662.9 544.10L663.7 544.15L664.4 544.27L665.3 544.66L666.1 545.30L666.9 545.89L667.7 546.12L668.6 545.82L669.5 545.17L670.3 544.43L671.0 543.87L672.1 543.00L673.0 542.94L673.9 544.29L674.8 546.21L675.7 547.19L676.6 546.29L677.4 544.45L678.4 542.94L679.1 542.32L680.0 541.87L680.8 541.62L681.7 541.61L682.5 542.13L683.3 543.07L684.2 543.84L685.0 543.87L685.8 542.57L686.6 540.40L687.4 538.30L688.3 537.23L689.0 537.46L689.8 538.28L690.6 539.43L691.5 540.60L692.2 541.51L693.0 541.88L693.9 541.20L694.7 539.68L695.5 538.09L696.3 537.23L697.2 537.79L698.0 539.17L698.9 539.88L699.7 539.33L700.6 538.21L701.5 537.09L702.3 536.56L703.2 537.30L704.0 538.73L704.9 539.48L705.7 538.99L706.6 537.93L707.4 536.85L708.2 536.30L709.2 536.83L710.1 537.96L710.9 538.55L711.8 537.20L712.9 535.90L713.6 536.14L714.3 536.73L715.2 537.46L716.0 538.13L716.9 538.55L717.7 538.64L718.5 538.53L719.4 538.34L720.1 538.17L720.9 538.16L721.8 538.60L722.7 539.24L723.5 539.48L724.3 538.86L725.2 537.85L726.2 537.23L726.9 537.24L727.7 537.42L728.6 537.73L729.4 538.12L730.1 538.55L731.1 539.71L731.9 541.05L732.8 541.61L733.6 540.93L734.3 539.58L735.2 538.25L736.1 537.62L736.8 537.80L737.6 538.32L738.4 539.04L739.2 539.85L740.0 540.62L740.8 541.21L741.6 541.70L742.4 542.20L743.2 542.66L744.0 543.02L744.7 543.22L745.4 543.20L746.3 542.44L747.1 541.09L747.9 539.86L748.7 539.48L749.5 540.27L750.3 541.79L751.1 543.53L752.0 544.97L752.7 545.59L753.6 544.82L754.4 543.01L755.2 541.06L756.0 539.88L756.9 539.86L757.7 540.46L758.6 541.20L759.4 541.61L760.3 541.35L761.1 540.78L762.0 540.55L762.8 540.89L763.7 541.52L764.5 542.16L765.3 542.54L766.3 542.55L767.2 542.26L768.0 541.88L768.9 540.75L770.0 540.28L770.6 540.77L771.4 541.61L772.2 542.62L773.0 543.62L773.9 544.40L774.6 544.80L775.5 544.65L776.2 544.06L777.0 543.24L777.8 542.43L778.6 541.88L779.4 541.61L780.2 541.41L781.0 541.28L781.8 541.20L782.6 541.18L783.3 541.21L784.2 541.47L785.0 541.94L785.8 542.38L786.6 542.54L787.4 542.17L788.2 541.46L789.0 540.86L789.9 540.81L790.6 541.51L791.4 542.73L792.2 544.08L793.0 545.16L793.9 545.59L794.6 545.20L795.4 544.26L796.2 543.04L797.0 541.83L797.8 540.90L798.5 540.55L799.4 541.10L800.2 542.37L801.1 543.91L801.8 545.23L802.5 545.86L803.5 545.02L804.2 543.15L805.2 541.88L805.9 541.81L806.7 542.06L807.5 542.46L808.3 542.89L809.2 543.20L810.0 543.42L810.8 543.64L811.6 543.82L812.4 543.91L813.1 543.87L813.9 543.60L814.7 543.13L815.5 542.61L816.3 542.15L817.1 541.88L817.9 541.85L818.7 541.96L819.5 542.14L820.3 542.34L821.0 542.49L821.8 542.54L822.6 542.44L823.4 542.22L824.2 541.97L825.0 541.74L825.8 541.61L826.6 541.58L827.4 541.61L828.3 541.68L829.0 541.78L829.8 541.88L830.7 542.19L831.5 542.55L832.4 542.54L833.1 542.12L833.9 541.43L834.8 540.67L835.6 540.08L836.4 539.88L837.3 540.42L838.1 541.50L838.9 542.61L839.7 543.20L840.6 542.81L841.5 541.83L842.4 541.21L843.2 541.29L844.0 541.61L844.9 542.06L845.7 542.54L846.6 543.39L847.4 544.34L848.3 544.80L849.1 544.59L849.8 544.08L850.7 543.45L851.5 542.88L852.3 542.54L853.1 542.44L853.9 542.45L854.7 542.58L855.5 542.83L856.3 543.20L857.1 543.77L857.8 544.60L858.6 545.52L859.4 546.34L860.2 546.87L861.0 546.92L861.8 546.08L862.6 544.48L863.4 542.63L864.2 541.06L864.9 540.28L865.8 540.60L866.6 541.67L867.4 543.04L868.2 544.23L868.9 544.80L869.8 544.35L870.7 543.18L871.5 541.92L872.2 541.21L873.2 541.54L874.0 542.45L874.9 542.94L875.7 542.35L876.6 541.33L877.6 540.81L878.3 541.08L879.1 541.67L879.9 542.37L880.8 542.96L881.5 543.20L882.4 542.84L883.2 542.02L884.1 541.20L884.9 540.81L885.7 541.12L886.5 541.83L887.3 542.57L888.2 542.94L888.9 542.82L889.7 542.46L890.5 541.99L891.4 541.53L892.2 541.21L893.0 541.01L893.8 540.85L894.6 540.76L895.4 540.73L896.2 540.81L897.0 541.21L897.7 541.84L898.5 542.39L899.5 542.54L900.1 542.28L900.9 541.77L901.7 541.13L902.5 540.46L903.4 539.89L904.1 539.52L904.8 539.48L905.7 540.41L906.5 542.12L907.3 543.83L908.1 544.80L908.9 544.72L909.7 544.13L910.5 543.32L911.3 542.56L912.1 542.14L912.9 542.14L913.8 542.36L914.6 542.70L915.4 543.02L916.1 543.20L917.0 543.07L917.8 542.79L918.7 542.94L919.5 543.76L920.4 545.02L921.3 546.13L922.1 546.52L922.9 545.30L923.8 543.13L924.7 541.61L925.4 541.49L926.2 541.78L927.1 542.21L927.9 542.55L928.7 542.54L929.6 541.79L930.4 540.58L931.2 539.45L932.0 538.95L932.8 539.27L933.6 540.03L934.4 541.01L935.2 541.92L936.0 542.54L936.8 542.87L937.6 543.09L938.4 543.17L939.2 543.06L939.9 542.72L940.8 541.62L941.6 539.95L942.4 538.48L943.2 537.97L944.0 539.08L944.8 541.25L945.6 543.43L946.5 544.57L947.2 544.42L948.0 543.76L948.8 542.79L949.6 541.72L950.4 540.75L951.2 540.08L952.0 539.65L952.8 539.40L953.6 539.28L954.4 539.26L955.1 539.29L956.0 539.53L956.8 539.98L957.6 540.42L958.4 540.61L959.2 540.29L960.1 539.65L960.9 539.16L961.7 539.29L962.5 540.52L963.4 542.49L964.2 544.38L965.0 545.36L965.8 544.95L966.6 543.66L967.4 542.24L968.3 541.40L969.1 541.41L969.8 541.78L970.6 542.30L971.5 542.77L972.3 542.99L973.1 542.93L973.9 542.74L974.7 542.45L975.5 542.08L976.2 541.67L977.1 540.85L977.9 539.77L978.7 538.91L979.5 538.76L980.3 539.54L981.1 540.97L981.9 542.60L982.7 543.95L983.5 544.57L984.4 543.91L985.2 542.30L986.0 540.60L986.8 539.69L987.6 540.26L988.4 541.72L989.4 542.72L990.0 542.77L990.7 542.67L991.5 542.47L992.3 542.21L993.1 541.96L993.9 541.76L994.7 541.67L995.4 541.69L996.2 541.79L997.0 541.93L997.7 542.09L998.5 542.23L999.2 542.32L1000.0 542.33L1000.7 542.22L1001.5 542.02L1002.3 541.76L1003.1 541.49L1003.8 541.25L1004.6 541.07L1005.2 541.01L1006.1 541.11L1007.0 541.38L1007.7 541.72L1008.5 542.06L1009.2 542.33L1010.1 542.62L1010.9 542.92L1011.7 543.09L1012.5 542.99L1013.3 542.39L1014.1 541.44L1014.9 540.53L1015.8 540.08L1016.6 540.22L1017.3 540.65L1018.1 541.25L1019.0 541.85L1019.8 542.33L1020.5 542.71L1021.3 543.09L1022.1 543.42L1022.9 543.62L1023.7 543.65L1024.5 543.44L1025.2 543.04L1026.0 542.55L1026.8 542.05L1027.6 541.63L1028.3 541.40L1029.1 541.39L1029.9 541.54L1030.7 541.78L1031.5 542.04L1032.2 542.24L1033.0 542.33L1033.8 542.22L1034.7 541.98L1035.5 541.70L1036.2 541.47L1036.9 541.40L1037.8 541.82L1038.6 542.49L1039.6 542.72L1040.3 542.36L1041.1 541.70L1042.0 540.95L1042.8 540.34L1043.5 540.08L1044.5 540.60L1045.3 541.71L1046.2 542.72L1046.9 543.34L1047.8 543.95L1048.6 544.41L1049.5 544.57L1050.3 544.25L1051.1 543.59L1051.9 542.85L1052.8 542.33L1053.6 542.13L1054.4 542.09L1055.2 542.07L1056.0 541.93L1056.9 541.53L1057.7 540.97L1058.5 540.49L1059.3 540.35L1060.2 540.74L1061.0 541.50L1061.8 542.28L1062.6 542.72L1063.5 542.65L1064.3 542.28L1065.2 541.86L1065.9 541.67L1066.9 541.95L1067.7 542.47L1068.6 542.72L1069.5 542.46L1070.3 541.93L1071.2 541.40L1072.1 540.82L1073.0 540.23L1073.9 540.08L1074.8 541.37L1075.8 542.72L1076.6 542.75L1077.6 542.49L1078.5 542.15L1079.1 541.93"/>
<path class="tr" style="stroke-width:1.1" d="M376.2 588.36L376.5 588.57L377.0 588.89L377.5 589.24L378.1 589.53L378.9 589.69L379.3 589.71L379.7 589.70L380.1 589.68L380.6 589.63L381.1 589.56L381.6 589.48L382.2 589.38L382.8 589.27L383.5 589.15L384.2 589.02L384.6 588.94L385.1 588.85L385.6 588.74L386.1 588.63L386.6 588.50L387.2 588.37L387.8 588.24L388.3 588.11L388.9 587.97L389.5 587.83L390.1 587.70L390.6 587.58L391.2 587.46L391.7 587.35L392.2 587.25L392.7 587.16L393.1 587.09L393.5 587.03L394.3 586.94L395.0 586.91L395.5 586.93L395.9 586.99L396.4 587.08L396.9 587.18L397.5 587.30L397.9 587.39L398.4 587.50L399.0 587.63L399.5 587.78L400.0 587.93L400.6 588.08L401.1 588.23L401.7 588.38L402.2 588.51L402.8 588.62L403.3 588.73L403.8 588.82L404.3 588.91L404.8 588.99L405.4 589.07L405.9 589.15L406.4 589.22L406.9 589.29L407.5 589.36L408.1 589.42L408.6 589.47L409.1 589.53L409.6 589.58L410.1 589.64L410.6 589.69L411.2 589.75L411.7 589.79L412.3 589.84L412.8 589.88L413.3 589.91L413.8 589.93L414.3 589.95L414.7 589.95L415.4 589.93L416.0 589.88L416.5 589.80L417.1 589.71L417.6 589.62L418.1 589.53L418.6 589.46L419.0 589.42L419.4 589.42L420.2 589.63L420.7 590.01L421.4 590.35L421.8 590.47L422.4 590.60L422.9 590.72L423.5 590.84L424.2 590.93L424.8 590.99L425.4 591.02L425.9 590.98L426.5 590.90L427.1 590.79L427.7 590.66L428.3 590.53L428.8 590.42L429.3 590.35L430.0 590.35L430.6 590.43L431.1 590.51L431.6 590.51L432.0 590.35L432.7 589.63L433.2 587.70L433.7 582.28L434.2 578.00L434.7 580.33L435.0 584.38L435.4 586.68L436.0 588.36L436.4 589.07L437.0 589.49L438.0 589.69L438.4 589.70L438.8 589.69L439.3 589.66L439.9 589.60L440.4 589.52L441.0 589.43L441.6 589.33L442.2 589.23L442.7 589.13L443.3 589.02L443.8 588.92L444.3 588.79L444.9 588.66L445.4 588.52L445.9 588.38L446.4 588.23L447.0 588.09L447.5 587.95L448.0 587.81L448.6 587.70L449.1 587.59L449.6 587.47L450.2 587.34L450.7 587.22L451.3 587.10L451.8 587.00L452.4 586.90L452.9 586.83L453.5 586.78L454.0 586.75L454.6 586.77L455.1 586.82L455.6 586.91L456.2 587.03L456.7 587.18L457.2 587.35L457.8 587.53L458.3 587.71L458.9 587.89L459.4 588.07L460.0 588.22L460.5 588.36L461.0 588.46L461.5 588.56L462.0 588.66L462.5 588.75L463.1 588.84L463.6 588.93L464.1 589.02L464.6 589.10L465.1 589.17L465.6 589.24L466.2 589.31L466.7 589.37L467.2 589.42L467.7 589.47L468.2 589.51L468.7 589.55L469.2 589.58L469.7 589.61L470.3 589.63L470.8 589.65L471.3 589.66L471.8 589.67L472.3 589.68L472.8 589.68L473.3 589.69L473.8 589.69L474.3 589.68L474.9 589.66L475.4 589.64L476.0 589.61L476.5 589.57L477.0 589.53L477.6 589.49L478.1 589.46L478.6 589.43L479.1 589.41L479.6 589.40L480.0 589.40L480.5 589.42L481.2 589.50L481.8 589.63L482.4 589.79L482.9 589.96L483.4 590.12L483.9 590.26L484.5 590.35L485.0 590.41L485.6 590.44L486.2 590.45L486.8 590.45L487.3 590.43L487.9 590.39L488.4 590.35L489.1 590.29L489.7 590.23L490.3 590.14L490.8 590.03L491.3 589.88L491.8 589.69L492.5 589.23L493.0 587.70L493.7 582.51L494.4 578.40L494.9 580.89L495.3 585.04L495.7 587.40L496.4 589.02L496.8 589.30L497.3 589.49L497.8 589.61L498.4 589.67L499.1 589.69L499.7 589.69L500.4 589.69L500.9 589.68L501.3 589.66L501.8 589.62L502.4 589.57L502.9 589.50L503.4 589.43L504.0 589.34L504.5 589.25L505.1 589.14L505.7 589.02L506.2 588.92L506.7 588.79L507.2 588.64L507.7 588.48L508.2 588.31L508.8 588.14L509.3 587.97L509.8 587.81L510.4 587.66L510.9 587.53L511.4 587.42L511.9 587.34L512.3 587.30L512.9 587.29L513.5 587.33L514.0 587.41L514.6 587.52L515.1 587.65L515.6 587.80L516.1 587.95L516.6 588.10L517.1 588.24L517.7 588.36L518.2 588.47L518.7 588.57L519.2 588.68L519.7 588.79L520.2 588.90L520.7 589.01L521.3 589.11L521.8 589.22L522.4 589.32L523.0 589.42L523.4 589.50L523.9 589.59L524.4 589.68L524.9 589.77L525.4 589.86L525.9 589.95L526.5 590.04L527.0 590.12L527.5 590.19L528.0 590.25L528.6 590.30L529.1 590.33L529.6 590.35L530.1 590.35L530.6 590.31L531.1 590.26L531.7 590.19L532.2 590.11L532.7 590.02L533.2 589.93L533.7 589.85L534.2 589.78L534.7 589.72L535.2 589.68L535.7 589.67L536.2 589.69L536.8 589.74L537.3 589.83L537.8 589.94L538.3 590.08L538.8 590.23L539.3 590.39L539.8 590.56L540.3 590.72L540.8 590.87L541.4 591.01L541.9 591.13L542.4 591.22L542.9 591.28L543.4 591.32L544.0 591.34L544.5 591.36L545.1 591.36L545.6 591.35L546.2 591.32L546.8 591.29L547.3 591.23L547.8 591.17L548.3 591.09L548.7 590.99L549.2 590.88L549.5 590.75L550.5 590.28L551.1 589.69L551.5 588.86L551.9 587.70L552.7 583.19L553.2 579.73L553.7 581.59L554.2 585.04L554.5 587.70L555.5 589.69L555.9 589.86L556.3 589.98L556.8 590.04L557.3 590.06L557.9 590.04L558.5 589.99L559.1 589.93L559.7 589.86L560.3 589.79L560.9 589.73L561.5 589.69L562.0 589.66L562.5 589.62L563.0 589.59L563.5 589.54L564.0 589.49L564.5 589.44L565.0 589.39L565.5 589.33L566.1 589.27L566.6 589.21L567.1 589.15L567.6 589.09L568.1 589.02L568.6 588.95L569.1 588.87L569.7 588.78L570.2 588.67L570.7 588.57L571.2 588.47L571.7 588.37L572.2 588.28L572.7 588.20L573.2 588.14L573.7 588.10L574.3 588.08L574.8 588.09L575.3 588.14L575.8 588.21L576.3 588.31L576.8 588.43L577.3 588.57L577.8 588.71L578.3 588.87L578.8 589.03L579.3 589.18L579.8 589.33L580.3 589.47L580.9 589.59L581.4 589.69L581.9 589.76L582.4 589.83L582.9 589.90L583.5 589.97L584.0 590.03L584.6 590.08L585.1 590.14L585.7 590.18L586.2 590.23L586.8 590.26L587.3 590.29L587.8 590.32L588.4 590.34L588.9 590.35L589.4 590.35L589.9 590.34L590.5 590.31L591.1 590.26L591.6 590.20L592.1 590.13L592.7 590.06L593.2 589.98L593.7 589.91L594.2 589.84L594.7 589.78L595.2 589.73L595.6 589.70L596.0 589.69L596.7 589.71L597.4 589.78L597.9 589.88L598.5 590.00L599.0 590.12L599.5 590.25L600.0 590.35L600.6 590.47L601.1 590.61L601.6 590.74L602.1 590.86L602.7 590.96L603.3 591.02L603.8 591.04L604.3 591.06L604.9 591.07L605.5 591.08L606.1 591.07L606.6 591.05L607.2 591.02L607.7 590.95L608.2 590.87L608.6 590.75L609.6 590.33L610.1 589.67L610.6 588.36L611.3 583.79L611.9 580.12L612.4 581.82L612.9 585.04L613.2 587.30L613.9 589.02L614.3 589.30L614.8 589.49L615.3 589.61L615.9 589.67L616.5 589.69L617.2 589.69L617.9 589.69L618.3 589.68L618.8 589.67L619.3 589.65L619.7 589.62L620.3 589.59L620.8 589.55L621.3 589.49L621.8 589.44L622.4 589.37L622.9 589.29L623.5 589.21L624.0 589.12L624.6 589.02L625.1 588.91L625.6 588.78L626.1 588.62L626.6 588.45L627.2 588.27L627.7 588.09L628.3 587.90L628.8 587.72L629.3 587.55L629.9 587.40L630.4 587.26L630.9 587.15L631.4 587.07L631.9 587.03L632.5 587.03L633.0 587.07L633.6 587.16L634.1 587.28L634.6 587.43L635.2 587.59L635.7 587.76L636.2 587.93L636.7 588.09L637.3 588.24L637.8 588.36L638.3 588.45L638.8 588.54L639.3 588.63L639.8 588.72L640.3 588.81L640.9 588.90L641.4 588.98L641.9 589.06L642.4 589.14L642.9 589.22L643.5 589.29L644.0 589.36L644.5 589.42L645.0 589.48L645.5 589.54L646.0 589.60L646.6 589.66L647.1 589.71L647.6 589.76L648.1 589.81L648.7 589.85L649.2 589.89L649.7 589.91L650.2 589.94L650.7 589.95L651.1 589.95L651.7 589.94L652.3 589.90L652.8 589.84L653.3 589.77L653.9 589.69L654.4 589.61L654.9 589.54L655.4 589.48L655.9 589.44L656.4 589.42L657.0 589.44L657.5 589.47L658.0 589.53L658.6 589.60L659.1 589.67L659.6 589.75L660.2 589.82L660.7 589.88L661.2 589.93L661.8 589.95L662.3 589.97L662.9 589.99L663.4 590.01L664.0 590.02L664.6 590.02L665.2 590.00L665.7 589.97L666.2 589.91L666.7 589.81L667.1 589.69L668.0 589.19L668.6 588.42L669.1 587.03L669.8 582.40L670.4 578.80L670.9 580.78L671.3 584.38L671.6 587.02L672.4 589.02L672.7 589.24L673.1 589.40L673.6 589.50L674.1 589.56L674.7 589.58L675.3 589.57L675.9 589.54L676.5 589.50L677.1 589.46L677.7 589.42L678.2 589.39L678.6 589.34L679.1 589.28L679.6 589.21L680.1 589.13L680.7 589.04L681.2 588.95L681.7 588.85L682.2 588.75L682.8 588.65L683.3 588.55L683.8 588.45L684.3 588.36L684.8 588.26L685.3 588.14L685.9 588.00L686.4 587.86L686.9 587.72L687.4 587.57L687.9 587.44L688.4 587.31L688.9 587.20L689.4 587.12L689.9 587.06L690.5 587.03L691.0 587.03L691.5 587.08L692.0 587.15L692.5 587.26L693.0 587.40L693.5 587.56L694.0 587.73L694.5 587.91L695.1 588.11L695.6 588.30L696.1 588.50L696.6 588.68L697.1 588.86L697.6 589.02L698.1 589.18L698.6 589.35L699.1 589.52L699.7 589.69L700.2 589.87L700.7 590.04L701.2 590.21L701.7 590.38L702.2 590.53L702.7 590.67L703.2 590.80L703.7 590.92L704.2 591.02L704.8 591.09L705.3 591.15L705.8 591.18L706.2 591.21L706.7 591.22L707.2 591.22L707.7 591.22L708.2 591.22L708.7 591.22L709.3 591.22L709.8 591.23L710.3 591.25L710.9 591.28L711.4 591.32L711.9 591.37L712.4 591.43L713.0 591.50L713.5 591.57L714.0 591.64L714.6 591.71L715.2 591.78L715.7 591.85L716.3 591.91L716.8 591.97L717.3 592.01L717.9 592.05L718.4 592.07L718.9 592.08L719.4 592.07L720.0 592.06L720.6 592.05L721.2 592.02L721.7 591.98L722.3 591.94L722.8 591.88L723.3 591.82L723.8 591.74L724.3 591.64L724.7 591.54L725.1 591.42L725.5 591.28L726.5 590.64L727.0 589.77L727.5 588.36L728.2 584.01L728.8 580.66L729.3 582.41L729.9 585.70L730.2 587.44L730.6 589.13L731.5 590.35L731.9 590.55L732.3 590.70L732.8 590.81L733.3 590.87L733.9 590.90L734.4 590.91L735.0 590.89L735.7 590.86L736.3 590.82L736.9 590.78L737.5 590.75L737.9 590.72L738.4 590.67L739.0 590.60L739.5 590.53L740.0 590.45L740.5 590.36L741.0 590.26L741.6 590.16L742.1 590.06L742.6 589.96L743.1 589.87L743.6 589.77L744.1 589.69L744.7 589.58L745.2 589.46L745.8 589.32L746.3 589.18L746.9 589.05L747.4 588.92L747.9 588.81L748.5 588.71L749.0 588.65L749.5 588.62L750.1 588.62L750.6 588.68L751.1 588.77L751.7 588.91L752.2 589.06L752.7 589.24L753.3 589.44L753.8 589.64L754.4 589.83L754.9 590.02L755.5 590.20L756.0 590.35L756.5 590.47L757.0 590.59L757.6 590.70L758.1 590.82L758.6 590.93L759.1 591.04L759.7 591.15L760.2 591.25L760.7 591.35L761.2 591.44L761.7 591.53L762.2 591.61L762.7 591.68L763.3 591.76L763.9 591.84L764.4 591.91L765.0 591.96L765.6 592.01L766.1 592.05L766.6 592.08L767.1 592.09L767.6 592.09L768.0 592.08L768.6 591.99L769.2 591.83L769.7 591.64L770.1 591.45L770.7 591.32L771.3 591.28L771.8 591.32L772.2 591.40L772.7 591.52L773.2 591.66L773.7 591.80L774.2 591.95L774.8 592.09L775.4 592.21L776.0 592.30L776.6 592.34L777.1 592.35L777.6 592.36L778.1 592.35L778.7 592.34L779.3 592.32L779.9 592.30L780.5 592.26L781.1 592.22L781.7 592.17L782.3 592.11L782.8 592.04L783.3 591.97L783.8 591.88L784.2 591.79L784.6 591.68L785.7 591.12L786.2 590.35L786.6 589.02L787.3 584.77L787.9 581.45L788.4 583.15L789.0 586.37L789.3 588.11L789.6 589.82L790.6 591.02L790.9 591.16L791.3 591.27L791.7 591.35L792.2 591.40L792.7 591.42L793.2 591.42L793.7 591.41L794.3 591.37L794.9 591.32L795.5 591.27L796.1 591.20L796.7 591.14L797.3 591.08L797.9 591.02L798.3 590.96L798.8 590.89L799.3 590.81L799.9 590.71L800.4 590.60L800.9 590.48L801.5 590.36L802.0 590.24L802.6 590.12L803.1 590.00L803.7 589.88L804.2 589.78L804.7 589.68L805.2 589.59L805.8 589.52L806.2 589.47L806.7 589.43L807.2 589.42L807.8 589.44L808.3 589.50L808.9 589.58L809.4 589.69L809.9 589.83L810.3 589.97L810.8 590.13L811.3 590.30L811.8 590.46L812.2 590.62L812.7 590.77L813.3 590.90L813.8 591.02L814.3 591.11L814.8 591.20L815.3 591.30L815.8 591.39L816.3 591.49L816.8 591.58L817.4 591.67L817.9 591.75L818.4 591.83L819.0 591.90L819.5 591.96L820.1 592.01L820.6 592.05L821.2 592.07L821.8 592.08L822.3 592.07L822.8 592.04L823.3 591.99L823.8 591.93L824.4 591.86L824.9 591.78L825.5 591.70L826.0 591.61L826.6 591.51L827.1 591.42L827.7 591.33L828.2 591.25L828.7 591.18L829.3 591.11L829.7 591.06L830.2 591.03L830.7 591.01L831.1 591.02L831.8 591.08L832.4 591.20L833.0 591.37L833.6 591.56L834.1 591.78L834.6 592.00L835.1 592.20L835.5 592.38L836.0 592.52L836.4 592.61L837.1 592.63L837.7 592.56L838.2 592.43L838.7 592.27L839.2 592.15L839.7 592.08L840.3 592.14L840.9 592.30L841.4 592.46L841.9 592.51L842.4 592.34L843.1 591.69L843.8 590.64L844.4 589.02L845.1 584.32L845.7 580.66L846.2 582.32L846.8 585.70L847.1 587.14L847.5 588.69L848.1 590.07L849.0 591.02L849.4 591.17L849.8 591.29L850.2 591.37L850.7 591.41L851.2 591.42L851.8 591.40L852.3 591.36L852.9 591.31L853.4 591.23L854.0 591.14L854.6 591.05L855.2 590.95L855.8 590.85L856.3 590.75L856.8 590.64L857.3 590.50L857.9 590.33L858.4 590.14L858.9 589.93L859.5 589.72L860.0 589.50L860.5 589.28L861.1 589.07L861.6 588.88L862.1 588.71L862.7 588.57L863.2 588.46L863.7 588.38L864.3 588.36L864.8 588.38L865.3 588.45L865.9 588.56L866.4 588.70L866.9 588.87L867.5 589.06L868.0 589.27L868.5 589.48L869.1 589.70L869.6 589.91L870.1 590.12L870.7 590.31L871.2 590.49L871.7 590.63L872.2 590.75L872.8 590.84L873.3 590.92L873.8 590.99L874.4 591.05L874.9 591.10L875.4 591.15L876.0 591.18L876.5 591.21L877.0 591.23L877.6 591.25L878.1 591.26L878.6 591.27L879.2 591.28L879.7 591.28L880.2 591.28L880.8 591.27L881.3 591.25L881.9 591.21L882.4 591.16L883.0 591.10L883.6 591.04L884.2 590.98L884.7 590.92L885.3 590.86L885.8 590.81L886.3 590.77L886.8 590.74L887.3 590.72L887.8 590.73L888.2 590.75L888.9 590.89L889.5 591.13L890.0 591.42L890.4 591.74L890.9 592.02L891.4 592.24L892.2 592.34L892.6 592.35L893.1 592.35L893.6 592.33L894.2 592.29L894.8 592.25L895.4 592.19L896.0 592.12L896.6 592.04L897.2 591.95L897.8 591.85L898.3 591.75L898.9 591.64L899.3 591.52L899.8 591.40L900.1 591.28L901.3 590.70L901.7 589.93L902.1 588.62L902.9 584.38L903.5 581.05L904.0 582.59L904.5 585.70L904.8 587.56L905.1 589.46L906.1 590.75L906.5 590.89L906.8 590.99L907.3 591.05L907.7 591.08L908.2 591.07L908.7 591.04L909.3 590.99L909.9 590.92L910.4 590.83L911.0 590.74L911.6 590.64L912.2 590.54L912.8 590.44L913.4 590.35L913.9 590.27L914.4 590.18L914.9 590.07L915.4 589.94L915.9 589.80L916.4 589.66L917.0 589.51L917.5 589.36L918.0 589.21L918.6 589.06L919.1 588.92L919.6 588.79L920.2 588.67L920.7 588.56L921.2 588.48L921.7 588.41L922.2 588.37L922.7 588.36L923.3 588.38L923.9 588.44L924.4 588.52L925.0 588.64L925.6 588.78L926.1 588.93L926.7 589.10L927.2 589.28L927.8 589.46L928.3 589.64L928.8 589.81L929.3 589.97L929.8 590.12L930.2 590.25L930.7 590.35L931.3 590.47L931.9 590.58L932.5 590.67L933.0 590.74L933.6 590.80L934.1 590.85L934.5 590.90L935.0 590.94L935.5 590.98L936.0 591.02L936.5 591.06L937.0 591.11L937.5 591.15L938.0 591.19L938.5 591.22L938.9 591.23L939.5 591.22L940.0 591.20L940.6 591.15L941.0 591.08L941.5 590.99L942.0 590.87L942.5 590.73L943.0 590.58L943.6 590.43L944.1 590.28L944.7 590.14L945.2 590.02L945.7 589.92L946.2 589.85L946.7 589.82L947.2 589.83L947.8 589.92L948.3 590.10L948.8 590.34L949.3 590.62L949.8 590.92L950.3 591.23L950.8 591.52L951.4 591.77L951.9 591.96L952.5 592.07L953.0 592.11L953.5 592.13L954.0 592.12L954.6 592.10L955.1 592.05L955.7 591.99L956.3 591.91L956.8 591.82L957.4 591.71L957.9 591.59L958.3 591.45L958.7 591.30L959.1 591.15L960.0 590.37L960.3 589.33L960.7 587.85L961.3 583.72L962.0 580.59L962.5 582.12L963.0 585.21L963.3 588.14L964.3 590.49L964.7 590.66L965.1 590.79L965.5 590.87L966.0 590.92L966.5 590.93L967.0 590.91L967.6 590.88L968.2 590.82L968.7 590.76L969.3 590.68L969.9 590.61L970.4 590.54L970.9 590.49L971.5 590.42L972.0 590.35L972.5 590.25L973.0 590.14L973.5 590.03L974.0 589.90L974.5 589.78L975.1 589.66L975.6 589.54L976.1 589.43L976.6 589.32L977.1 589.24L977.5 589.17L978.1 589.10L978.6 589.03L979.2 588.97L979.7 588.92L980.2 588.87L980.7 588.84L981.3 588.82L981.8 588.81L982.3 588.82L982.9 588.85L983.5 588.90L984.0 588.96L984.4 589.04L984.9 589.14L985.4 589.25L985.9 589.37L986.4 589.50L986.9 589.64L987.4 589.78L987.9 589.91L988.5 590.05L989.0 590.17L989.6 590.29L990.2 590.40L990.7 590.49L991.2 590.55L991.7 590.61L992.2 590.67L992.7 590.73L993.2 590.78L993.8 590.83L994.3 590.88L994.9 590.93L995.4 590.97L995.9 591.01L996.5 591.05L997.0 591.08L997.5 591.10L998.1 591.12L998.6 591.14L999.1 591.15L999.5 591.15L1000.0 591.15L1000.6 591.12L1001.1 591.07L1001.7 590.99L1002.2 590.90L1002.8 590.79L1003.3 590.68L1003.8 590.57L1004.2 590.47L1004.7 590.37L1005.2 590.30L1005.7 590.24L1006.1 590.22L1006.6 590.22L1007.1 590.29L1007.7 590.42L1008.2 590.60L1008.7 590.81L1009.2 591.04L1009.7 591.26L1010.2 591.46L1010.7 591.63L1011.3 591.75L1011.8 591.81L1012.3 591.80L1012.8 591.78L1013.4 591.73L1013.9 591.66L1014.5 591.57L1015.1 591.47L1015.7 591.35L1016.2 591.22L1016.7 591.08L1017.2 590.94L1017.7 590.79L1018.1 590.64L1018.4 590.49L1019.4 589.88L1019.7 589.12L1020.0 587.85L1020.7 583.77L1021.3 580.59L1021.8 582.13L1022.4 585.21L1022.8 587.05L1023.3 588.94L1024.4 590.22L1024.7 590.36L1025.1 590.46L1025.6 590.52L1026.0 590.54L1026.5 590.53L1027.0 590.50L1027.6 590.44L1028.1 590.37L1028.7 590.29L1029.3 590.19L1029.9 590.10L1030.5 590.00L1031.0 589.91L1031.6 589.83L1032.1 589.76L1032.6 589.67L1033.1 589.58L1033.6 589.47L1034.1 589.35L1034.6 589.23L1035.1 589.10L1035.7 588.97L1036.2 588.84L1036.8 588.71L1037.3 588.59L1037.8 588.48L1038.3 588.38L1038.9 588.29L1039.4 588.21L1039.9 588.16L1040.4 588.12L1040.9 588.11L1041.4 588.13L1042.0 588.17L1042.5 588.24L1043.1 588.33L1043.6 588.44L1044.1 588.57L1044.7 588.71L1045.2 588.85L1045.7 589.00L1046.2 589.16L1046.7 589.31L1047.2 589.45L1047.7 589.59L1048.3 589.72L1048.8 589.83L1049.3 589.93L1049.8 590.04L1050.4 590.16L1050.9 590.28L1051.4 590.39L1051.9 590.51L1052.4 590.62L1052.9 590.73L1053.4 590.83L1054.0 590.92L1054.5 590.99L1055.0 591.06L1055.6 591.11L1056.1 591.14L1056.7 591.15L1057.2 591.13L1057.7 591.10L1058.2 591.05L1058.8 590.98L1059.3 590.90L1059.9 590.80L1060.4 590.70L1061.0 590.60L1061.6 590.49L1062.1 590.38L1062.7 590.27L1063.2 590.17L1063.7 590.08L1064.2 589.99L1064.7 589.92L1065.1 589.87L1065.6 589.84L1065.9 589.83L1066.8 589.89L1067.3 590.06L1067.8 590.30L1068.2 590.56L1068.6 590.82L1069.2 591.02L1069.9 591.15L1070.3 591.17L1070.8 591.19L1071.3 591.21L1071.9 591.21L1072.5 591.21L1073.1 591.20L1073.7 591.18L1074.3 591.16L1074.9 591.12L1075.5 591.08L1076.1 591.03L1076.6 590.97L1077.1 590.91L1077.5 590.83L1077.8 590.75L1078.9 589.89L1079.1 588.51L1079.6 586.06L1079.8 583.89"/>
<text x="222.7" y="589.6" class="lab2" textLength="17.0" lengthAdjust="spacingAndGlyphs">I1a</text>
<text x="246.7" y="589.6" class="lab2" textLength="17.4" lengthAdjust="spacingAndGlyphs">I1b</text>
<text x="275.9" y="589.6" class="lab2" textLength="35.1" lengthAdjust="spacingAndGlyphs">1000uV</text>
<text x="324.4" y="589.6" class="lab2">l</text>
<text x="334.4" y="589.6" class="lab2" textLength="35.9" lengthAdjust="spacingAndGlyphs">0.10Hz</text>
<text x="245.9" y="634.3" class="lab2" textLength="24.7" lengthAdjust="spacingAndGlyphs">70uV</text>
<text x="283.2" y="634.3" class="lab2">l</text>
<text x="293.1" y="634.3" class="lab2" textLength="35.9" lengthAdjust="spacingAndGlyphs">0.53Hz</text>
<text x="341.2" y="634.3" class="lab2">h</text>
<text x="351.9" y="634.3" class="lab2" textLength="24.4" lengthAdjust="spacingAndGlyphs">70Hz</text>
<text x="389.4" y="634.3" class="lab2">n</text>
<text x="400.9" y="634.3" class="lab2" textLength="24.4" lengthAdjust="spacingAndGlyphs">50Hz</text>
<text x="219.2" y="634.3" class="lab2"><tspan fill="#d0d0d0">1</tspan><tspan fill="#c4c4c4" dx="-0.5">:</tspan><tspan dx="0.8">7</tspan></text>
<path d="M971.5 634.8V612 M971.5 634.8H1052" stroke="#333" stroke-width="1.1" fill="none"/>
<path d="M971.5 605.5L969.4 614L973.6 614Z M1059.5 634.8L1051 632.7L1051 636.9Z" fill="#222"/>
<text x="937.5" y="627.5" class="sc">70<tspan font-family="Liberation Serif, serif" font-size="12px" dx="2">µ</tspan>V</text>
<text x="1003" y="647" class="sc">1 sec</text>
</svg>
<div id="cap"><div class="abb">Abb. 116a:</div><div class="txt">55-jähriger Patient; 3 Tage nach Operation wegen pontomesenzephaler Blutung vor 5 Tagen. Komatös.Bei starken Schmerzreizen ungezielte Abwehr-<br>bewegungen.<br>EEG: Ableitung zur Mittelwertreferenz. Diffus verteilte, niedrige <span class="gr">α</span>-<span class="gr">β</span>-Mischaktivität, Dominanz der 11-12/s-Wellen.</div></div>
</body></html>
